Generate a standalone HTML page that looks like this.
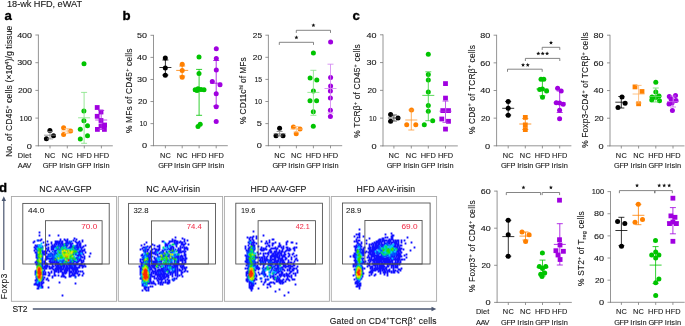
<!DOCTYPE html>
<html><head><meta charset="utf-8"><style>
html,body{margin:0;padding:0;background:#fff;overflow:hidden;}
svg{display:block;font-family:"Liberation Sans", sans-serif;will-change:transform;}
</style></head><body>
<svg width="685" height="326" viewBox="0 0 685 326">
<rect width="685" height="326" fill="#fff"/>
<text x="7.00" y="7.10" font-size="9.2" text-anchor="start" font-weight="normal" fill="#151515" stroke="#151515" stroke-width="0.1" textLength="75.00" lengthAdjust="spacing">18-wk HFD, eWAT</text>
<text x="4.4" y="19.8" font-size="13.2" font-weight="bold" fill="#000" stroke="#000" stroke-width="0.35">a</text>
<text x="122.4" y="19.6" font-size="13.2" font-weight="bold" fill="#000" stroke="#000" stroke-width="0.35">b</text>
<text x="352.6" y="19.9" font-size="13.2" font-weight="bold" fill="#000" stroke="#000" stroke-width="0.35">c</text>
<text x="-0.9" y="192.0" font-size="13.2" font-weight="bold" fill="#000" stroke="#000" stroke-width="0.35">d</text>
<line x1="38.40" y1="34.60" x2="38.40" y2="146.20" stroke="#7a7a7a" stroke-width="0.8"/>
<line x1="38.00" y1="145.80" x2="112.80" y2="145.80" stroke="#7a7a7a" stroke-width="0.8"/>
<line x1="35.40" y1="145.80" x2="38.40" y2="145.80" stroke="#7a7a7a" stroke-width="0.8"/>
<text x="32.00" y="148.55" font-size="7.6" text-anchor="end" font-weight="normal" fill="#151515" stroke="#151515" stroke-width="0.1" textLength="5.15" lengthAdjust="spacingAndGlyphs">0</text>
<line x1="35.40" y1="118.10" x2="38.40" y2="118.10" stroke="#7a7a7a" stroke-width="0.8"/>
<text x="32.00" y="120.85" font-size="7.6" text-anchor="end" font-weight="normal" fill="#151515" stroke="#151515" stroke-width="0.1" textLength="12.45" lengthAdjust="spacingAndGlyphs">100</text>
<line x1="35.40" y1="90.40" x2="38.40" y2="90.40" stroke="#7a7a7a" stroke-width="0.8"/>
<text x="32.00" y="93.15" font-size="7.6" text-anchor="end" font-weight="normal" fill="#151515" stroke="#151515" stroke-width="0.1" textLength="14.05" lengthAdjust="spacingAndGlyphs">200</text>
<line x1="35.40" y1="62.70" x2="38.40" y2="62.70" stroke="#7a7a7a" stroke-width="0.8"/>
<text x="32.00" y="65.45" font-size="7.6" text-anchor="end" font-weight="normal" fill="#151515" stroke="#151515" stroke-width="0.1" textLength="14.85" lengthAdjust="spacingAndGlyphs">300</text>
<line x1="35.40" y1="35.00" x2="38.40" y2="35.00" stroke="#7a7a7a" stroke-width="0.8"/>
<text x="32.00" y="37.75" font-size="7.6" text-anchor="end" font-weight="normal" fill="#151515" stroke="#151515" stroke-width="0.1" textLength="14.85" lengthAdjust="spacingAndGlyphs">400</text>
<line x1="50.00" y1="145.80" x2="50.00" y2="148.40" stroke="#7a7a7a" stroke-width="0.8"/>
<line x1="67.30" y1="145.80" x2="67.30" y2="148.40" stroke="#7a7a7a" stroke-width="0.8"/>
<line x1="84.30" y1="145.80" x2="84.30" y2="148.40" stroke="#7a7a7a" stroke-width="0.8"/>
<line x1="101.40" y1="145.80" x2="101.40" y2="148.40" stroke="#7a7a7a" stroke-width="0.8"/>
<text x="50.00" y="157.70" font-size="7.4" text-anchor="middle" font-weight="normal" fill="#151515" stroke="#151515" stroke-width="0.1" textLength="10.90" lengthAdjust="spacing">NC</text>
<text x="50.00" y="168.00" font-size="7.4" text-anchor="middle" font-weight="normal" fill="#151515" stroke="#151515" stroke-width="0.1" textLength="14.40" lengthAdjust="spacing">GFP</text>
<text x="67.30" y="157.70" font-size="7.4" text-anchor="middle" font-weight="normal" fill="#151515" stroke="#151515" stroke-width="0.1" textLength="10.90" lengthAdjust="spacing">NC</text>
<text x="67.30" y="168.00" font-size="7.4" text-anchor="middle" font-weight="normal" fill="#151515" stroke="#151515" stroke-width="0.1" textLength="16.30" lengthAdjust="spacing">Irisin</text>
<text x="84.30" y="157.70" font-size="7.4" text-anchor="middle" font-weight="normal" fill="#151515" stroke="#151515" stroke-width="0.1" textLength="15.20" lengthAdjust="spacing">HFD</text>
<text x="84.30" y="168.00" font-size="7.4" text-anchor="middle" font-weight="normal" fill="#151515" stroke="#151515" stroke-width="0.1" textLength="14.40" lengthAdjust="spacing">GFP</text>
<text x="101.40" y="157.70" font-size="7.4" text-anchor="middle" font-weight="normal" fill="#151515" stroke="#151515" stroke-width="0.1" textLength="15.20" lengthAdjust="spacing">HFD</text>
<text x="101.40" y="168.00" font-size="7.4" text-anchor="middle" font-weight="normal" fill="#151515" stroke="#151515" stroke-width="0.1" textLength="16.30" lengthAdjust="spacing">Irisin</text>
<text x="17.80" y="157.70" font-size="7.4" text-anchor="start" font-weight="normal" fill="#151515" stroke="#151515" stroke-width="0.1" textLength="13.40" lengthAdjust="spacing">Diet</text>
<text x="17.80" y="168.00" font-size="7.4" text-anchor="start" font-weight="normal" fill="#151515" stroke="#151515" stroke-width="0.1" textLength="13.60" lengthAdjust="spacing">AAV</text>
<text x="12.00" y="157.10" font-size="8.5" text-anchor="start" font-weight="normal" fill="#151515" stroke="#151515" stroke-width="0.1" transform="rotate(-90 12.00 157.10)" textLength="131.40" lengthAdjust="spacing"><tspan>No. of CD45</tspan><tspan dy="-3.23" font-size="5.61">+</tspan><tspan dy="3.23"> cells (×10</tspan><tspan dy="-3.23" font-size="5.61">4</tspan><tspan dy="3.23">)/g tissue</tspan></text>
<circle cx="49.90" cy="130.60" r="2.5" fill="#000000"/>
<circle cx="53.50" cy="135.80" r="2.5" fill="#000000"/>
<circle cx="46.40" cy="138.80" r="2.5" fill="#000000"/>
<line x1="50.00" y1="131.50" x2="50.00" y2="138.90" stroke="#808080" stroke-width="0.8"/>
<line x1="47.00" y1="131.50" x2="53.00" y2="131.50" stroke="#808080" stroke-width="0.8"/>
<line x1="47.00" y1="138.90" x2="53.00" y2="138.90" stroke="#808080" stroke-width="0.8"/>
<line x1="44.00" y1="135.20" x2="56.00" y2="135.20" stroke="#808080" stroke-width="0.8"/>
<circle cx="63.60" cy="127.80" r="2.5" fill="#ff8000"/>
<circle cx="70.60" cy="131.10" r="2.5" fill="#ff8000"/>
<circle cx="63.60" cy="134.50" r="2.5" fill="#ff8000"/>
<line x1="67.30" y1="128.60" x2="67.30" y2="133.40" stroke="#ffc080" stroke-width="0.8"/>
<line x1="64.30" y1="128.60" x2="70.30" y2="128.60" stroke="#ffc080" stroke-width="0.8"/>
<line x1="64.30" y1="133.40" x2="70.30" y2="133.40" stroke="#ffc080" stroke-width="0.8"/>
<line x1="61.30" y1="131.00" x2="73.30" y2="131.00" stroke="#ffc080" stroke-width="0.8"/>
<circle cx="84.00" cy="63.70" r="2.5" fill="#00c400"/>
<circle cx="83.90" cy="110.90" r="2.5" fill="#00c400"/>
<circle cx="83.90" cy="120.80" r="2.5" fill="#00c400"/>
<circle cx="87.50" cy="125.80" r="2.5" fill="#00c400"/>
<circle cx="80.30" cy="129.20" r="2.5" fill="#00c400"/>
<circle cx="87.50" cy="135.70" r="2.5" fill="#00c400"/>
<circle cx="80.30" cy="139.10" r="2.5" fill="#00c400"/>
<line x1="84.10" y1="92.40" x2="84.10" y2="143.30" stroke="#80e280" stroke-width="0.8"/>
<line x1="81.10" y1="92.40" x2="87.10" y2="92.40" stroke="#80e280" stroke-width="0.8"/>
<line x1="81.10" y1="143.30" x2="87.10" y2="143.30" stroke="#80e280" stroke-width="0.8"/>
<line x1="78.10" y1="117.80" x2="90.10" y2="117.80" stroke="#80e280" stroke-width="0.8"/>
<rect x="94.80" y="105.10" width="4.80" height="4.80" fill="#a000e0"/>
<rect x="98.60" y="109.60" width="4.80" height="4.80" fill="#a000e0"/>
<rect x="94.80" y="113.90" width="4.80" height="4.80" fill="#a000e0"/>
<rect x="98.60" y="118.10" width="4.80" height="4.80" fill="#a000e0"/>
<rect x="102.20" y="122.60" width="4.80" height="4.80" fill="#a000e0"/>
<rect x="95.00" y="127.00" width="4.80" height="4.80" fill="#a000e0"/>
<rect x="102.00" y="127.00" width="4.80" height="4.80" fill="#a000e0"/>
<rect x="98.60" y="123.60" width="4.80" height="4.80" fill="#a000e0"/>
<line x1="101.20" y1="110.50" x2="101.20" y2="129.50" stroke="#ae26e5" stroke-width="0.8"/>
<line x1="98.20" y1="110.50" x2="104.20" y2="110.50" stroke="#ae26e5" stroke-width="0.8"/>
<line x1="98.20" y1="129.50" x2="104.20" y2="129.50" stroke="#ae26e5" stroke-width="0.8"/>
<line x1="95.20" y1="120.00" x2="107.20" y2="120.00" stroke="#ae26e5" stroke-width="0.8"/>
<line x1="153.50" y1="34.90" x2="153.50" y2="146.10" stroke="#7a7a7a" stroke-width="0.8"/>
<line x1="153.10" y1="145.70" x2="227.80" y2="145.70" stroke="#7a7a7a" stroke-width="0.8"/>
<line x1="150.50" y1="145.70" x2="153.50" y2="145.70" stroke="#7a7a7a" stroke-width="0.8"/>
<text x="147.10" y="148.45" font-size="7.6" text-anchor="end" font-weight="normal" fill="#151515" stroke="#151515" stroke-width="0.1" textLength="5.15" lengthAdjust="spacingAndGlyphs">0</text>
<line x1="150.50" y1="123.62" x2="153.50" y2="123.62" stroke="#7a7a7a" stroke-width="0.8"/>
<text x="147.10" y="126.37" font-size="7.6" text-anchor="end" font-weight="normal" fill="#151515" stroke="#151515" stroke-width="0.1" textLength="7.60" lengthAdjust="spacingAndGlyphs">10</text>
<line x1="150.50" y1="101.54" x2="153.50" y2="101.54" stroke="#7a7a7a" stroke-width="0.8"/>
<text x="147.10" y="104.29" font-size="7.6" text-anchor="end" font-weight="normal" fill="#151515" stroke="#151515" stroke-width="0.1" textLength="9.20" lengthAdjust="spacingAndGlyphs">20</text>
<line x1="150.50" y1="79.46" x2="153.50" y2="79.46" stroke="#7a7a7a" stroke-width="0.8"/>
<text x="147.10" y="82.21" font-size="7.6" text-anchor="end" font-weight="normal" fill="#151515" stroke="#151515" stroke-width="0.1" textLength="10.00" lengthAdjust="spacingAndGlyphs">30</text>
<line x1="150.50" y1="57.38" x2="153.50" y2="57.38" stroke="#7a7a7a" stroke-width="0.8"/>
<text x="147.10" y="60.13" font-size="7.6" text-anchor="end" font-weight="normal" fill="#151515" stroke="#151515" stroke-width="0.1" textLength="10.00" lengthAdjust="spacingAndGlyphs">40</text>
<line x1="150.50" y1="35.30" x2="153.50" y2="35.30" stroke="#7a7a7a" stroke-width="0.8"/>
<text x="147.10" y="38.05" font-size="7.6" text-anchor="end" font-weight="normal" fill="#151515" stroke="#151515" stroke-width="0.1" textLength="10.00" lengthAdjust="spacingAndGlyphs">50</text>
<line x1="165.40" y1="145.70" x2="165.40" y2="148.30" stroke="#7a7a7a" stroke-width="0.8"/>
<line x1="182.20" y1="145.70" x2="182.20" y2="148.30" stroke="#7a7a7a" stroke-width="0.8"/>
<line x1="199.10" y1="145.70" x2="199.10" y2="148.30" stroke="#7a7a7a" stroke-width="0.8"/>
<line x1="216.20" y1="145.70" x2="216.20" y2="148.30" stroke="#7a7a7a" stroke-width="0.8"/>
<text x="165.40" y="157.60" font-size="7.4" text-anchor="middle" font-weight="normal" fill="#151515" stroke="#151515" stroke-width="0.1" textLength="10.90" lengthAdjust="spacing">NC</text>
<text x="165.40" y="167.90" font-size="7.4" text-anchor="middle" font-weight="normal" fill="#151515" stroke="#151515" stroke-width="0.1" textLength="14.40" lengthAdjust="spacing">GFP</text>
<text x="182.20" y="157.60" font-size="7.4" text-anchor="middle" font-weight="normal" fill="#151515" stroke="#151515" stroke-width="0.1" textLength="10.90" lengthAdjust="spacing">NC</text>
<text x="182.20" y="167.90" font-size="7.4" text-anchor="middle" font-weight="normal" fill="#151515" stroke="#151515" stroke-width="0.1" textLength="16.30" lengthAdjust="spacing">Irisin</text>
<text x="199.10" y="157.60" font-size="7.4" text-anchor="middle" font-weight="normal" fill="#151515" stroke="#151515" stroke-width="0.1" textLength="15.20" lengthAdjust="spacing">HFD</text>
<text x="199.10" y="167.90" font-size="7.4" text-anchor="middle" font-weight="normal" fill="#151515" stroke="#151515" stroke-width="0.1" textLength="14.40" lengthAdjust="spacing">GFP</text>
<text x="216.20" y="157.60" font-size="7.4" text-anchor="middle" font-weight="normal" fill="#151515" stroke="#151515" stroke-width="0.1" textLength="15.20" lengthAdjust="spacing">HFD</text>
<text x="216.20" y="167.90" font-size="7.4" text-anchor="middle" font-weight="normal" fill="#151515" stroke="#151515" stroke-width="0.1" textLength="16.30" lengthAdjust="spacing">Irisin</text>
<text x="132.00" y="133.10" font-size="8.4" text-anchor="start" font-weight="normal" fill="#151515" stroke="#151515" stroke-width="0.1" transform="rotate(-90 132.00 133.10)" textLength="84.60" lengthAdjust="spacing"><tspan>% MFs of CD45</tspan><tspan dy="-3.19" font-size="5.54">+</tspan><tspan dy="3.19"> cells</tspan></text>
<circle cx="165.30" cy="58.10" r="2.5" fill="#000000"/>
<circle cx="165.30" cy="67.90" r="2.5" fill="#000000"/>
<circle cx="165.30" cy="75.30" r="2.5" fill="#000000"/>
<line x1="165.40" y1="60.00" x2="165.40" y2="75.00" stroke="#000000" stroke-width="0.8"/>
<line x1="162.40" y1="60.00" x2="168.40" y2="60.00" stroke="#000000" stroke-width="0.8"/>
<line x1="162.40" y1="75.00" x2="168.40" y2="75.00" stroke="#000000" stroke-width="0.8"/>
<line x1="159.40" y1="67.50" x2="171.40" y2="67.50" stroke="#000000" stroke-width="0.8"/>
<circle cx="182.20" cy="64.30" r="2.5" fill="#ff8000"/>
<circle cx="182.20" cy="70.40" r="2.5" fill="#ff8000"/>
<circle cx="182.20" cy="77.30" r="2.5" fill="#ff8000"/>
<line x1="182.20" y1="66.00" x2="182.20" y2="76.00" stroke="#ff8000" stroke-width="0.8"/>
<line x1="179.20" y1="66.00" x2="185.20" y2="66.00" stroke="#ff8000" stroke-width="0.8"/>
<line x1="179.20" y1="76.00" x2="185.20" y2="76.00" stroke="#ff8000" stroke-width="0.8"/>
<line x1="176.20" y1="70.40" x2="188.20" y2="70.40" stroke="#ff8000" stroke-width="0.8"/>
<circle cx="199.00" cy="56.90" r="2.5" fill="#00c400"/>
<circle cx="199.00" cy="73.60" r="2.5" fill="#00c400"/>
<circle cx="195.20" cy="89.70" r="2.5" fill="#00c400"/>
<circle cx="198.00" cy="88.70" r="2.5" fill="#00c400"/>
<circle cx="201.00" cy="89.50" r="2.5" fill="#00c400"/>
<circle cx="204.00" cy="89.70" r="2.5" fill="#00c400"/>
<circle cx="197.00" cy="90.50" r="2.5" fill="#00c400"/>
<circle cx="198.00" cy="126.40" r="2.5" fill="#00c400"/>
<circle cx="200.20" cy="124.20" r="2.5" fill="#00c400"/>
<line x1="199.10" y1="69.40" x2="199.10" y2="115.30" stroke="#00c400" stroke-width="0.8"/>
<line x1="196.10" y1="69.40" x2="202.10" y2="69.40" stroke="#00c400" stroke-width="0.8"/>
<line x1="196.10" y1="115.30" x2="202.10" y2="115.30" stroke="#00c400" stroke-width="0.8"/>
<line x1="193.10" y1="91.00" x2="205.10" y2="91.00" stroke="#00c400" stroke-width="0.8"/>
<circle cx="216.30" cy="48.80" r="2.5" fill="#a000e0"/>
<circle cx="216.30" cy="58.60" r="2.5" fill="#a000e0"/>
<circle cx="216.30" cy="69.90" r="2.5" fill="#a000e0"/>
<circle cx="212.30" cy="81.40" r="2.5" fill="#a000e0"/>
<circle cx="220.00" cy="84.70" r="2.5" fill="#a000e0"/>
<circle cx="216.20" cy="93.80" r="2.5" fill="#a000e0"/>
<circle cx="216.20" cy="106.80" r="2.5" fill="#a000e0"/>
<circle cx="216.20" cy="121.40" r="2.5" fill="#a000e0"/>
<line x1="216.20" y1="60.50" x2="216.20" y2="106.00" stroke="#a000e0" stroke-width="0.8"/>
<line x1="213.20" y1="60.50" x2="219.20" y2="60.50" stroke="#a000e0" stroke-width="0.8"/>
<line x1="213.20" y1="106.00" x2="219.20" y2="106.00" stroke="#a000e0" stroke-width="0.8"/>
<line x1="210.20" y1="83.20" x2="222.20" y2="83.20" stroke="#a000e0" stroke-width="0.8"/>
<line x1="268.40" y1="34.80" x2="268.40" y2="146.10" stroke="#7a7a7a" stroke-width="0.8"/>
<line x1="268.00" y1="145.70" x2="342.20" y2="145.70" stroke="#7a7a7a" stroke-width="0.8"/>
<line x1="265.40" y1="145.70" x2="268.40" y2="145.70" stroke="#7a7a7a" stroke-width="0.8"/>
<text x="262.00" y="148.45" font-size="7.6" text-anchor="end" font-weight="normal" fill="#151515" stroke="#151515" stroke-width="0.1" textLength="5.15" lengthAdjust="spacingAndGlyphs">0</text>
<line x1="265.40" y1="123.60" x2="268.40" y2="123.60" stroke="#7a7a7a" stroke-width="0.8"/>
<text x="262.00" y="126.35" font-size="7.6" text-anchor="end" font-weight="normal" fill="#151515" stroke="#151515" stroke-width="0.1" textLength="5.15" lengthAdjust="spacingAndGlyphs">5</text>
<line x1="265.40" y1="101.50" x2="268.40" y2="101.50" stroke="#7a7a7a" stroke-width="0.8"/>
<text x="262.00" y="104.25" font-size="7.6" text-anchor="end" font-weight="normal" fill="#151515" stroke="#151515" stroke-width="0.1" textLength="7.60" lengthAdjust="spacingAndGlyphs">10</text>
<line x1="265.40" y1="79.40" x2="268.40" y2="79.40" stroke="#7a7a7a" stroke-width="0.8"/>
<text x="262.00" y="82.15" font-size="7.6" text-anchor="end" font-weight="normal" fill="#151515" stroke="#151515" stroke-width="0.1" textLength="7.60" lengthAdjust="spacingAndGlyphs">15</text>
<line x1="265.40" y1="57.30" x2="268.40" y2="57.30" stroke="#7a7a7a" stroke-width="0.8"/>
<text x="262.00" y="60.05" font-size="7.6" text-anchor="end" font-weight="normal" fill="#151515" stroke="#151515" stroke-width="0.1" textLength="9.20" lengthAdjust="spacingAndGlyphs">20</text>
<line x1="265.40" y1="35.20" x2="268.40" y2="35.20" stroke="#7a7a7a" stroke-width="0.8"/>
<text x="262.00" y="37.95" font-size="7.6" text-anchor="end" font-weight="normal" fill="#151515" stroke="#151515" stroke-width="0.1" textLength="9.20" lengthAdjust="spacingAndGlyphs">25</text>
<line x1="279.60" y1="145.70" x2="279.60" y2="148.30" stroke="#7a7a7a" stroke-width="0.8"/>
<line x1="296.40" y1="145.70" x2="296.40" y2="148.30" stroke="#7a7a7a" stroke-width="0.8"/>
<line x1="313.40" y1="145.70" x2="313.40" y2="148.30" stroke="#7a7a7a" stroke-width="0.8"/>
<line x1="330.50" y1="145.70" x2="330.50" y2="148.30" stroke="#7a7a7a" stroke-width="0.8"/>
<text x="279.60" y="157.60" font-size="7.4" text-anchor="middle" font-weight="normal" fill="#151515" stroke="#151515" stroke-width="0.1" textLength="10.90" lengthAdjust="spacing">NC</text>
<text x="279.60" y="167.90" font-size="7.4" text-anchor="middle" font-weight="normal" fill="#151515" stroke="#151515" stroke-width="0.1" textLength="14.40" lengthAdjust="spacing">GFP</text>
<text x="296.40" y="157.60" font-size="7.4" text-anchor="middle" font-weight="normal" fill="#151515" stroke="#151515" stroke-width="0.1" textLength="10.90" lengthAdjust="spacing">NC</text>
<text x="296.40" y="167.90" font-size="7.4" text-anchor="middle" font-weight="normal" fill="#151515" stroke="#151515" stroke-width="0.1" textLength="16.30" lengthAdjust="spacing">Irisin</text>
<text x="313.40" y="157.60" font-size="7.4" text-anchor="middle" font-weight="normal" fill="#151515" stroke="#151515" stroke-width="0.1" textLength="15.20" lengthAdjust="spacing">HFD</text>
<text x="313.40" y="167.90" font-size="7.4" text-anchor="middle" font-weight="normal" fill="#151515" stroke="#151515" stroke-width="0.1" textLength="14.40" lengthAdjust="spacing">GFP</text>
<text x="330.50" y="157.60" font-size="7.4" text-anchor="middle" font-weight="normal" fill="#151515" stroke="#151515" stroke-width="0.1" textLength="15.20" lengthAdjust="spacing">HFD</text>
<text x="330.50" y="167.90" font-size="7.4" text-anchor="middle" font-weight="normal" fill="#151515" stroke="#151515" stroke-width="0.1" textLength="16.30" lengthAdjust="spacing">Irisin</text>
<text x="246.50" y="124.10" font-size="8.4" text-anchor="start" font-weight="normal" fill="#151515" stroke="#151515" stroke-width="0.1" transform="rotate(-90 246.50 124.10)" textLength="66.70" lengthAdjust="spacing"><tspan>% CD11c</tspan><tspan dy="-3.19" font-size="5.54">hi</tspan><tspan dy="3.19"> of MFs</tspan></text>
<circle cx="279.60" cy="128.30" r="2.5" fill="#000000"/>
<circle cx="276.00" cy="135.70" r="2.5" fill="#000000"/>
<circle cx="283.00" cy="135.70" r="2.5" fill="#000000"/>
<line x1="279.60" y1="131.50" x2="279.60" y2="136.00" stroke="#808080" stroke-width="0.8"/>
<line x1="276.60" y1="131.50" x2="282.60" y2="131.50" stroke="#808080" stroke-width="0.8"/>
<line x1="276.60" y1="136.00" x2="282.60" y2="136.00" stroke="#808080" stroke-width="0.8"/>
<line x1="273.60" y1="133.80" x2="285.60" y2="133.80" stroke="#808080" stroke-width="0.8"/>
<circle cx="293.40" cy="126.90" r="2.5" fill="#ff8000"/>
<circle cx="300.00" cy="129.10" r="2.5" fill="#ff8000"/>
<circle cx="296.20" cy="133.80" r="2.5" fill="#ff8000"/>
<line x1="296.40" y1="126.50" x2="296.40" y2="132.00" stroke="#ffc080" stroke-width="0.8"/>
<line x1="293.40" y1="126.50" x2="299.40" y2="126.50" stroke="#ffc080" stroke-width="0.8"/>
<line x1="293.40" y1="132.00" x2="299.40" y2="132.00" stroke="#ffc080" stroke-width="0.8"/>
<line x1="290.40" y1="129.10" x2="302.40" y2="129.10" stroke="#ffc080" stroke-width="0.8"/>
<circle cx="313.40" cy="53.10" r="2.5" fill="#00c400"/>
<circle cx="310.10" cy="78.00" r="2.5" fill="#00c400"/>
<circle cx="316.80" cy="80.00" r="2.5" fill="#00c400"/>
<circle cx="313.40" cy="91.00" r="2.5" fill="#00c400"/>
<circle cx="310.00" cy="100.70" r="2.5" fill="#00c400"/>
<circle cx="316.60" cy="100.70" r="2.5" fill="#00c400"/>
<circle cx="313.30" cy="111.70" r="2.5" fill="#00c400"/>
<circle cx="313.30" cy="126.30" r="2.5" fill="#00c400"/>
<line x1="313.40" y1="70.30" x2="313.40" y2="115.30" stroke="#80e280" stroke-width="0.8"/>
<line x1="310.40" y1="70.30" x2="316.40" y2="70.30" stroke="#80e280" stroke-width="0.8"/>
<line x1="310.40" y1="115.30" x2="316.40" y2="115.30" stroke="#80e280" stroke-width="0.8"/>
<line x1="307.40" y1="92.40" x2="319.40" y2="92.40" stroke="#80e280" stroke-width="0.8"/>
<circle cx="330.60" cy="42.10" r="2.5" fill="#a000e0"/>
<circle cx="330.60" cy="77.50" r="2.5" fill="#a000e0"/>
<circle cx="330.60" cy="86.00" r="2.5" fill="#a000e0"/>
<circle cx="330.40" cy="91.00" r="2.5" fill="#a000e0"/>
<circle cx="330.40" cy="97.90" r="2.5" fill="#a000e0"/>
<circle cx="330.40" cy="110.30" r="2.5" fill="#a000e0"/>
<circle cx="330.40" cy="116.40" r="2.5" fill="#a000e0"/>
<line x1="330.50" y1="64.20" x2="330.50" y2="113.10" stroke="#d080f0" stroke-width="0.8"/>
<line x1="327.50" y1="64.20" x2="333.50" y2="64.20" stroke="#d080f0" stroke-width="0.8"/>
<line x1="327.50" y1="113.10" x2="333.50" y2="113.10" stroke="#d080f0" stroke-width="0.8"/>
<line x1="324.50" y1="88.50" x2="336.50" y2="88.50" stroke="#d080f0" stroke-width="0.8"/>
<path d="M279.30 44.90V42.30H313.50V44.90" stroke="#666" stroke-width="0.8" fill="none"/>
<polygon points="296.40,35.35 296.96,36.73 298.44,36.84 297.30,37.79 297.66,39.24 296.40,38.45 295.14,39.24 295.50,37.79 294.36,36.84 295.84,36.73" fill="#111"/>
<path d="M296.30 32.90V30.30H330.50V32.90" stroke="#666" stroke-width="0.8" fill="none"/>
<polygon points="313.40,23.15 313.96,24.53 315.44,24.64 314.30,25.59 314.66,27.04 313.40,26.25 312.14,27.04 312.50,25.59 311.36,24.64 312.84,24.53" fill="#111"/>
<line x1="383.00" y1="34.40" x2="383.00" y2="146.30" stroke="#7a7a7a" stroke-width="0.8"/>
<line x1="382.60" y1="145.90" x2="457.80" y2="145.90" stroke="#7a7a7a" stroke-width="0.8"/>
<line x1="380.00" y1="145.90" x2="383.00" y2="145.90" stroke="#7a7a7a" stroke-width="0.8"/>
<text x="376.60" y="148.65" font-size="7.6" text-anchor="end" font-weight="normal" fill="#151515" stroke="#151515" stroke-width="0.1" textLength="5.15" lengthAdjust="spacingAndGlyphs">0</text>
<line x1="380.00" y1="118.12" x2="383.00" y2="118.12" stroke="#7a7a7a" stroke-width="0.8"/>
<text x="376.60" y="120.88" font-size="7.6" text-anchor="end" font-weight="normal" fill="#151515" stroke="#151515" stroke-width="0.1" textLength="7.60" lengthAdjust="spacingAndGlyphs">10</text>
<line x1="380.00" y1="90.35" x2="383.00" y2="90.35" stroke="#7a7a7a" stroke-width="0.8"/>
<text x="376.60" y="93.10" font-size="7.6" text-anchor="end" font-weight="normal" fill="#151515" stroke="#151515" stroke-width="0.1" textLength="9.20" lengthAdjust="spacingAndGlyphs">20</text>
<line x1="380.00" y1="62.57" x2="383.00" y2="62.57" stroke="#7a7a7a" stroke-width="0.8"/>
<text x="376.60" y="65.32" font-size="7.6" text-anchor="end" font-weight="normal" fill="#151515" stroke="#151515" stroke-width="0.1" textLength="10.00" lengthAdjust="spacingAndGlyphs">30</text>
<line x1="380.00" y1="34.80" x2="383.00" y2="34.80" stroke="#7a7a7a" stroke-width="0.8"/>
<text x="376.60" y="37.55" font-size="7.6" text-anchor="end" font-weight="normal" fill="#151515" stroke="#151515" stroke-width="0.1" textLength="10.00" lengthAdjust="spacingAndGlyphs">40</text>
<line x1="393.90" y1="145.90" x2="393.90" y2="148.50" stroke="#7a7a7a" stroke-width="0.8"/>
<line x1="411.30" y1="145.90" x2="411.30" y2="148.50" stroke="#7a7a7a" stroke-width="0.8"/>
<line x1="428.30" y1="145.90" x2="428.30" y2="148.50" stroke="#7a7a7a" stroke-width="0.8"/>
<line x1="445.50" y1="145.90" x2="445.50" y2="148.50" stroke="#7a7a7a" stroke-width="0.8"/>
<text x="393.90" y="157.80" font-size="7.4" text-anchor="middle" font-weight="normal" fill="#151515" stroke="#151515" stroke-width="0.1" textLength="10.90" lengthAdjust="spacing">NC</text>
<text x="393.90" y="168.10" font-size="7.4" text-anchor="middle" font-weight="normal" fill="#151515" stroke="#151515" stroke-width="0.1" textLength="14.40" lengthAdjust="spacing">GFP</text>
<text x="411.30" y="157.80" font-size="7.4" text-anchor="middle" font-weight="normal" fill="#151515" stroke="#151515" stroke-width="0.1" textLength="10.90" lengthAdjust="spacing">NC</text>
<text x="411.30" y="168.10" font-size="7.4" text-anchor="middle" font-weight="normal" fill="#151515" stroke="#151515" stroke-width="0.1" textLength="16.30" lengthAdjust="spacing">Irisin</text>
<text x="428.30" y="157.80" font-size="7.4" text-anchor="middle" font-weight="normal" fill="#151515" stroke="#151515" stroke-width="0.1" textLength="15.20" lengthAdjust="spacing">HFD</text>
<text x="428.30" y="168.10" font-size="7.4" text-anchor="middle" font-weight="normal" fill="#151515" stroke="#151515" stroke-width="0.1" textLength="14.40" lengthAdjust="spacing">GFP</text>
<text x="445.50" y="157.80" font-size="7.4" text-anchor="middle" font-weight="normal" fill="#151515" stroke="#151515" stroke-width="0.1" textLength="15.20" lengthAdjust="spacing">HFD</text>
<text x="445.50" y="168.10" font-size="7.4" text-anchor="middle" font-weight="normal" fill="#151515" stroke="#151515" stroke-width="0.1" textLength="16.30" lengthAdjust="spacing">Irisin</text>
<text x="360.30" y="137.80" font-size="8.4" text-anchor="start" font-weight="normal" fill="#151515" stroke="#151515" stroke-width="0.1" transform="rotate(-90 360.30 137.80)" textLength="93.60" lengthAdjust="spacing"><tspan>% TCRβ</tspan><tspan dy="-3.19" font-size="5.54">+</tspan><tspan dy="3.19"> of CD45</tspan><tspan dy="-3.19" font-size="5.54">+</tspan><tspan dy="3.19"> cells</tspan></text>
<circle cx="390.60" cy="114.60" r="2.5" fill="#000000"/>
<circle cx="390.60" cy="121.30" r="2.5" fill="#000000"/>
<circle cx="398.00" cy="118.00" r="2.5" fill="#000000"/>
<line x1="393.90" y1="115.00" x2="393.90" y2="121.00" stroke="#333333" stroke-width="0.8"/>
<line x1="390.90" y1="115.00" x2="396.90" y2="115.00" stroke="#333333" stroke-width="0.8"/>
<line x1="390.90" y1="121.00" x2="396.90" y2="121.00" stroke="#333333" stroke-width="0.8"/>
<line x1="387.90" y1="118.00" x2="399.90" y2="118.00" stroke="#333333" stroke-width="0.8"/>
<circle cx="411.50" cy="109.90" r="2.5" fill="#ff8000"/>
<circle cx="406.70" cy="124.70" r="2.5" fill="#ff8000"/>
<circle cx="415.80" cy="124.70" r="2.5" fill="#ff8000"/>
<line x1="411.30" y1="110.00" x2="411.30" y2="130.00" stroke="#ff9933" stroke-width="0.8"/>
<line x1="408.30" y1="110.00" x2="414.30" y2="110.00" stroke="#ff9933" stroke-width="0.8"/>
<line x1="408.30" y1="130.00" x2="414.30" y2="130.00" stroke="#ff9933" stroke-width="0.8"/>
<line x1="405.30" y1="120.00" x2="417.30" y2="120.00" stroke="#ff9933" stroke-width="0.8"/>
<circle cx="428.30" cy="54.30" r="2.5" fill="#00c400"/>
<circle cx="428.30" cy="74.50" r="2.5" fill="#00c400"/>
<circle cx="428.30" cy="80.00" r="2.5" fill="#00c400"/>
<circle cx="428.30" cy="92.00" r="2.5" fill="#00c400"/>
<circle cx="428.30" cy="105.50" r="2.5" fill="#00c400"/>
<circle cx="428.30" cy="111.20" r="2.5" fill="#00c400"/>
<circle cx="424.30" cy="124.70" r="2.5" fill="#00c400"/>
<circle cx="432.70" cy="120.70" r="2.5" fill="#00c400"/>
<line x1="428.30" y1="71.80" x2="428.30" y2="120.70" stroke="#33d033" stroke-width="0.8"/>
<line x1="425.30" y1="71.80" x2="431.30" y2="71.80" stroke="#33d033" stroke-width="0.8"/>
<line x1="425.30" y1="120.70" x2="431.30" y2="120.70" stroke="#33d033" stroke-width="0.8"/>
<line x1="422.30" y1="95.40" x2="434.30" y2="95.40" stroke="#33d033" stroke-width="0.8"/>
<rect x="443.10" y="81.20" width="4.80" height="4.80" fill="#a000e0"/>
<rect x="443.10" y="95.70" width="4.80" height="4.80" fill="#a000e0"/>
<rect x="440.40" y="108.20" width="4.80" height="4.80" fill="#a000e0"/>
<rect x="446.10" y="108.20" width="4.80" height="4.80" fill="#a000e0"/>
<rect x="439.40" y="116.60" width="4.80" height="4.80" fill="#a000e0"/>
<rect x="446.10" y="118.90" width="4.80" height="4.80" fill="#a000e0"/>
<rect x="443.10" y="126.70" width="4.80" height="4.80" fill="#a000e0"/>
<line x1="445.50" y1="101.10" x2="445.50" y2="122.40" stroke="#b333e6" stroke-width="0.8"/>
<line x1="442.50" y1="101.10" x2="448.50" y2="101.10" stroke="#b333e6" stroke-width="0.8"/>
<line x1="442.50" y1="122.40" x2="448.50" y2="122.40" stroke="#b333e6" stroke-width="0.8"/>
<line x1="439.50" y1="111.20" x2="451.50" y2="111.20" stroke="#b333e6" stroke-width="0.8"/>
<line x1="496.60" y1="34.80" x2="496.60" y2="146.20" stroke="#7a7a7a" stroke-width="0.8"/>
<line x1="496.20" y1="145.80" x2="571.40" y2="145.80" stroke="#7a7a7a" stroke-width="0.8"/>
<line x1="493.60" y1="145.80" x2="496.60" y2="145.80" stroke="#7a7a7a" stroke-width="0.8"/>
<text x="490.20" y="148.55" font-size="7.6" text-anchor="end" font-weight="normal" fill="#151515" stroke="#151515" stroke-width="0.1" textLength="5.15" lengthAdjust="spacingAndGlyphs">0</text>
<line x1="493.60" y1="118.15" x2="496.60" y2="118.15" stroke="#7a7a7a" stroke-width="0.8"/>
<text x="490.20" y="120.90" font-size="7.6" text-anchor="end" font-weight="normal" fill="#151515" stroke="#151515" stroke-width="0.1" textLength="9.20" lengthAdjust="spacingAndGlyphs">20</text>
<line x1="493.60" y1="90.50" x2="496.60" y2="90.50" stroke="#7a7a7a" stroke-width="0.8"/>
<text x="490.20" y="93.25" font-size="7.6" text-anchor="end" font-weight="normal" fill="#151515" stroke="#151515" stroke-width="0.1" textLength="10.00" lengthAdjust="spacingAndGlyphs">40</text>
<line x1="493.60" y1="62.85" x2="496.60" y2="62.85" stroke="#7a7a7a" stroke-width="0.8"/>
<text x="490.20" y="65.60" font-size="7.6" text-anchor="end" font-weight="normal" fill="#151515" stroke="#151515" stroke-width="0.1" textLength="10.00" lengthAdjust="spacingAndGlyphs">60</text>
<line x1="493.60" y1="35.20" x2="496.60" y2="35.20" stroke="#7a7a7a" stroke-width="0.8"/>
<text x="490.20" y="37.95" font-size="7.6" text-anchor="end" font-weight="normal" fill="#151515" stroke="#151515" stroke-width="0.1" textLength="10.00" lengthAdjust="spacingAndGlyphs">80</text>
<line x1="508.20" y1="145.80" x2="508.20" y2="148.40" stroke="#7a7a7a" stroke-width="0.8"/>
<line x1="525.30" y1="145.80" x2="525.30" y2="148.40" stroke="#7a7a7a" stroke-width="0.8"/>
<line x1="542.40" y1="145.80" x2="542.40" y2="148.40" stroke="#7a7a7a" stroke-width="0.8"/>
<line x1="559.70" y1="145.80" x2="559.70" y2="148.40" stroke="#7a7a7a" stroke-width="0.8"/>
<text x="508.20" y="157.70" font-size="7.4" text-anchor="middle" font-weight="normal" fill="#151515" stroke="#151515" stroke-width="0.1" textLength="10.90" lengthAdjust="spacing">NC</text>
<text x="508.20" y="168.00" font-size="7.4" text-anchor="middle" font-weight="normal" fill="#151515" stroke="#151515" stroke-width="0.1" textLength="14.40" lengthAdjust="spacing">GFP</text>
<text x="525.30" y="157.70" font-size="7.4" text-anchor="middle" font-weight="normal" fill="#151515" stroke="#151515" stroke-width="0.1" textLength="10.90" lengthAdjust="spacing">NC</text>
<text x="525.30" y="168.00" font-size="7.4" text-anchor="middle" font-weight="normal" fill="#151515" stroke="#151515" stroke-width="0.1" textLength="16.30" lengthAdjust="spacing">Irisin</text>
<text x="542.40" y="157.70" font-size="7.4" text-anchor="middle" font-weight="normal" fill="#151515" stroke="#151515" stroke-width="0.1" textLength="15.20" lengthAdjust="spacing">HFD</text>
<text x="542.40" y="168.00" font-size="7.4" text-anchor="middle" font-weight="normal" fill="#151515" stroke="#151515" stroke-width="0.1" textLength="14.40" lengthAdjust="spacing">GFP</text>
<text x="559.70" y="157.70" font-size="7.4" text-anchor="middle" font-weight="normal" fill="#151515" stroke="#151515" stroke-width="0.1" textLength="15.20" lengthAdjust="spacing">HFD</text>
<text x="559.70" y="168.00" font-size="7.4" text-anchor="middle" font-weight="normal" fill="#151515" stroke="#151515" stroke-width="0.1" textLength="16.30" lengthAdjust="spacing">Irisin</text>
<text x="474.60" y="134.00" font-size="8.4" text-anchor="start" font-weight="normal" fill="#151515" stroke="#151515" stroke-width="0.1" transform="rotate(-90 474.60 134.00)" textLength="89.00" lengthAdjust="spacing"><tspan>% CD8</tspan><tspan dy="-3.19" font-size="5.54">+</tspan><tspan dy="3.19"> of TCRβ</tspan><tspan dy="-3.19" font-size="5.54">+</tspan><tspan dy="3.19"> cells</tspan></text>
<circle cx="508.20" cy="101.40" r="2.5" fill="#000000"/>
<circle cx="508.20" cy="108.30" r="2.5" fill="#000000"/>
<circle cx="508.20" cy="115.20" r="2.5" fill="#000000"/>
<line x1="508.20" y1="101.50" x2="508.20" y2="115.00" stroke="#000000" stroke-width="0.8"/>
<line x1="505.20" y1="101.50" x2="511.20" y2="101.50" stroke="#000000" stroke-width="0.8"/>
<line x1="505.20" y1="115.00" x2="511.20" y2="115.00" stroke="#000000" stroke-width="0.8"/>
<line x1="502.20" y1="108.30" x2="514.20" y2="108.30" stroke="#000000" stroke-width="0.8"/>
<rect x="522.90" y="115.00" width="4.80" height="4.80" fill="#ff8000"/>
<rect x="522.90" y="122.50" width="4.80" height="4.80" fill="#ff8000"/>
<rect x="522.90" y="127.20" width="4.80" height="4.80" fill="#ff8000"/>
<line x1="525.30" y1="118.50" x2="525.30" y2="129.50" stroke="#ff8000" stroke-width="0.8"/>
<line x1="522.30" y1="118.50" x2="528.30" y2="118.50" stroke="#ff8000" stroke-width="0.8"/>
<line x1="522.30" y1="129.50" x2="528.30" y2="129.50" stroke="#ff8000" stroke-width="0.8"/>
<line x1="519.30" y1="124.00" x2="531.30" y2="124.00" stroke="#ff8000" stroke-width="0.8"/>
<circle cx="541.00" cy="79.30" r="2.5" fill="#00c400"/>
<circle cx="543.80" cy="79.30" r="2.5" fill="#00c400"/>
<circle cx="539.70" cy="89.50" r="2.5" fill="#00c400"/>
<circle cx="546.60" cy="90.90" r="2.5" fill="#00c400"/>
<circle cx="542.50" cy="97.30" r="2.5" fill="#00c400"/>
<circle cx="542.40" cy="88.90" r="2.5" fill="#00c400"/>
<line x1="542.40" y1="78.80" x2="542.40" y2="95.90" stroke="#00c400" stroke-width="0.8"/>
<line x1="539.40" y1="78.80" x2="545.40" y2="78.80" stroke="#00c400" stroke-width="0.8"/>
<line x1="539.40" y1="95.90" x2="545.40" y2="95.90" stroke="#00c400" stroke-width="0.8"/>
<line x1="536.40" y1="89.00" x2="548.40" y2="89.00" stroke="#00c400" stroke-width="0.8"/>
<circle cx="557.60" cy="88.20" r="2.5" fill="#a000e0"/>
<circle cx="561.20" cy="90.90" r="2.5" fill="#a000e0"/>
<circle cx="556.30" cy="102.80" r="2.5" fill="#a000e0"/>
<circle cx="563.20" cy="104.20" r="2.5" fill="#a000e0"/>
<circle cx="559.60" cy="110.20" r="2.5" fill="#a000e0"/>
<circle cx="559.60" cy="118.80" r="2.5" fill="#a000e0"/>
<circle cx="559.60" cy="103.00" r="2.5" fill="#a000e0"/>
<line x1="559.70" y1="91.00" x2="559.70" y2="112.50" stroke="#a000e0" stroke-width="0.8"/>
<line x1="556.70" y1="91.00" x2="562.70" y2="91.00" stroke="#a000e0" stroke-width="0.8"/>
<line x1="556.70" y1="112.50" x2="562.70" y2="112.50" stroke="#a000e0" stroke-width="0.8"/>
<line x1="553.70" y1="102.80" x2="565.70" y2="102.80" stroke="#a000e0" stroke-width="0.8"/>
<path d="M542.20 49.90V47.30H559.80V49.90" stroke="#666" stroke-width="0.8" fill="none"/>
<polygon points="551.00,40.55 551.56,41.93 553.04,42.04 551.90,42.99 552.26,44.44 551.00,43.65 549.74,44.44 550.10,42.99 548.96,42.04 550.44,41.93" fill="#111"/>
<path d="M525.40 61.00V58.40H559.80V61.00" stroke="#666" stroke-width="0.8" fill="none"/>
<polygon points="538.30,51.45 538.86,52.83 540.34,52.94 539.20,53.89 539.56,55.34 538.30,54.55 537.04,55.34 537.40,53.89 536.26,52.94 537.74,52.83" fill="#111"/>
<polygon points="542.70,51.45 543.26,52.83 544.74,52.94 543.60,53.89 543.96,55.34 542.70,54.55 541.44,55.34 541.80,53.89 540.66,52.94 542.14,52.83" fill="#111"/>
<polygon points="547.10,51.45 547.66,52.83 549.14,52.94 548.00,53.89 548.36,55.34 547.10,54.55 545.84,55.34 546.20,53.89 545.06,52.94 546.54,52.83" fill="#111"/>
<path d="M507.50 71.80V69.20H542.20V71.80" stroke="#666" stroke-width="0.8" fill="none"/>
<polygon points="523.05,62.85 523.61,64.23 525.09,64.34 523.95,65.29 524.31,66.74 523.05,65.95 521.79,66.74 522.15,65.29 521.01,64.34 522.49,64.23" fill="#111"/>
<polygon points="527.75,62.85 528.31,64.23 529.79,64.34 528.65,65.29 529.01,66.74 527.75,65.95 526.49,66.74 526.85,65.29 525.71,64.34 527.19,64.23" fill="#111"/>
<line x1="610.00" y1="34.80" x2="610.00" y2="146.30" stroke="#7a7a7a" stroke-width="0.8"/>
<line x1="609.60" y1="145.90" x2="684.50" y2="145.90" stroke="#7a7a7a" stroke-width="0.8"/>
<line x1="607.00" y1="145.90" x2="610.00" y2="145.90" stroke="#7a7a7a" stroke-width="0.8"/>
<text x="603.60" y="148.65" font-size="7.6" text-anchor="end" font-weight="normal" fill="#151515" stroke="#151515" stroke-width="0.1" textLength="5.15" lengthAdjust="spacingAndGlyphs">0</text>
<line x1="607.00" y1="118.23" x2="610.00" y2="118.23" stroke="#7a7a7a" stroke-width="0.8"/>
<text x="603.60" y="120.98" font-size="7.6" text-anchor="end" font-weight="normal" fill="#151515" stroke="#151515" stroke-width="0.1" textLength="9.20" lengthAdjust="spacingAndGlyphs">20</text>
<line x1="607.00" y1="90.55" x2="610.00" y2="90.55" stroke="#7a7a7a" stroke-width="0.8"/>
<text x="603.60" y="93.30" font-size="7.6" text-anchor="end" font-weight="normal" fill="#151515" stroke="#151515" stroke-width="0.1" textLength="10.00" lengthAdjust="spacingAndGlyphs">40</text>
<line x1="607.00" y1="62.88" x2="610.00" y2="62.88" stroke="#7a7a7a" stroke-width="0.8"/>
<text x="603.60" y="65.62" font-size="7.6" text-anchor="end" font-weight="normal" fill="#151515" stroke="#151515" stroke-width="0.1" textLength="10.00" lengthAdjust="spacingAndGlyphs">60</text>
<line x1="607.00" y1="35.20" x2="610.00" y2="35.20" stroke="#7a7a7a" stroke-width="0.8"/>
<text x="603.60" y="37.95" font-size="7.6" text-anchor="end" font-weight="normal" fill="#151515" stroke="#151515" stroke-width="0.1" textLength="10.00" lengthAdjust="spacingAndGlyphs">80</text>
<line x1="621.30" y1="145.90" x2="621.30" y2="148.50" stroke="#7a7a7a" stroke-width="0.8"/>
<line x1="638.60" y1="145.90" x2="638.60" y2="148.50" stroke="#7a7a7a" stroke-width="0.8"/>
<line x1="655.80" y1="145.90" x2="655.80" y2="148.50" stroke="#7a7a7a" stroke-width="0.8"/>
<line x1="673.00" y1="145.90" x2="673.00" y2="148.50" stroke="#7a7a7a" stroke-width="0.8"/>
<text x="621.30" y="157.80" font-size="7.4" text-anchor="middle" font-weight="normal" fill="#151515" stroke="#151515" stroke-width="0.1" textLength="10.90" lengthAdjust="spacing">NC</text>
<text x="621.30" y="168.10" font-size="7.4" text-anchor="middle" font-weight="normal" fill="#151515" stroke="#151515" stroke-width="0.1" textLength="14.40" lengthAdjust="spacing">GFP</text>
<text x="638.60" y="157.80" font-size="7.4" text-anchor="middle" font-weight="normal" fill="#151515" stroke="#151515" stroke-width="0.1" textLength="10.90" lengthAdjust="spacing">NC</text>
<text x="638.60" y="168.10" font-size="7.4" text-anchor="middle" font-weight="normal" fill="#151515" stroke="#151515" stroke-width="0.1" textLength="16.30" lengthAdjust="spacing">Irisin</text>
<text x="655.80" y="157.80" font-size="7.4" text-anchor="middle" font-weight="normal" fill="#151515" stroke="#151515" stroke-width="0.1" textLength="15.20" lengthAdjust="spacing">HFD</text>
<text x="655.80" y="168.10" font-size="7.4" text-anchor="middle" font-weight="normal" fill="#151515" stroke="#151515" stroke-width="0.1" textLength="14.40" lengthAdjust="spacing">GFP</text>
<text x="673.00" y="157.80" font-size="7.4" text-anchor="middle" font-weight="normal" fill="#151515" stroke="#151515" stroke-width="0.1" textLength="15.20" lengthAdjust="spacing">HFD</text>
<text x="673.00" y="168.10" font-size="7.4" text-anchor="middle" font-weight="normal" fill="#151515" stroke="#151515" stroke-width="0.1" textLength="16.30" lengthAdjust="spacing">Irisin</text>
<text x="588.50" y="147.80" font-size="8.4" text-anchor="start" font-weight="normal" fill="#151515" stroke="#151515" stroke-width="0.1" transform="rotate(-90 588.50 147.80)" textLength="115.40" lengthAdjust="spacing"><tspan>% Foxp3-CD4</tspan><tspan dy="-3.19" font-size="5.54">+</tspan><tspan dy="3.19"> of TCRβ</tspan><tspan dy="-3.19" font-size="5.54">+</tspan><tspan dy="3.19"> cells</tspan></text>
<circle cx="622.00" cy="97.00" r="2.5" fill="#000000"/>
<circle cx="625.10" cy="103.20" r="2.5" fill="#000000"/>
<circle cx="618.00" cy="107.50" r="2.5" fill="#000000"/>
<line x1="621.30" y1="96.50" x2="621.30" y2="108.00" stroke="#000000" stroke-width="0.8"/>
<line x1="618.30" y1="96.50" x2="624.30" y2="96.50" stroke="#000000" stroke-width="0.8"/>
<line x1="618.30" y1="108.00" x2="624.30" y2="108.00" stroke="#000000" stroke-width="0.8"/>
<line x1="615.30" y1="102.20" x2="627.30" y2="102.20" stroke="#000000" stroke-width="0.8"/>
<rect x="632.60" y="84.50" width="4.80" height="4.80" fill="#ff8000"/>
<rect x="639.60" y="89.10" width="4.80" height="4.80" fill="#ff8000"/>
<rect x="636.20" y="101.40" width="4.80" height="4.80" fill="#ff8000"/>
<line x1="638.60" y1="85.40" x2="638.60" y2="103.00" stroke="#ffb366" stroke-width="0.8"/>
<line x1="635.60" y1="85.40" x2="641.60" y2="85.40" stroke="#ffb366" stroke-width="0.8"/>
<line x1="635.60" y1="103.00" x2="641.60" y2="103.00" stroke="#ffb366" stroke-width="0.8"/>
<line x1="632.60" y1="94.00" x2="644.60" y2="94.00" stroke="#ffb366" stroke-width="0.8"/>
<circle cx="655.80" cy="82.30" r="2.5" fill="#00c400"/>
<circle cx="655.80" cy="92.10" r="2.5" fill="#00c400"/>
<circle cx="651.80" cy="100.10" r="2.5" fill="#00c400"/>
<circle cx="659.50" cy="100.70" r="2.5" fill="#00c400"/>
<circle cx="655.80" cy="97.50" r="2.5" fill="#00c400"/>
<circle cx="652.00" cy="97.00" r="2.5" fill="#00c400"/>
<circle cx="659.00" cy="96.00" r="2.5" fill="#00c400"/>
<line x1="655.80" y1="88.00" x2="655.80" y2="102.00" stroke="#66dc66" stroke-width="0.8"/>
<line x1="652.80" y1="88.00" x2="658.80" y2="88.00" stroke="#66dc66" stroke-width="0.8"/>
<line x1="652.80" y1="102.00" x2="658.80" y2="102.00" stroke="#66dc66" stroke-width="0.8"/>
<line x1="649.80" y1="96.50" x2="661.80" y2="96.50" stroke="#66dc66" stroke-width="0.8"/>
<circle cx="669.30" cy="96.40" r="2.5" fill="#a000e0"/>
<circle cx="675.50" cy="95.50" r="2.5" fill="#a000e0"/>
<circle cx="671.00" cy="99.00" r="2.5" fill="#a000e0"/>
<circle cx="676.00" cy="100.50" r="2.5" fill="#a000e0"/>
<circle cx="672.00" cy="103.00" r="2.5" fill="#a000e0"/>
<circle cx="669.00" cy="104.00" r="2.5" fill="#a000e0"/>
<circle cx="672.40" cy="110.50" r="2.5" fill="#a000e0"/>
<line x1="673.00" y1="96.00" x2="673.00" y2="107.00" stroke="#c666ec" stroke-width="0.8"/>
<line x1="670.00" y1="96.00" x2="676.00" y2="96.00" stroke="#c666ec" stroke-width="0.8"/>
<line x1="670.00" y1="107.00" x2="676.00" y2="107.00" stroke="#c666ec" stroke-width="0.8"/>
<line x1="667.00" y1="101.60" x2="679.00" y2="101.60" stroke="#c666ec" stroke-width="0.8"/>
<line x1="497.10" y1="190.70" x2="497.10" y2="302.80" stroke="#7a7a7a" stroke-width="0.8"/>
<line x1="496.70" y1="302.40" x2="571.80" y2="302.40" stroke="#7a7a7a" stroke-width="0.8"/>
<line x1="494.10" y1="302.40" x2="497.10" y2="302.40" stroke="#7a7a7a" stroke-width="0.8"/>
<text x="490.70" y="305.15" font-size="7.6" text-anchor="end" font-weight="normal" fill="#151515" stroke="#151515" stroke-width="0.1" textLength="5.15" lengthAdjust="spacingAndGlyphs">0</text>
<line x1="494.10" y1="265.30" x2="497.10" y2="265.30" stroke="#7a7a7a" stroke-width="0.8"/>
<text x="490.70" y="268.05" font-size="7.6" text-anchor="end" font-weight="normal" fill="#151515" stroke="#151515" stroke-width="0.1" textLength="9.20" lengthAdjust="spacingAndGlyphs">20</text>
<line x1="494.10" y1="228.20" x2="497.10" y2="228.20" stroke="#7a7a7a" stroke-width="0.8"/>
<text x="490.70" y="230.95" font-size="7.6" text-anchor="end" font-weight="normal" fill="#151515" stroke="#151515" stroke-width="0.1" textLength="10.00" lengthAdjust="spacingAndGlyphs">40</text>
<line x1="494.10" y1="191.10" x2="497.10" y2="191.10" stroke="#7a7a7a" stroke-width="0.8"/>
<text x="490.70" y="193.85" font-size="7.6" text-anchor="end" font-weight="normal" fill="#151515" stroke="#151515" stroke-width="0.1" textLength="10.00" lengthAdjust="spacingAndGlyphs">60</text>
<line x1="508.30" y1="302.40" x2="508.30" y2="305.00" stroke="#7a7a7a" stroke-width="0.8"/>
<line x1="525.50" y1="302.40" x2="525.50" y2="305.00" stroke="#7a7a7a" stroke-width="0.8"/>
<line x1="542.50" y1="302.40" x2="542.50" y2="305.00" stroke="#7a7a7a" stroke-width="0.8"/>
<line x1="559.70" y1="302.40" x2="559.70" y2="305.00" stroke="#7a7a7a" stroke-width="0.8"/>
<text x="508.30" y="314.30" font-size="7.4" text-anchor="middle" font-weight="normal" fill="#151515" stroke="#151515" stroke-width="0.1" textLength="10.90" lengthAdjust="spacing">NC</text>
<text x="508.30" y="324.60" font-size="7.4" text-anchor="middle" font-weight="normal" fill="#151515" stroke="#151515" stroke-width="0.1" textLength="14.40" lengthAdjust="spacing">GFP</text>
<text x="525.50" y="314.30" font-size="7.4" text-anchor="middle" font-weight="normal" fill="#151515" stroke="#151515" stroke-width="0.1" textLength="10.90" lengthAdjust="spacing">NC</text>
<text x="525.50" y="324.60" font-size="7.4" text-anchor="middle" font-weight="normal" fill="#151515" stroke="#151515" stroke-width="0.1" textLength="16.30" lengthAdjust="spacing">Irisin</text>
<text x="542.50" y="314.30" font-size="7.4" text-anchor="middle" font-weight="normal" fill="#151515" stroke="#151515" stroke-width="0.1" textLength="15.20" lengthAdjust="spacing">HFD</text>
<text x="542.50" y="324.60" font-size="7.4" text-anchor="middle" font-weight="normal" fill="#151515" stroke="#151515" stroke-width="0.1" textLength="14.40" lengthAdjust="spacing">GFP</text>
<text x="559.70" y="314.30" font-size="7.4" text-anchor="middle" font-weight="normal" fill="#151515" stroke="#151515" stroke-width="0.1" textLength="15.20" lengthAdjust="spacing">HFD</text>
<text x="559.70" y="324.60" font-size="7.4" text-anchor="middle" font-weight="normal" fill="#151515" stroke="#151515" stroke-width="0.1" textLength="16.30" lengthAdjust="spacing">Irisin</text>
<text x="475.90" y="314.30" font-size="7.4" text-anchor="start" font-weight="normal" fill="#151515" stroke="#151515" stroke-width="0.1" textLength="13.40" lengthAdjust="spacing">Diet</text>
<text x="475.90" y="324.60" font-size="7.4" text-anchor="start" font-weight="normal" fill="#151515" stroke="#151515" stroke-width="0.1" textLength="13.60" lengthAdjust="spacing">AAV</text>
<text x="475.20" y="292.10" font-size="8.4" text-anchor="start" font-weight="normal" fill="#151515" stroke="#151515" stroke-width="0.1" transform="rotate(-90 475.20 292.10)" textLength="91.70" lengthAdjust="spacing"><tspan>% Foxp3</tspan><tspan dy="-3.19" font-size="5.54">+</tspan><tspan dy="3.19"> of CD4</tspan><tspan dy="-3.19" font-size="5.54">+</tspan><tspan dy="3.19"> cells</tspan></text>
<circle cx="508.20" cy="220.30" r="2.5" fill="#000000"/>
<circle cx="508.20" cy="234.70" r="2.5" fill="#000000"/>
<circle cx="508.20" cy="256.20" r="2.5" fill="#000000"/>
<line x1="508.30" y1="220.30" x2="508.30" y2="256.20" stroke="#000000" stroke-width="0.8"/>
<line x1="505.30" y1="220.30" x2="511.30" y2="220.30" stroke="#000000" stroke-width="0.8"/>
<line x1="505.30" y1="256.20" x2="511.30" y2="256.20" stroke="#000000" stroke-width="0.8"/>
<line x1="502.30" y1="236.60" x2="514.30" y2="236.60" stroke="#000000" stroke-width="0.8"/>
<circle cx="522.00" cy="232.00" r="2.5" fill="#ff8000"/>
<circle cx="529.10" cy="234.70" r="2.5" fill="#ff8000"/>
<circle cx="525.60" cy="241.60" r="2.5" fill="#ff8000"/>
<line x1="525.50" y1="232.00" x2="525.50" y2="240.00" stroke="#ff8000" stroke-width="0.8"/>
<line x1="522.50" y1="232.00" x2="528.50" y2="232.00" stroke="#ff8000" stroke-width="0.8"/>
<line x1="522.50" y1="240.00" x2="528.50" y2="240.00" stroke="#ff8000" stroke-width="0.8"/>
<line x1="519.50" y1="236.10" x2="531.50" y2="236.10" stroke="#ff8000" stroke-width="0.8"/>
<circle cx="542.40" cy="252.90" r="2.5" fill="#00c400"/>
<circle cx="539.40" cy="266.40" r="2.5" fill="#00c400"/>
<circle cx="545.70" cy="266.40" r="2.5" fill="#00c400"/>
<circle cx="542.50" cy="268.50" r="2.5" fill="#00c400"/>
<circle cx="540.70" cy="274.30" r="2.5" fill="#00c400"/>
<circle cx="544.70" cy="273.00" r="2.5" fill="#00c400"/>
<circle cx="542.00" cy="276.50" r="2.5" fill="#00c400"/>
<line x1="542.50" y1="260.10" x2="542.50" y2="276.00" stroke="#00c400" stroke-width="0.8"/>
<line x1="539.50" y1="260.10" x2="545.50" y2="260.10" stroke="#00c400" stroke-width="0.8"/>
<line x1="539.50" y1="276.00" x2="545.50" y2="276.00" stroke="#00c400" stroke-width="0.8"/>
<line x1="536.50" y1="267.20" x2="548.50" y2="267.20" stroke="#00c400" stroke-width="0.8"/>
<rect x="557.10" y="197.80" width="4.80" height="4.80" fill="#a000e0"/>
<rect x="557.10" y="237.30" width="4.80" height="4.80" fill="#a000e0"/>
<rect x="553.50" y="248.30" width="4.80" height="4.80" fill="#a000e0"/>
<rect x="561.00" y="248.90" width="4.80" height="4.80" fill="#a000e0"/>
<rect x="557.70" y="257.10" width="4.80" height="4.80" fill="#a000e0"/>
<rect x="557.60" y="242.60" width="4.80" height="4.80" fill="#a000e0"/>
<rect x="555.60" y="252.60" width="4.80" height="4.80" fill="#a000e0"/>
<line x1="559.80" y1="223.70" x2="559.80" y2="265.00" stroke="#a000e0" stroke-width="0.8"/>
<line x1="556.80" y1="223.70" x2="562.80" y2="223.70" stroke="#a000e0" stroke-width="0.8"/>
<line x1="556.80" y1="265.00" x2="562.80" y2="265.00" stroke="#a000e0" stroke-width="0.8"/>
<line x1="553.80" y1="244.40" x2="565.80" y2="244.40" stroke="#a000e0" stroke-width="0.8"/>
<path d="M506.30 195.10V192.50H540.60V195.10" stroke="#666" stroke-width="0.8" fill="none"/>
<polygon points="523.45,185.45 523.98,186.77 525.40,186.87 524.31,187.78 524.65,189.16 523.45,188.40 522.25,189.16 522.59,187.78 521.50,186.87 522.92,186.77" fill="#111"/>
<path d="M542.20 195.10V192.50H559.60V195.10" stroke="#666" stroke-width="0.8" fill="none"/>
<polygon points="550.90,185.45 551.43,186.77 552.85,186.87 551.76,187.78 552.10,189.16 550.90,188.40 549.70,189.16 550.04,187.78 548.95,186.87 550.37,186.77" fill="#111"/>
<line x1="610.50" y1="191.20" x2="610.50" y2="302.70" stroke="#7a7a7a" stroke-width="0.8"/>
<line x1="610.10" y1="302.30" x2="684.70" y2="302.30" stroke="#7a7a7a" stroke-width="0.8"/>
<line x1="607.50" y1="302.30" x2="610.50" y2="302.30" stroke="#7a7a7a" stroke-width="0.8"/>
<text x="604.10" y="305.05" font-size="7.6" text-anchor="end" font-weight="normal" fill="#151515" stroke="#151515" stroke-width="0.1" textLength="5.15" lengthAdjust="spacingAndGlyphs">0</text>
<line x1="607.50" y1="280.16" x2="610.50" y2="280.16" stroke="#7a7a7a" stroke-width="0.8"/>
<text x="604.10" y="282.91" font-size="7.6" text-anchor="end" font-weight="normal" fill="#151515" stroke="#151515" stroke-width="0.1" textLength="9.20" lengthAdjust="spacingAndGlyphs">20</text>
<line x1="607.50" y1="258.02" x2="610.50" y2="258.02" stroke="#7a7a7a" stroke-width="0.8"/>
<text x="604.10" y="260.77" font-size="7.6" text-anchor="end" font-weight="normal" fill="#151515" stroke="#151515" stroke-width="0.1" textLength="10.00" lengthAdjust="spacingAndGlyphs">40</text>
<line x1="607.50" y1="235.88" x2="610.50" y2="235.88" stroke="#7a7a7a" stroke-width="0.8"/>
<text x="604.10" y="238.63" font-size="7.6" text-anchor="end" font-weight="normal" fill="#151515" stroke="#151515" stroke-width="0.1" textLength="10.00" lengthAdjust="spacingAndGlyphs">60</text>
<line x1="607.50" y1="213.74" x2="610.50" y2="213.74" stroke="#7a7a7a" stroke-width="0.8"/>
<text x="604.10" y="216.49" font-size="7.6" text-anchor="end" font-weight="normal" fill="#151515" stroke="#151515" stroke-width="0.1" textLength="10.00" lengthAdjust="spacingAndGlyphs">80</text>
<line x1="607.50" y1="191.60" x2="610.50" y2="191.60" stroke="#7a7a7a" stroke-width="0.8"/>
<text x="604.10" y="194.35" font-size="7.6" text-anchor="end" font-weight="normal" fill="#151515" stroke="#151515" stroke-width="0.1" textLength="12.45" lengthAdjust="spacingAndGlyphs">100</text>
<line x1="621.40" y1="302.30" x2="621.40" y2="304.90" stroke="#7a7a7a" stroke-width="0.8"/>
<line x1="638.50" y1="302.30" x2="638.50" y2="304.90" stroke="#7a7a7a" stroke-width="0.8"/>
<line x1="655.70" y1="302.30" x2="655.70" y2="304.90" stroke="#7a7a7a" stroke-width="0.8"/>
<line x1="672.90" y1="302.30" x2="672.90" y2="304.90" stroke="#7a7a7a" stroke-width="0.8"/>
<text x="621.40" y="314.20" font-size="7.4" text-anchor="middle" font-weight="normal" fill="#151515" stroke="#151515" stroke-width="0.1" textLength="10.90" lengthAdjust="spacing">NC</text>
<text x="621.40" y="324.50" font-size="7.4" text-anchor="middle" font-weight="normal" fill="#151515" stroke="#151515" stroke-width="0.1" textLength="14.40" lengthAdjust="spacing">GFP</text>
<text x="638.50" y="314.20" font-size="7.4" text-anchor="middle" font-weight="normal" fill="#151515" stroke="#151515" stroke-width="0.1" textLength="10.90" lengthAdjust="spacing">NC</text>
<text x="638.50" y="324.50" font-size="7.4" text-anchor="middle" font-weight="normal" fill="#151515" stroke="#151515" stroke-width="0.1" textLength="16.30" lengthAdjust="spacing">Irisin</text>
<text x="655.70" y="314.20" font-size="7.4" text-anchor="middle" font-weight="normal" fill="#151515" stroke="#151515" stroke-width="0.1" textLength="15.20" lengthAdjust="spacing">HFD</text>
<text x="655.70" y="324.50" font-size="7.4" text-anchor="middle" font-weight="normal" fill="#151515" stroke="#151515" stroke-width="0.1" textLength="14.40" lengthAdjust="spacing">GFP</text>
<text x="672.90" y="314.20" font-size="7.4" text-anchor="middle" font-weight="normal" fill="#151515" stroke="#151515" stroke-width="0.1" textLength="15.20" lengthAdjust="spacing">HFD</text>
<text x="672.90" y="324.50" font-size="7.4" text-anchor="middle" font-weight="normal" fill="#151515" stroke="#151515" stroke-width="0.1" textLength="16.30" lengthAdjust="spacing">Irisin</text>
<text x="584.50" y="285.90" font-size="8.4" text-anchor="start" font-weight="normal" fill="#151515" stroke="#151515" stroke-width="0.1" transform="rotate(-90 584.50 285.90)" textLength="74.70" lengthAdjust="spacing"><tspan>% ST2</tspan><tspan dy="-3.19" font-size="5.54">+</tspan><tspan dy="3.19"> of T</tspan><tspan dy="1.68" font-size="5.54">reg</tspan><tspan dy="-1.68"> cells</tspan></text>
<circle cx="617.60" cy="221.40" r="2.5" fill="#000000"/>
<circle cx="624.80" cy="223.60" r="2.5" fill="#000000"/>
<circle cx="621.50" cy="246.30" r="2.5" fill="#000000"/>
<line x1="621.40" y1="217.30" x2="621.40" y2="245.70" stroke="#000000" stroke-width="0.8"/>
<line x1="618.40" y1="217.30" x2="624.40" y2="217.30" stroke="#000000" stroke-width="0.8"/>
<line x1="618.40" y1="245.70" x2="624.40" y2="245.70" stroke="#000000" stroke-width="0.8"/>
<line x1="615.40" y1="230.50" x2="627.40" y2="230.50" stroke="#000000" stroke-width="0.8"/>
<circle cx="638.30" cy="204.30" r="2.5" fill="#ff8000"/>
<circle cx="635.00" cy="222.20" r="2.5" fill="#ff8000"/>
<circle cx="642.50" cy="219.50" r="2.5" fill="#ff8000"/>
<line x1="638.40" y1="204.30" x2="638.40" y2="224.70" stroke="#ff8000" stroke-width="0.8"/>
<line x1="635.40" y1="204.30" x2="641.40" y2="204.30" stroke="#ff8000" stroke-width="0.8"/>
<line x1="635.40" y1="224.70" x2="641.40" y2="224.70" stroke="#ff8000" stroke-width="0.8"/>
<line x1="632.40" y1="215.30" x2="644.40" y2="215.30" stroke="#ff8000" stroke-width="0.8"/>
<circle cx="655.50" cy="240.50" r="2.5" fill="#00c400"/>
<circle cx="651.70" cy="255.00" r="2.5" fill="#00c400"/>
<circle cx="658.90" cy="255.00" r="2.5" fill="#00c400"/>
<circle cx="655.70" cy="258.00" r="2.5" fill="#00c400"/>
<circle cx="655.70" cy="252.00" r="2.5" fill="#00c400"/>
<circle cx="658.90" cy="279.00" r="2.5" fill="#00c400"/>
<circle cx="655.70" cy="282.80" r="2.5" fill="#00c400"/>
<circle cx="655.70" cy="295.40" r="2.5" fill="#00c400"/>
<line x1="655.60" y1="246.60" x2="655.60" y2="283.50" stroke="#00c400" stroke-width="0.8"/>
<line x1="652.60" y1="246.60" x2="658.60" y2="246.60" stroke="#00c400" stroke-width="0.8"/>
<line x1="652.60" y1="283.50" x2="658.60" y2="283.50" stroke="#00c400" stroke-width="0.8"/>
<line x1="649.60" y1="265.10" x2="661.60" y2="265.10" stroke="#00c400" stroke-width="0.8"/>
<rect x="670.50" y="195.80" width="4.80" height="4.80" fill="#a000e0"/>
<rect x="668.50" y="213.50" width="4.80" height="4.80" fill="#a000e0"/>
<rect x="672.60" y="214.90" width="4.80" height="4.80" fill="#a000e0"/>
<rect x="667.10" y="221.20" width="4.80" height="4.80" fill="#a000e0"/>
<rect x="674.00" y="221.20" width="4.80" height="4.80" fill="#a000e0"/>
<rect x="670.50" y="219.60" width="4.80" height="4.80" fill="#a000e0"/>
<rect x="670.50" y="238.90" width="4.80" height="4.80" fill="#a000e0"/>
<line x1="672.90" y1="207.60" x2="672.90" y2="233.80" stroke="#a000e0" stroke-width="0.8"/>
<line x1="669.90" y1="207.60" x2="675.90" y2="207.60" stroke="#a000e0" stroke-width="0.8"/>
<line x1="669.90" y1="233.80" x2="675.90" y2="233.80" stroke="#a000e0" stroke-width="0.8"/>
<line x1="666.90" y1="222.00" x2="678.90" y2="222.00" stroke="#a000e0" stroke-width="0.8"/>
<path d="M619.40 193.20V190.60H654.70V193.20" stroke="#666" stroke-width="0.8" fill="none"/>
<polygon points="637.05,183.45 637.58,184.77 639.00,184.87 637.91,185.78 638.25,187.16 637.05,186.40 635.85,187.16 636.19,185.78 635.10,184.87 636.52,184.77" fill="#111"/>
<path d="M654.90 193.20V190.60H672.30V193.20" stroke="#666" stroke-width="0.8" fill="none"/>
<polygon points="659.20,183.45 659.73,184.77 661.15,184.87 660.06,185.78 660.40,187.16 659.20,186.40 658.00,187.16 658.34,185.78 657.25,184.87 658.67,184.77" fill="#111"/>
<polygon points="664.20,183.45 664.73,184.77 666.15,184.87 665.06,185.78 665.40,187.16 664.20,186.40 663.00,187.16 663.34,185.78 662.25,184.87 663.67,184.77" fill="#111"/>
<polygon points="669.20,183.45 669.73,184.77 671.15,184.87 670.06,185.78 670.40,187.16 669.20,186.40 668.00,187.16 668.34,185.78 667.25,184.87 668.67,184.77" fill="#111"/>
<rect x="11.40" y="196.5" width="105.20" height="104.80" fill="none" stroke="#a8a8a8" stroke-width="0.9"/>
<text x="39.30" y="191.90" font-size="8.7" text-anchor="start" font-weight="normal" fill="#151515" stroke="#151515" stroke-width="0.1" textLength="52.30" lengthAdjust="spacing">NC AAV-GFP</text>
<rect x="118.30" y="196.5" width="104.30" height="104.80" fill="none" stroke="#a8a8a8" stroke-width="0.9"/>
<text x="146.30" y="191.90" font-size="8.7" text-anchor="start" font-weight="normal" fill="#151515" stroke="#151515" stroke-width="0.1" textLength="53.80" lengthAdjust="spacing">NC AAV-irisin</text>
<rect x="224.40" y="196.5" width="105.00" height="104.80" fill="none" stroke="#a8a8a8" stroke-width="0.9"/>
<text x="250.50" y="191.90" font-size="8.7" text-anchor="start" font-weight="normal" fill="#151515" stroke="#151515" stroke-width="0.1" textLength="55.80" lengthAdjust="spacing">HFD AAV-GFP</text>
<rect x="331.30" y="196.5" width="105.30" height="104.80" fill="none" stroke="#a8a8a8" stroke-width="0.9"/>
<text x="356.60" y="191.90" font-size="8.7" text-anchor="start" font-weight="normal" fill="#151515" stroke="#151515" stroke-width="0.1" textLength="58.60" lengthAdjust="spacing">HFD AAV-irisin</text>
<g><path fill="#1010ff" d="M32.6 241.6h1.8v1.8h-1.8zM33.6 240.6h1.8v1.8h-1.8zM33.6 246.6h1.8v1.8h-1.8zM33.6 249.6h1.8v1.8h-1.8zM33.6 283.6h1.8v1.8h-1.8zM34.6 244.6h1.8v1.8h-1.8zM34.6 247.6h1.8v1.8h-1.8zM34.6 251.6h1.8v1.8h-1.8zM34.6 261.6h1.8v1.8h-1.8zM34.6 270.6h1.8v1.8h-1.8zM34.6 271.6h1.8v1.8h-1.8zM34.6 273.6h1.8v1.8h-1.8zM34.6 279.6h1.8v1.8h-1.8zM34.6 282.6h1.8v1.8h-1.8zM34.6 283.6h1.8v1.8h-1.8zM35.6 245.6h1.8v1.8h-1.8zM35.6 248.6h1.8v1.8h-1.8zM35.6 251.6h1.8v1.8h-1.8zM35.6 252.6h1.8v1.8h-1.8zM35.6 253.6h1.8v1.8h-1.8zM35.6 254.6h1.8v1.8h-1.8zM35.6 255.6h1.8v1.8h-1.8zM35.6 256.6h1.8v1.8h-1.8zM35.6 260.6h1.8v1.8h-1.8zM35.6 263.6h1.8v1.8h-1.8zM35.6 269.6h1.8v1.8h-1.8zM35.6 271.6h1.8v1.8h-1.8zM35.6 276.6h1.8v1.8h-1.8zM35.6 278.6h1.8v1.8h-1.8zM35.6 281.6h1.8v1.8h-1.8zM35.6 283.6h1.8v1.8h-1.8zM36.6 244.6h1.8v1.8h-1.8zM36.6 246.6h1.8v1.8h-1.8zM36.6 249.6h1.8v1.8h-1.8zM36.6 253.6h1.8v1.8h-1.8zM36.6 254.6h1.8v1.8h-1.8zM36.6 256.6h1.8v1.8h-1.8zM36.6 257.6h1.8v1.8h-1.8zM36.6 258.6h1.8v1.8h-1.8zM36.6 260.6h1.8v1.8h-1.8zM36.6 261.6h1.8v1.8h-1.8zM36.6 262.6h1.8v1.8h-1.8zM36.6 263.6h1.8v1.8h-1.8zM36.6 278.6h1.8v1.8h-1.8zM36.6 279.6h1.8v1.8h-1.8zM36.6 283.6h1.8v1.8h-1.8zM36.6 284.6h1.8v1.8h-1.8zM36.6 287.6h1.8v1.8h-1.8zM37.6 239.6h1.8v1.8h-1.8zM37.6 245.6h1.8v1.8h-1.8zM37.6 259.6h1.8v1.8h-1.8zM37.6 261.6h1.8v1.8h-1.8zM37.6 281.6h1.8v1.8h-1.8zM37.6 282.6h1.8v1.8h-1.8zM37.6 283.6h1.8v1.8h-1.8zM37.6 284.6h1.8v1.8h-1.8zM37.6 285.6h1.8v1.8h-1.8zM37.6 286.6h1.8v1.8h-1.8zM37.6 287.6h1.8v1.8h-1.8zM38.6 231.6h1.8v1.8h-1.8zM38.6 234.6h1.8v1.8h-1.8zM38.6 244.6h1.8v1.8h-1.8zM38.6 245.6h1.8v1.8h-1.8zM38.6 247.6h1.8v1.8h-1.8zM38.6 281.6h1.8v1.8h-1.8zM38.6 282.6h1.8v1.8h-1.8zM38.6 283.6h1.8v1.8h-1.8zM38.6 284.6h1.8v1.8h-1.8zM38.6 285.6h1.8v1.8h-1.8zM39.6 239.6h1.8v1.8h-1.8zM39.6 245.6h1.8v1.8h-1.8zM39.6 246.6h1.8v1.8h-1.8zM40.6 238.6h1.8v1.8h-1.8zM40.6 246.6h1.8v1.8h-1.8zM40.6 247.6h1.8v1.8h-1.8zM40.6 258.6h1.8v1.8h-1.8zM40.6 259.6h1.8v1.8h-1.8zM40.6 261.6h1.8v1.8h-1.8zM40.6 262.6h1.8v1.8h-1.8zM40.6 263.6h1.8v1.8h-1.8zM40.6 264.6h1.8v1.8h-1.8zM40.6 279.6h1.8v1.8h-1.8zM40.6 280.6h1.8v1.8h-1.8zM40.6 282.6h1.8v1.8h-1.8zM40.6 283.6h1.8v1.8h-1.8zM40.6 284.6h1.8v1.8h-1.8zM40.6 285.6h1.8v1.8h-1.8zM40.6 286.6h1.8v1.8h-1.8zM41.6 245.6h1.8v1.8h-1.8zM41.6 246.6h1.8v1.8h-1.8zM41.6 249.6h1.8v1.8h-1.8zM41.6 250.6h1.8v1.8h-1.8zM41.6 251.6h1.8v1.8h-1.8zM41.6 253.6h1.8v1.8h-1.8zM41.6 254.6h1.8v1.8h-1.8zM41.6 256.6h1.8v1.8h-1.8zM41.6 257.6h1.8v1.8h-1.8zM41.6 258.6h1.8v1.8h-1.8zM41.6 259.6h1.8v1.8h-1.8zM41.6 261.6h1.8v1.8h-1.8zM41.6 262.6h1.8v1.8h-1.8zM41.6 263.6h1.8v1.8h-1.8zM41.6 264.6h1.8v1.8h-1.8zM41.6 266.6h1.8v1.8h-1.8zM41.6 267.6h1.8v1.8h-1.8zM41.6 270.6h1.8v1.8h-1.8zM41.6 273.6h1.8v1.8h-1.8zM41.6 275.6h1.8v1.8h-1.8zM41.6 277.6h1.8v1.8h-1.8zM41.6 279.6h1.8v1.8h-1.8zM41.6 282.6h1.8v1.8h-1.8zM41.6 285.6h1.8v1.8h-1.8zM41.6 286.6h1.8v1.8h-1.8zM42.6 241.6h1.8v1.8h-1.8zM42.6 251.6h1.8v1.8h-1.8zM42.6 252.6h1.8v1.8h-1.8zM42.6 267.6h1.8v1.8h-1.8zM42.6 270.6h1.8v1.8h-1.8zM42.6 272.6h1.8v1.8h-1.8zM42.6 273.6h1.8v1.8h-1.8zM42.6 278.6h1.8v1.8h-1.8zM42.6 281.6h1.8v1.8h-1.8zM43.6 250.6h1.8v1.8h-1.8zM43.6 253.6h1.8v1.8h-1.8zM43.6 260.6h1.8v1.8h-1.8zM43.6 262.6h1.8v1.8h-1.8zM43.6 265.6h1.8v1.8h-1.8zM43.6 266.6h1.8v1.8h-1.8zM43.6 269.6h1.8v1.8h-1.8zM43.6 273.6h1.8v1.8h-1.8zM43.6 276.6h1.8v1.8h-1.8zM44.6 244.6h1.8v1.8h-1.8zM44.6 250.6h1.8v1.8h-1.8zM44.6 252.6h1.8v1.8h-1.8zM44.6 258.6h1.8v1.8h-1.8zM44.6 263.6h1.8v1.8h-1.8zM44.6 265.6h1.8v1.8h-1.8zM44.6 267.6h1.8v1.8h-1.8zM44.6 271.6h1.8v1.8h-1.8zM44.6 273.6h1.8v1.8h-1.8zM45.6 243.6h1.8v1.8h-1.8zM45.6 244.6h1.8v1.8h-1.8zM45.6 247.6h1.8v1.8h-1.8zM45.6 251.6h1.8v1.8h-1.8zM45.6 252.6h1.8v1.8h-1.8zM45.6 255.6h1.8v1.8h-1.8zM45.6 256.6h1.8v1.8h-1.8zM45.6 258.6h1.8v1.8h-1.8zM45.6 262.6h1.8v1.8h-1.8zM45.6 263.6h1.8v1.8h-1.8zM45.6 264.6h1.8v1.8h-1.8zM45.6 265.6h1.8v1.8h-1.8zM45.6 267.6h1.8v1.8h-1.8zM45.6 278.6h1.8v1.8h-1.8zM46.6 240.6h1.8v1.8h-1.8zM46.6 249.6h1.8v1.8h-1.8zM46.6 255.6h1.8v1.8h-1.8zM46.6 257.6h1.8v1.8h-1.8zM46.6 263.6h1.8v1.8h-1.8zM46.6 264.6h1.8v1.8h-1.8zM46.6 265.6h1.8v1.8h-1.8zM46.6 277.6h1.8v1.8h-1.8zM47.6 243.6h1.8v1.8h-1.8zM47.6 246.6h1.8v1.8h-1.8zM47.6 247.6h1.8v1.8h-1.8zM47.6 248.6h1.8v1.8h-1.8zM47.6 253.6h1.8v1.8h-1.8zM47.6 257.6h1.8v1.8h-1.8zM47.6 271.6h1.8v1.8h-1.8zM47.6 274.6h1.8v1.8h-1.8zM47.6 279.6h1.8v1.8h-1.8zM47.6 286.6h1.8v1.8h-1.8zM48.6 234.6h1.8v1.8h-1.8zM48.6 250.6h1.8v1.8h-1.8zM48.6 254.6h1.8v1.8h-1.8zM48.6 257.6h1.8v1.8h-1.8zM48.6 260.6h1.8v1.8h-1.8zM48.6 265.6h1.8v1.8h-1.8zM48.6 266.6h1.8v1.8h-1.8zM48.6 267.6h1.8v1.8h-1.8zM48.6 272.6h1.8v1.8h-1.8zM48.6 274.6h1.8v1.8h-1.8zM49.6 258.6h1.8v1.8h-1.8zM49.6 260.6h1.8v1.8h-1.8zM49.6 262.6h1.8v1.8h-1.8zM49.6 267.6h1.8v1.8h-1.8zM50.6 241.6h1.8v1.8h-1.8zM50.6 242.6h1.8v1.8h-1.8zM50.6 245.6h1.8v1.8h-1.8zM50.6 246.6h1.8v1.8h-1.8zM50.6 248.6h1.8v1.8h-1.8zM50.6 252.6h1.8v1.8h-1.8zM50.6 257.6h1.8v1.8h-1.8zM50.6 261.6h1.8v1.8h-1.8zM50.6 266.6h1.8v1.8h-1.8zM50.6 270.6h1.8v1.8h-1.8zM50.6 271.6h1.8v1.8h-1.8zM51.6 244.6h1.8v1.8h-1.8zM51.6 245.6h1.8v1.8h-1.8zM51.6 246.6h1.8v1.8h-1.8zM51.6 248.6h1.8v1.8h-1.8zM51.6 253.6h1.8v1.8h-1.8zM51.6 254.6h1.8v1.8h-1.8zM51.6 256.6h1.8v1.8h-1.8zM51.6 257.6h1.8v1.8h-1.8zM51.6 258.6h1.8v1.8h-1.8zM51.6 260.6h1.8v1.8h-1.8zM51.6 262.6h1.8v1.8h-1.8zM51.6 264.6h1.8v1.8h-1.8zM51.6 265.6h1.8v1.8h-1.8zM51.6 266.6h1.8v1.8h-1.8zM51.6 267.6h1.8v1.8h-1.8zM51.6 275.6h1.8v1.8h-1.8zM51.6 276.6h1.8v1.8h-1.8zM52.6 245.6h1.8v1.8h-1.8zM52.6 246.6h1.8v1.8h-1.8zM52.6 247.6h1.8v1.8h-1.8zM52.6 248.6h1.8v1.8h-1.8zM52.6 261.6h1.8v1.8h-1.8zM52.6 265.6h1.8v1.8h-1.8zM52.6 268.6h1.8v1.8h-1.8zM53.6 243.6h1.8v1.8h-1.8zM53.6 245.6h1.8v1.8h-1.8zM53.6 246.6h1.8v1.8h-1.8zM53.6 250.6h1.8v1.8h-1.8zM53.6 252.6h1.8v1.8h-1.8zM53.6 253.6h1.8v1.8h-1.8zM53.6 255.6h1.8v1.8h-1.8zM53.6 258.6h1.8v1.8h-1.8zM53.6 259.6h1.8v1.8h-1.8zM53.6 261.6h1.8v1.8h-1.8zM53.6 269.6h1.8v1.8h-1.8zM53.6 271.6h1.8v1.8h-1.8zM53.6 273.6h1.8v1.8h-1.8zM53.6 274.6h1.8v1.8h-1.8zM54.6 240.6h1.8v1.8h-1.8zM54.6 241.6h1.8v1.8h-1.8zM54.6 242.6h1.8v1.8h-1.8zM54.6 245.6h1.8v1.8h-1.8zM54.6 246.6h1.8v1.8h-1.8zM54.6 249.6h1.8v1.8h-1.8zM54.6 250.6h1.8v1.8h-1.8zM54.6 251.6h1.8v1.8h-1.8zM54.6 252.6h1.8v1.8h-1.8zM54.6 254.6h1.8v1.8h-1.8zM54.6 257.6h1.8v1.8h-1.8zM54.6 259.6h1.8v1.8h-1.8zM54.6 262.6h1.8v1.8h-1.8zM54.6 263.6h1.8v1.8h-1.8zM54.6 264.6h1.8v1.8h-1.8zM54.6 267.6h1.8v1.8h-1.8zM54.6 268.6h1.8v1.8h-1.8zM54.6 270.6h1.8v1.8h-1.8zM54.6 274.6h1.8v1.8h-1.8zM55.6 240.6h1.8v1.8h-1.8zM55.6 241.6h1.8v1.8h-1.8zM55.6 243.6h1.8v1.8h-1.8zM55.6 249.6h1.8v1.8h-1.8zM55.6 252.6h1.8v1.8h-1.8zM55.6 258.6h1.8v1.8h-1.8zM55.6 260.6h1.8v1.8h-1.8zM55.6 262.6h1.8v1.8h-1.8zM55.6 265.6h1.8v1.8h-1.8zM55.6 266.6h1.8v1.8h-1.8zM55.6 268.6h1.8v1.8h-1.8zM55.6 269.6h1.8v1.8h-1.8zM55.6 270.6h1.8v1.8h-1.8zM56.6 240.6h1.8v1.8h-1.8zM56.6 241.6h1.8v1.8h-1.8zM56.6 247.6h1.8v1.8h-1.8zM56.6 258.6h1.8v1.8h-1.8zM56.6 260.6h1.8v1.8h-1.8zM56.6 262.6h1.8v1.8h-1.8zM56.6 263.6h1.8v1.8h-1.8zM56.6 265.6h1.8v1.8h-1.8zM56.6 267.6h1.8v1.8h-1.8zM56.6 268.6h1.8v1.8h-1.8zM57.6 234.6h1.8v1.8h-1.8zM57.6 241.6h1.8v1.8h-1.8zM57.6 243.6h1.8v1.8h-1.8zM57.6 244.6h1.8v1.8h-1.8zM57.6 245.6h1.8v1.8h-1.8zM57.6 248.6h1.8v1.8h-1.8zM57.6 251.6h1.8v1.8h-1.8zM57.6 261.6h1.8v1.8h-1.8zM57.6 262.6h1.8v1.8h-1.8zM57.6 264.6h1.8v1.8h-1.8zM57.6 266.6h1.8v1.8h-1.8zM57.6 268.6h1.8v1.8h-1.8zM57.6 269.6h1.8v1.8h-1.8zM57.6 270.6h1.8v1.8h-1.8zM57.6 271.6h1.8v1.8h-1.8zM57.6 274.6h1.8v1.8h-1.8zM58.6 240.6h1.8v1.8h-1.8zM58.6 241.6h1.8v1.8h-1.8zM58.6 242.6h1.8v1.8h-1.8zM58.6 256.6h1.8v1.8h-1.8zM58.6 257.6h1.8v1.8h-1.8zM58.6 259.6h1.8v1.8h-1.8zM58.6 263.6h1.8v1.8h-1.8zM58.6 266.6h1.8v1.8h-1.8zM58.6 267.6h1.8v1.8h-1.8zM58.6 281.6h1.8v1.8h-1.8zM59.6 238.6h1.8v1.8h-1.8zM59.6 239.6h1.8v1.8h-1.8zM59.6 243.6h1.8v1.8h-1.8zM59.6 244.6h1.8v1.8h-1.8zM59.6 246.6h1.8v1.8h-1.8zM59.6 247.6h1.8v1.8h-1.8zM59.6 250.6h1.8v1.8h-1.8zM59.6 259.6h1.8v1.8h-1.8zM59.6 260.6h1.8v1.8h-1.8zM59.6 262.6h1.8v1.8h-1.8zM59.6 264.6h1.8v1.8h-1.8zM59.6 266.6h1.8v1.8h-1.8zM59.6 267.6h1.8v1.8h-1.8zM59.6 269.6h1.8v1.8h-1.8zM59.6 270.6h1.8v1.8h-1.8zM60.6 241.6h1.8v1.8h-1.8zM60.6 242.6h1.8v1.8h-1.8zM60.6 245.6h1.8v1.8h-1.8zM60.6 264.6h1.8v1.8h-1.8zM60.6 265.6h1.8v1.8h-1.8zM60.6 266.6h1.8v1.8h-1.8zM60.6 268.6h1.8v1.8h-1.8zM60.6 269.6h1.8v1.8h-1.8zM60.6 270.6h1.8v1.8h-1.8zM60.6 275.6h1.8v1.8h-1.8zM61.6 240.6h1.8v1.8h-1.8zM61.6 242.6h1.8v1.8h-1.8zM61.6 243.6h1.8v1.8h-1.8zM61.6 259.6h1.8v1.8h-1.8zM61.6 260.6h1.8v1.8h-1.8zM61.6 262.6h1.8v1.8h-1.8zM61.6 263.6h1.8v1.8h-1.8zM61.6 264.6h1.8v1.8h-1.8zM61.6 268.6h1.8v1.8h-1.8zM61.6 271.6h1.8v1.8h-1.8zM61.6 272.6h1.8v1.8h-1.8zM61.6 274.6h1.8v1.8h-1.8zM61.6 294.6h1.8v1.8h-1.8zM62.6 243.6h1.8v1.8h-1.8zM62.6 244.6h1.8v1.8h-1.8zM62.6 258.6h1.8v1.8h-1.8zM62.6 259.6h1.8v1.8h-1.8zM62.6 263.6h1.8v1.8h-1.8zM62.6 265.6h1.8v1.8h-1.8zM62.6 267.6h1.8v1.8h-1.8zM62.6 272.6h1.8v1.8h-1.8zM62.6 274.6h1.8v1.8h-1.8zM62.6 275.6h1.8v1.8h-1.8zM63.6 238.6h1.8v1.8h-1.8zM63.6 263.6h1.8v1.8h-1.8zM63.6 264.6h1.8v1.8h-1.8zM63.6 265.6h1.8v1.8h-1.8zM63.6 269.6h1.8v1.8h-1.8zM63.6 270.6h1.8v1.8h-1.8zM63.6 271.6h1.8v1.8h-1.8zM63.6 275.6h1.8v1.8h-1.8zM64.6 239.6h1.8v1.8h-1.8zM64.6 242.6h1.8v1.8h-1.8zM64.6 244.6h1.8v1.8h-1.8zM64.6 262.6h1.8v1.8h-1.8zM64.6 267.6h1.8v1.8h-1.8zM64.6 269.6h1.8v1.8h-1.8zM64.6 270.6h1.8v1.8h-1.8zM64.6 272.6h1.8v1.8h-1.8zM64.6 276.6h1.8v1.8h-1.8zM65.6 240.6h1.8v1.8h-1.8zM65.6 242.6h1.8v1.8h-1.8zM65.6 243.6h1.8v1.8h-1.8zM65.6 244.6h1.8v1.8h-1.8zM65.6 245.6h1.8v1.8h-1.8zM65.6 246.6h1.8v1.8h-1.8zM65.6 247.6h1.8v1.8h-1.8zM65.6 261.6h1.8v1.8h-1.8zM65.6 263.6h1.8v1.8h-1.8zM65.6 265.6h1.8v1.8h-1.8zM65.6 266.6h1.8v1.8h-1.8zM65.6 268.6h1.8v1.8h-1.8zM65.6 269.6h1.8v1.8h-1.8zM65.6 271.6h1.8v1.8h-1.8zM66.6 238.6h1.8v1.8h-1.8zM66.6 240.6h1.8v1.8h-1.8zM66.6 241.6h1.8v1.8h-1.8zM66.6 242.6h1.8v1.8h-1.8zM66.6 244.6h1.8v1.8h-1.8zM66.6 249.6h1.8v1.8h-1.8zM66.6 250.6h1.8v1.8h-1.8zM66.6 261.6h1.8v1.8h-1.8zM66.6 265.6h1.8v1.8h-1.8zM66.6 266.6h1.8v1.8h-1.8zM66.6 267.6h1.8v1.8h-1.8zM66.6 269.6h1.8v1.8h-1.8zM67.6 242.6h1.8v1.8h-1.8zM67.6 247.6h1.8v1.8h-1.8zM67.6 261.6h1.8v1.8h-1.8zM67.6 263.6h1.8v1.8h-1.8zM67.6 267.6h1.8v1.8h-1.8zM68.6 241.6h1.8v1.8h-1.8zM68.6 246.6h1.8v1.8h-1.8zM68.6 247.6h1.8v1.8h-1.8zM68.6 252.6h1.8v1.8h-1.8zM68.6 258.6h1.8v1.8h-1.8zM68.6 261.6h1.8v1.8h-1.8zM68.6 263.6h1.8v1.8h-1.8zM68.6 264.6h1.8v1.8h-1.8zM68.6 265.6h1.8v1.8h-1.8zM68.6 267.6h1.8v1.8h-1.8zM68.6 268.6h1.8v1.8h-1.8zM68.6 269.6h1.8v1.8h-1.8zM68.6 270.6h1.8v1.8h-1.8zM68.6 271.6h1.8v1.8h-1.8zM68.6 272.6h1.8v1.8h-1.8zM68.6 273.6h1.8v1.8h-1.8zM68.6 275.6h1.8v1.8h-1.8zM69.6 241.6h1.8v1.8h-1.8zM69.6 242.6h1.8v1.8h-1.8zM69.6 243.6h1.8v1.8h-1.8zM69.6 244.6h1.8v1.8h-1.8zM69.6 245.6h1.8v1.8h-1.8zM69.6 246.6h1.8v1.8h-1.8zM69.6 248.6h1.8v1.8h-1.8zM69.6 257.6h1.8v1.8h-1.8zM69.6 261.6h1.8v1.8h-1.8zM69.6 262.6h1.8v1.8h-1.8zM69.6 263.6h1.8v1.8h-1.8zM69.6 264.6h1.8v1.8h-1.8zM69.6 265.6h1.8v1.8h-1.8zM69.6 266.6h1.8v1.8h-1.8zM69.6 270.6h1.8v1.8h-1.8zM69.6 271.6h1.8v1.8h-1.8zM69.6 275.6h1.8v1.8h-1.8zM70.6 243.6h1.8v1.8h-1.8zM70.6 245.6h1.8v1.8h-1.8zM70.6 246.6h1.8v1.8h-1.8zM70.6 259.6h1.8v1.8h-1.8zM70.6 260.6h1.8v1.8h-1.8zM70.6 263.6h1.8v1.8h-1.8zM70.6 265.6h1.8v1.8h-1.8zM70.6 266.6h1.8v1.8h-1.8zM70.6 267.6h1.8v1.8h-1.8zM70.6 270.6h1.8v1.8h-1.8zM70.6 271.6h1.8v1.8h-1.8zM70.6 274.6h1.8v1.8h-1.8zM71.6 242.6h1.8v1.8h-1.8zM71.6 245.6h1.8v1.8h-1.8zM71.6 246.6h1.8v1.8h-1.8zM71.6 253.6h1.8v1.8h-1.8zM71.6 256.6h1.8v1.8h-1.8zM71.6 257.6h1.8v1.8h-1.8zM71.6 259.6h1.8v1.8h-1.8zM71.6 262.6h1.8v1.8h-1.8zM71.6 265.6h1.8v1.8h-1.8zM71.6 267.6h1.8v1.8h-1.8zM71.6 268.6h1.8v1.8h-1.8zM71.6 272.6h1.8v1.8h-1.8zM71.6 273.6h1.8v1.8h-1.8zM72.6 239.6h1.8v1.8h-1.8zM72.6 246.6h1.8v1.8h-1.8zM72.6 251.6h1.8v1.8h-1.8zM72.6 259.6h1.8v1.8h-1.8zM72.6 260.6h1.8v1.8h-1.8zM72.6 262.6h1.8v1.8h-1.8zM72.6 263.6h1.8v1.8h-1.8zM72.6 267.6h1.8v1.8h-1.8zM72.6 269.6h1.8v1.8h-1.8zM72.6 270.6h1.8v1.8h-1.8zM72.6 273.6h1.8v1.8h-1.8zM72.6 274.6h1.8v1.8h-1.8zM73.6 237.6h1.8v1.8h-1.8zM73.6 245.6h1.8v1.8h-1.8zM73.6 246.6h1.8v1.8h-1.8zM73.6 247.6h1.8v1.8h-1.8zM73.6 248.6h1.8v1.8h-1.8zM73.6 250.6h1.8v1.8h-1.8zM73.6 260.6h1.8v1.8h-1.8zM73.6 263.6h1.8v1.8h-1.8zM73.6 264.6h1.8v1.8h-1.8zM73.6 265.6h1.8v1.8h-1.8zM73.6 266.6h1.8v1.8h-1.8zM73.6 267.6h1.8v1.8h-1.8zM73.6 268.6h1.8v1.8h-1.8zM73.6 272.6h1.8v1.8h-1.8zM73.6 274.6h1.8v1.8h-1.8zM74.6 240.6h1.8v1.8h-1.8zM74.6 252.6h1.8v1.8h-1.8zM74.6 253.6h1.8v1.8h-1.8zM74.6 257.6h1.8v1.8h-1.8zM74.6 260.6h1.8v1.8h-1.8zM74.6 263.6h1.8v1.8h-1.8zM74.6 264.6h1.8v1.8h-1.8zM74.6 265.6h1.8v1.8h-1.8zM74.6 267.6h1.8v1.8h-1.8zM74.6 268.6h1.8v1.8h-1.8zM74.6 269.6h1.8v1.8h-1.8zM74.6 271.6h1.8v1.8h-1.8zM74.6 272.6h1.8v1.8h-1.8zM74.6 275.6h1.8v1.8h-1.8zM74.6 282.6h1.8v1.8h-1.8zM75.6 238.6h1.8v1.8h-1.8zM75.6 241.6h1.8v1.8h-1.8zM75.6 244.6h1.8v1.8h-1.8zM75.6 245.6h1.8v1.8h-1.8zM75.6 246.6h1.8v1.8h-1.8zM75.6 249.6h1.8v1.8h-1.8zM75.6 257.6h1.8v1.8h-1.8zM75.6 260.6h1.8v1.8h-1.8zM75.6 262.6h1.8v1.8h-1.8zM75.6 263.6h1.8v1.8h-1.8zM75.6 266.6h1.8v1.8h-1.8zM75.6 268.6h1.8v1.8h-1.8zM75.6 269.6h1.8v1.8h-1.8zM75.6 270.6h1.8v1.8h-1.8zM75.6 271.6h1.8v1.8h-1.8zM76.6 242.6h1.8v1.8h-1.8zM76.6 244.6h1.8v1.8h-1.8zM76.6 245.6h1.8v1.8h-1.8zM76.6 246.6h1.8v1.8h-1.8zM76.6 248.6h1.8v1.8h-1.8zM76.6 251.6h1.8v1.8h-1.8zM76.6 254.6h1.8v1.8h-1.8zM76.6 258.6h1.8v1.8h-1.8zM76.6 260.6h1.8v1.8h-1.8zM76.6 262.6h1.8v1.8h-1.8zM76.6 263.6h1.8v1.8h-1.8zM76.6 267.6h1.8v1.8h-1.8zM76.6 268.6h1.8v1.8h-1.8zM76.6 272.6h1.8v1.8h-1.8zM77.6 241.6h1.8v1.8h-1.8zM77.6 246.6h1.8v1.8h-1.8zM77.6 247.6h1.8v1.8h-1.8zM77.6 248.6h1.8v1.8h-1.8zM77.6 251.6h1.8v1.8h-1.8zM77.6 252.6h1.8v1.8h-1.8zM77.6 254.6h1.8v1.8h-1.8zM77.6 256.6h1.8v1.8h-1.8zM77.6 260.6h1.8v1.8h-1.8zM77.6 266.6h1.8v1.8h-1.8zM77.6 270.6h1.8v1.8h-1.8zM77.6 274.6h1.8v1.8h-1.8zM78.6 240.6h1.8v1.8h-1.8zM78.6 243.6h1.8v1.8h-1.8zM78.6 244.6h1.8v1.8h-1.8zM78.6 249.6h1.8v1.8h-1.8zM78.6 251.6h1.8v1.8h-1.8zM78.6 253.6h1.8v1.8h-1.8zM78.6 257.6h1.8v1.8h-1.8zM78.6 258.6h1.8v1.8h-1.8zM78.6 259.6h1.8v1.8h-1.8zM78.6 263.6h1.8v1.8h-1.8zM78.6 264.6h1.8v1.8h-1.8zM78.6 265.6h1.8v1.8h-1.8zM78.6 266.6h1.8v1.8h-1.8zM78.6 273.6h1.8v1.8h-1.8zM79.6 242.6h1.8v1.8h-1.8zM79.6 243.6h1.8v1.8h-1.8zM79.6 245.6h1.8v1.8h-1.8zM79.6 246.6h1.8v1.8h-1.8zM79.6 249.6h1.8v1.8h-1.8zM79.6 250.6h1.8v1.8h-1.8zM79.6 253.6h1.8v1.8h-1.8zM79.6 254.6h1.8v1.8h-1.8zM79.6 256.6h1.8v1.8h-1.8zM79.6 257.6h1.8v1.8h-1.8zM79.6 258.6h1.8v1.8h-1.8zM79.6 263.6h1.8v1.8h-1.8zM79.6 264.6h1.8v1.8h-1.8zM79.6 270.6h1.8v1.8h-1.8zM80.6 247.6h1.8v1.8h-1.8zM80.6 248.6h1.8v1.8h-1.8zM80.6 251.6h1.8v1.8h-1.8zM80.6 255.6h1.8v1.8h-1.8zM80.6 259.6h1.8v1.8h-1.8zM80.6 261.6h1.8v1.8h-1.8zM80.6 262.6h1.8v1.8h-1.8zM80.6 264.6h1.8v1.8h-1.8zM81.6 239.6h1.8v1.8h-1.8zM81.6 240.6h1.8v1.8h-1.8zM81.6 246.6h1.8v1.8h-1.8zM81.6 249.6h1.8v1.8h-1.8zM81.6 250.6h1.8v1.8h-1.8zM81.6 251.6h1.8v1.8h-1.8zM81.6 252.6h1.8v1.8h-1.8zM81.6 256.6h1.8v1.8h-1.8zM81.6 261.6h1.8v1.8h-1.8zM81.6 264.6h1.8v1.8h-1.8zM81.6 265.6h1.8v1.8h-1.8zM81.6 266.6h1.8v1.8h-1.8zM81.6 270.6h1.8v1.8h-1.8zM81.6 274.6h1.8v1.8h-1.8zM82.6 245.6h1.8v1.8h-1.8zM82.6 249.6h1.8v1.8h-1.8zM82.6 253.6h1.8v1.8h-1.8zM82.6 259.6h1.8v1.8h-1.8zM82.6 260.6h1.8v1.8h-1.8zM82.6 265.6h1.8v1.8h-1.8zM82.6 272.6h1.8v1.8h-1.8zM83.6 248.6h1.8v1.8h-1.8zM83.6 249.6h1.8v1.8h-1.8zM83.6 255.6h1.8v1.8h-1.8zM83.6 257.6h1.8v1.8h-1.8zM83.6 263.6h1.8v1.8h-1.8zM84.6 244.6h1.8v1.8h-1.8zM84.6 251.6h1.8v1.8h-1.8zM84.6 265.6h1.8v1.8h-1.8zM88.6 255.6h1.8v1.8h-1.8zM89.6 252.6h1.8v1.8h-1.8z"/>
<path fill="#0050ff" d="M35.6 270.6h1.8v1.8h-1.8zM35.6 272.6h1.8v1.8h-1.8zM35.6 275.6h1.8v1.8h-1.8zM36.6 239.6h1.8v1.8h-1.8zM36.6 248.6h1.8v1.8h-1.8zM36.6 251.6h1.8v1.8h-1.8zM36.6 252.6h1.8v1.8h-1.8zM36.6 255.6h1.8v1.8h-1.8zM36.6 264.6h1.8v1.8h-1.8zM36.6 277.6h1.8v1.8h-1.8zM37.6 250.6h1.8v1.8h-1.8zM37.6 256.6h1.8v1.8h-1.8zM37.6 257.6h1.8v1.8h-1.8zM37.6 263.6h1.8v1.8h-1.8zM37.6 280.6h1.8v1.8h-1.8zM38.6 263.6h1.8v1.8h-1.8zM38.6 280.6h1.8v1.8h-1.8zM39.6 253.6h1.8v1.8h-1.8zM40.6 249.6h1.8v1.8h-1.8zM40.6 257.6h1.8v1.8h-1.8zM40.6 260.6h1.8v1.8h-1.8zM40.6 265.6h1.8v1.8h-1.8zM40.6 266.6h1.8v1.8h-1.8zM40.6 270.6h1.8v1.8h-1.8zM40.6 273.6h1.8v1.8h-1.8zM40.6 275.6h1.8v1.8h-1.8zM41.6 276.6h1.8v1.8h-1.8zM47.6 255.6h1.8v1.8h-1.8zM48.6 253.6h1.8v1.8h-1.8zM48.6 255.6h1.8v1.8h-1.8zM48.6 258.6h1.8v1.8h-1.8zM49.6 252.6h1.8v1.8h-1.8zM49.6 254.6h1.8v1.8h-1.8zM49.6 255.6h1.8v1.8h-1.8zM50.6 253.6h1.8v1.8h-1.8zM51.6 250.6h1.8v1.8h-1.8zM51.6 255.6h1.8v1.8h-1.8zM51.6 259.6h1.8v1.8h-1.8zM52.6 256.6h1.8v1.8h-1.8zM52.6 258.6h1.8v1.8h-1.8zM53.6 251.6h1.8v1.8h-1.8zM53.6 254.6h1.8v1.8h-1.8zM53.6 256.6h1.8v1.8h-1.8zM53.6 257.6h1.8v1.8h-1.8zM54.6 253.6h1.8v1.8h-1.8zM55.6 246.6h1.8v1.8h-1.8zM55.6 247.6h1.8v1.8h-1.8zM55.6 255.6h1.8v1.8h-1.8zM56.6 245.6h1.8v1.8h-1.8zM56.6 251.6h1.8v1.8h-1.8zM56.6 255.6h1.8v1.8h-1.8zM56.6 259.6h1.8v1.8h-1.8zM57.6 246.6h1.8v1.8h-1.8zM57.6 247.6h1.8v1.8h-1.8zM57.6 250.6h1.8v1.8h-1.8zM57.6 254.6h1.8v1.8h-1.8zM58.6 244.6h1.8v1.8h-1.8zM58.6 249.6h1.8v1.8h-1.8zM58.6 252.6h1.8v1.8h-1.8zM58.6 255.6h1.8v1.8h-1.8zM59.6 248.6h1.8v1.8h-1.8zM59.6 252.6h1.8v1.8h-1.8zM60.6 246.6h1.8v1.8h-1.8zM60.6 249.6h1.8v1.8h-1.8zM60.6 251.6h1.8v1.8h-1.8zM60.6 252.6h1.8v1.8h-1.8zM60.6 259.6h1.8v1.8h-1.8zM60.6 261.6h1.8v1.8h-1.8zM61.6 248.6h1.8v1.8h-1.8zM61.6 254.6h1.8v1.8h-1.8zM61.6 258.6h1.8v1.8h-1.8zM62.6 245.6h1.8v1.8h-1.8zM62.6 247.6h1.8v1.8h-1.8zM62.6 251.6h1.8v1.8h-1.8zM62.6 256.6h1.8v1.8h-1.8zM62.6 260.6h1.8v1.8h-1.8zM62.6 261.6h1.8v1.8h-1.8zM62.6 262.6h1.8v1.8h-1.8zM63.6 244.6h1.8v1.8h-1.8zM63.6 245.6h1.8v1.8h-1.8zM63.6 247.6h1.8v1.8h-1.8zM63.6 248.6h1.8v1.8h-1.8zM63.6 257.6h1.8v1.8h-1.8zM63.6 258.6h1.8v1.8h-1.8zM63.6 262.6h1.8v1.8h-1.8zM64.6 248.6h1.8v1.8h-1.8zM64.6 260.6h1.8v1.8h-1.8zM66.6 243.6h1.8v1.8h-1.8zM66.6 255.6h1.8v1.8h-1.8zM67.6 258.6h1.8v1.8h-1.8zM67.6 262.6h1.8v1.8h-1.8zM68.6 240.6h1.8v1.8h-1.8zM68.6 249.6h1.8v1.8h-1.8zM68.6 256.6h1.8v1.8h-1.8zM68.6 259.6h1.8v1.8h-1.8zM69.6 259.6h1.8v1.8h-1.8zM69.6 260.6h1.8v1.8h-1.8zM70.6 240.6h1.8v1.8h-1.8zM70.6 247.6h1.8v1.8h-1.8zM70.6 256.6h1.8v1.8h-1.8zM71.6 248.6h1.8v1.8h-1.8zM71.6 258.6h1.8v1.8h-1.8zM71.6 264.6h1.8v1.8h-1.8zM72.6 249.6h1.8v1.8h-1.8zM72.6 253.6h1.8v1.8h-1.8zM72.6 256.6h1.8v1.8h-1.8zM73.6 251.6h1.8v1.8h-1.8zM73.6 258.6h1.8v1.8h-1.8zM74.6 245.6h1.8v1.8h-1.8zM74.6 247.6h1.8v1.8h-1.8zM74.6 248.6h1.8v1.8h-1.8zM74.6 276.6h1.8v1.8h-1.8zM75.6 248.6h1.8v1.8h-1.8zM75.6 251.6h1.8v1.8h-1.8zM75.6 252.6h1.8v1.8h-1.8zM75.6 253.6h1.8v1.8h-1.8zM75.6 256.6h1.8v1.8h-1.8zM76.6 256.6h1.8v1.8h-1.8zM77.6 257.6h1.8v1.8h-1.8zM79.6 252.6h1.8v1.8h-1.8z"/>
<path fill="#00c8ff" d="M35.6 273.6h1.8v1.8h-1.8zM36.6 247.6h1.8v1.8h-1.8zM36.6 276.6h1.8v1.8h-1.8zM36.6 281.6h1.8v1.8h-1.8zM37.6 244.6h1.8v1.8h-1.8zM37.6 248.6h1.8v1.8h-1.8zM37.6 279.6h1.8v1.8h-1.8zM38.6 246.6h1.8v1.8h-1.8zM38.6 257.6h1.8v1.8h-1.8zM38.6 261.6h1.8v1.8h-1.8zM39.6 244.6h1.8v1.8h-1.8zM39.6 252.6h1.8v1.8h-1.8zM39.6 257.6h1.8v1.8h-1.8zM39.6 262.6h1.8v1.8h-1.8zM39.6 263.6h1.8v1.8h-1.8zM39.6 264.6h1.8v1.8h-1.8zM39.6 278.6h1.8v1.8h-1.8zM39.6 286.6h1.8v1.8h-1.8zM40.6 242.6h1.8v1.8h-1.8zM40.6 245.6h1.8v1.8h-1.8zM40.6 248.6h1.8v1.8h-1.8zM40.6 254.6h1.8v1.8h-1.8zM41.6 269.6h1.8v1.8h-1.8zM54.6 247.6h1.8v1.8h-1.8zM54.6 255.6h1.8v1.8h-1.8zM55.6 254.6h1.8v1.8h-1.8zM56.6 250.6h1.8v1.8h-1.8zM56.6 254.6h1.8v1.8h-1.8zM56.6 257.6h1.8v1.8h-1.8zM57.6 252.6h1.8v1.8h-1.8zM57.6 255.6h1.8v1.8h-1.8zM57.6 256.6h1.8v1.8h-1.8zM57.6 259.6h1.8v1.8h-1.8zM58.6 250.6h1.8v1.8h-1.8zM58.6 258.6h1.8v1.8h-1.8zM59.6 253.6h1.8v1.8h-1.8zM59.6 255.6h1.8v1.8h-1.8zM59.6 257.6h1.8v1.8h-1.8zM59.6 258.6h1.8v1.8h-1.8zM59.6 261.6h1.8v1.8h-1.8zM60.6 248.6h1.8v1.8h-1.8zM60.6 250.6h1.8v1.8h-1.8zM60.6 257.6h1.8v1.8h-1.8zM60.6 258.6h1.8v1.8h-1.8zM61.6 247.6h1.8v1.8h-1.8zM61.6 251.6h1.8v1.8h-1.8zM61.6 253.6h1.8v1.8h-1.8zM61.6 255.6h1.8v1.8h-1.8zM61.6 257.6h1.8v1.8h-1.8zM62.6 255.6h1.8v1.8h-1.8zM62.6 257.6h1.8v1.8h-1.8zM63.6 246.6h1.8v1.8h-1.8zM63.6 252.6h1.8v1.8h-1.8zM63.6 256.6h1.8v1.8h-1.8zM64.6 247.6h1.8v1.8h-1.8zM65.6 248.6h1.8v1.8h-1.8zM65.6 257.6h1.8v1.8h-1.8zM65.6 258.6h1.8v1.8h-1.8zM65.6 262.6h1.8v1.8h-1.8zM66.6 248.6h1.8v1.8h-1.8zM67.6 248.6h1.8v1.8h-1.8zM67.6 260.6h1.8v1.8h-1.8zM68.6 248.6h1.8v1.8h-1.8zM68.6 254.6h1.8v1.8h-1.8zM69.6 251.6h1.8v1.8h-1.8zM69.6 252.6h1.8v1.8h-1.8zM69.6 254.6h1.8v1.8h-1.8zM70.6 248.6h1.8v1.8h-1.8zM70.6 253.6h1.8v1.8h-1.8zM70.6 258.6h1.8v1.8h-1.8zM72.6 244.6h1.8v1.8h-1.8zM72.6 255.6h1.8v1.8h-1.8zM73.6 255.6h1.8v1.8h-1.8zM75.6 259.6h1.8v1.8h-1.8zM76.6 252.6h1.8v1.8h-1.8zM78.6 248.6h1.8v1.8h-1.8zM78.6 256.6h1.8v1.8h-1.8zM80.6 252.6h1.8v1.8h-1.8z"/>
<path fill="#00e070" d="M36.6 266.6h1.8v1.8h-1.8zM36.6 271.6h1.8v1.8h-1.8zM36.6 275.6h1.8v1.8h-1.8zM37.6 247.6h1.8v1.8h-1.8zM37.6 249.6h1.8v1.8h-1.8zM37.6 253.6h1.8v1.8h-1.8zM37.6 258.6h1.8v1.8h-1.8zM37.6 262.6h1.8v1.8h-1.8zM37.6 277.6h1.8v1.8h-1.8zM38.6 249.6h1.8v1.8h-1.8zM38.6 250.6h1.8v1.8h-1.8zM38.6 262.6h1.8v1.8h-1.8zM38.6 264.6h1.8v1.8h-1.8zM38.6 279.6h1.8v1.8h-1.8zM39.6 258.6h1.8v1.8h-1.8zM40.6 253.6h1.8v1.8h-1.8zM40.6 272.6h1.8v1.8h-1.8zM40.6 277.6h1.8v1.8h-1.8zM40.6 278.6h1.8v1.8h-1.8zM41.6 247.6h1.8v1.8h-1.8zM56.6 246.6h1.8v1.8h-1.8zM56.6 253.6h1.8v1.8h-1.8zM56.6 256.6h1.8v1.8h-1.8zM57.6 249.6h1.8v1.8h-1.8zM59.6 254.6h1.8v1.8h-1.8zM60.6 247.6h1.8v1.8h-1.8zM60.6 254.6h1.8v1.8h-1.8zM60.6 255.6h1.8v1.8h-1.8zM60.6 263.6h1.8v1.8h-1.8zM61.6 246.6h1.8v1.8h-1.8zM61.6 249.6h1.8v1.8h-1.8zM61.6 256.6h1.8v1.8h-1.8zM62.6 248.6h1.8v1.8h-1.8zM62.6 250.6h1.8v1.8h-1.8zM63.6 243.6h1.8v1.8h-1.8zM63.6 251.6h1.8v1.8h-1.8zM63.6 261.6h1.8v1.8h-1.8zM64.6 246.6h1.8v1.8h-1.8zM64.6 251.6h1.8v1.8h-1.8zM64.6 254.6h1.8v1.8h-1.8zM64.6 256.6h1.8v1.8h-1.8zM64.6 257.6h1.8v1.8h-1.8zM65.6 253.6h1.8v1.8h-1.8zM67.6 255.6h1.8v1.8h-1.8zM67.6 257.6h1.8v1.8h-1.8zM68.6 257.6h1.8v1.8h-1.8zM69.6 249.6h1.8v1.8h-1.8zM69.6 256.6h1.8v1.8h-1.8zM70.6 254.6h1.8v1.8h-1.8zM70.6 255.6h1.8v1.8h-1.8zM70.6 257.6h1.8v1.8h-1.8zM71.6 247.6h1.8v1.8h-1.8zM71.6 260.6h1.8v1.8h-1.8zM72.6 245.6h1.8v1.8h-1.8zM72.6 248.6h1.8v1.8h-1.8zM73.6 249.6h1.8v1.8h-1.8zM73.6 252.6h1.8v1.8h-1.8zM73.6 257.6h1.8v1.8h-1.8zM74.6 258.6h1.8v1.8h-1.8zM75.6 250.6h1.8v1.8h-1.8z"/>
<path fill="#30e000" d="M36.6 259.6h1.8v1.8h-1.8zM36.6 265.6h1.8v1.8h-1.8zM36.6 267.6h1.8v1.8h-1.8zM36.6 270.6h1.8v1.8h-1.8zM36.6 272.6h1.8v1.8h-1.8zM36.6 274.6h1.8v1.8h-1.8zM37.6 255.6h1.8v1.8h-1.8zM37.6 260.6h1.8v1.8h-1.8zM37.6 264.6h1.8v1.8h-1.8zM37.6 265.6h1.8v1.8h-1.8zM38.6 248.6h1.8v1.8h-1.8zM38.6 251.6h1.8v1.8h-1.8zM38.6 252.6h1.8v1.8h-1.8zM38.6 253.6h1.8v1.8h-1.8zM38.6 255.6h1.8v1.8h-1.8zM38.6 256.6h1.8v1.8h-1.8zM38.6 260.6h1.8v1.8h-1.8zM38.6 265.6h1.8v1.8h-1.8zM39.6 248.6h1.8v1.8h-1.8zM39.6 250.6h1.8v1.8h-1.8zM39.6 251.6h1.8v1.8h-1.8zM39.6 259.6h1.8v1.8h-1.8zM39.6 261.6h1.8v1.8h-1.8zM39.6 265.6h1.8v1.8h-1.8zM39.6 266.6h1.8v1.8h-1.8zM40.6 255.6h1.8v1.8h-1.8zM40.6 267.6h1.8v1.8h-1.8zM40.6 268.6h1.8v1.8h-1.8zM40.6 271.6h1.8v1.8h-1.8zM40.6 276.6h1.8v1.8h-1.8zM54.6 258.6h1.8v1.8h-1.8zM58.6 251.6h1.8v1.8h-1.8zM59.6 256.6h1.8v1.8h-1.8zM60.6 256.6h1.8v1.8h-1.8zM62.6 249.6h1.8v1.8h-1.8zM62.6 252.6h1.8v1.8h-1.8zM63.6 253.6h1.8v1.8h-1.8zM63.6 254.6h1.8v1.8h-1.8zM64.6 249.6h1.8v1.8h-1.8zM64.6 252.6h1.8v1.8h-1.8zM64.6 255.6h1.8v1.8h-1.8zM65.6 249.6h1.8v1.8h-1.8zM65.6 251.6h1.8v1.8h-1.8zM65.6 256.6h1.8v1.8h-1.8zM65.6 260.6h1.8v1.8h-1.8zM66.6 256.6h1.8v1.8h-1.8zM66.6 257.6h1.8v1.8h-1.8zM67.6 252.6h1.8v1.8h-1.8zM69.6 250.6h1.8v1.8h-1.8zM69.6 255.6h1.8v1.8h-1.8zM71.6 251.6h1.8v1.8h-1.8zM71.6 254.6h1.8v1.8h-1.8zM72.6 250.6h1.8v1.8h-1.8zM72.6 257.6h1.8v1.8h-1.8zM74.6 250.6h1.8v1.8h-1.8z"/>
<path fill="#b0f000" d="M36.6 269.6h1.8v1.8h-1.8zM36.6 273.6h1.8v1.8h-1.8zM37.6 251.6h1.8v1.8h-1.8zM37.6 267.6h1.8v1.8h-1.8zM38.6 258.6h1.8v1.8h-1.8zM38.6 259.6h1.8v1.8h-1.8zM38.6 266.6h1.8v1.8h-1.8zM38.6 278.6h1.8v1.8h-1.8zM39.6 254.6h1.8v1.8h-1.8zM39.6 255.6h1.8v1.8h-1.8zM39.6 274.6h1.8v1.8h-1.8zM39.6 276.6h1.8v1.8h-1.8zM39.6 279.6h1.8v1.8h-1.8zM40.6 269.6h1.8v1.8h-1.8zM57.6 257.6h1.8v1.8h-1.8zM61.6 252.6h1.8v1.8h-1.8zM62.6 253.6h1.8v1.8h-1.8zM62.6 254.6h1.8v1.8h-1.8zM63.6 255.6h1.8v1.8h-1.8zM64.6 253.6h1.8v1.8h-1.8zM64.6 258.6h1.8v1.8h-1.8zM65.6 252.6h1.8v1.8h-1.8zM66.6 253.6h1.8v1.8h-1.8zM67.6 249.6h1.8v1.8h-1.8zM67.6 250.6h1.8v1.8h-1.8zM67.6 253.6h1.8v1.8h-1.8zM67.6 254.6h1.8v1.8h-1.8zM67.6 256.6h1.8v1.8h-1.8zM68.6 251.6h1.8v1.8h-1.8zM68.6 253.6h1.8v1.8h-1.8zM70.6 252.6h1.8v1.8h-1.8zM71.6 250.6h1.8v1.8h-1.8zM71.6 255.6h1.8v1.8h-1.8z"/>
<path fill="#ffe000" d="M36.6 268.6h1.8v1.8h-1.8zM37.6 273.6h1.8v1.8h-1.8zM37.6 274.6h1.8v1.8h-1.8zM38.6 272.6h1.8v1.8h-1.8zM38.6 277.6h1.8v1.8h-1.8zM39.6 260.6h1.8v1.8h-1.8zM39.6 270.6h1.8v1.8h-1.8zM40.6 274.6h1.8v1.8h-1.8zM61.6 250.6h1.8v1.8h-1.8zM63.6 249.6h1.8v1.8h-1.8zM65.6 250.6h1.8v1.8h-1.8zM65.6 254.6h1.8v1.8h-1.8zM70.6 251.6h1.8v1.8h-1.8z"/>
<path fill="#ff9000" d="M37.6 266.6h1.8v1.8h-1.8zM37.6 271.6h1.8v1.8h-1.8zM38.6 268.6h1.8v1.8h-1.8zM38.6 270.6h1.8v1.8h-1.8zM39.6 267.6h1.8v1.8h-1.8zM39.6 268.6h1.8v1.8h-1.8zM39.6 269.6h1.8v1.8h-1.8zM39.6 272.6h1.8v1.8h-1.8zM39.6 275.6h1.8v1.8h-1.8zM39.6 277.6h1.8v1.8h-1.8zM65.6 255.6h1.8v1.8h-1.8z"/>
<path fill="#ff2a00" d="M37.6 268.6h1.8v1.8h-1.8zM37.6 269.6h1.8v1.8h-1.8zM37.6 270.6h1.8v1.8h-1.8zM37.6 272.6h1.8v1.8h-1.8zM37.6 275.6h1.8v1.8h-1.8zM37.6 276.6h1.8v1.8h-1.8zM38.6 267.6h1.8v1.8h-1.8zM38.6 269.6h1.8v1.8h-1.8zM38.6 271.6h1.8v1.8h-1.8zM38.6 273.6h1.8v1.8h-1.8zM38.6 274.6h1.8v1.8h-1.8zM38.6 275.6h1.8v1.8h-1.8zM38.6 276.6h1.8v1.8h-1.8zM39.6 271.6h1.8v1.8h-1.8zM39.6 273.6h1.8v1.8h-1.8zM67.6 259.6h1.8v1.8h-1.8z"/>
<path fill="#1010ff" d="M138.6 265.6h1.8v1.8h-1.8zM139.6 248.6h1.8v1.8h-1.8zM139.6 258.6h1.8v1.8h-1.8zM139.6 260.6h1.8v1.8h-1.8zM139.6 267.6h1.8v1.8h-1.8zM139.6 269.6h1.8v1.8h-1.8zM139.6 271.6h1.8v1.8h-1.8zM139.6 273.6h1.8v1.8h-1.8zM139.6 277.6h1.8v1.8h-1.8zM140.6 244.6h1.8v1.8h-1.8zM140.6 254.6h1.8v1.8h-1.8zM140.6 261.6h1.8v1.8h-1.8zM140.6 263.6h1.8v1.8h-1.8zM140.6 264.6h1.8v1.8h-1.8zM140.6 265.6h1.8v1.8h-1.8zM140.6 266.6h1.8v1.8h-1.8zM140.6 267.6h1.8v1.8h-1.8zM140.6 270.6h1.8v1.8h-1.8zM140.6 271.6h1.8v1.8h-1.8zM140.6 275.6h1.8v1.8h-1.8zM141.6 247.6h1.8v1.8h-1.8zM141.6 253.6h1.8v1.8h-1.8zM141.6 254.6h1.8v1.8h-1.8zM141.6 258.6h1.8v1.8h-1.8zM141.6 262.6h1.8v1.8h-1.8zM141.6 263.6h1.8v1.8h-1.8zM141.6 264.6h1.8v1.8h-1.8zM141.6 265.6h1.8v1.8h-1.8zM141.6 268.6h1.8v1.8h-1.8zM141.6 277.6h1.8v1.8h-1.8zM141.6 278.6h1.8v1.8h-1.8zM141.6 279.6h1.8v1.8h-1.8zM141.6 280.6h1.8v1.8h-1.8zM141.6 282.6h1.8v1.8h-1.8zM141.6 283.6h1.8v1.8h-1.8zM141.6 284.6h1.8v1.8h-1.8zM141.6 289.6h1.8v1.8h-1.8zM142.6 246.6h1.8v1.8h-1.8zM142.6 249.6h1.8v1.8h-1.8zM142.6 255.6h1.8v1.8h-1.8zM142.6 256.6h1.8v1.8h-1.8zM142.6 258.6h1.8v1.8h-1.8zM142.6 259.6h1.8v1.8h-1.8zM142.6 260.6h1.8v1.8h-1.8zM142.6 261.6h1.8v1.8h-1.8zM142.6 281.6h1.8v1.8h-1.8zM142.6 282.6h1.8v1.8h-1.8zM142.6 284.6h1.8v1.8h-1.8zM143.6 243.6h1.8v1.8h-1.8zM143.6 246.6h1.8v1.8h-1.8zM143.6 251.6h1.8v1.8h-1.8zM143.6 255.6h1.8v1.8h-1.8zM143.6 282.6h1.8v1.8h-1.8zM143.6 286.6h1.8v1.8h-1.8zM143.6 287.6h1.8v1.8h-1.8zM144.6 246.6h1.8v1.8h-1.8zM144.6 248.6h1.8v1.8h-1.8zM144.6 250.6h1.8v1.8h-1.8zM144.6 252.6h1.8v1.8h-1.8zM144.6 254.6h1.8v1.8h-1.8zM144.6 262.6h1.8v1.8h-1.8zM144.6 263.6h1.8v1.8h-1.8zM144.6 281.6h1.8v1.8h-1.8zM144.6 282.6h1.8v1.8h-1.8zM144.6 284.6h1.8v1.8h-1.8zM144.6 286.6h1.8v1.8h-1.8zM144.6 288.6h1.8v1.8h-1.8zM145.6 241.6h1.8v1.8h-1.8zM145.6 255.6h1.8v1.8h-1.8zM145.6 262.6h1.8v1.8h-1.8zM145.6 283.6h1.8v1.8h-1.8zM145.6 285.6h1.8v1.8h-1.8zM145.6 286.6h1.8v1.8h-1.8zM145.6 289.6h1.8v1.8h-1.8zM146.6 245.6h1.8v1.8h-1.8zM146.6 248.6h1.8v1.8h-1.8zM146.6 250.6h1.8v1.8h-1.8zM146.6 254.6h1.8v1.8h-1.8zM146.6 263.6h1.8v1.8h-1.8zM146.6 281.6h1.8v1.8h-1.8zM146.6 282.6h1.8v1.8h-1.8zM147.6 248.6h1.8v1.8h-1.8zM147.6 252.6h1.8v1.8h-1.8zM147.6 254.6h1.8v1.8h-1.8zM147.6 255.6h1.8v1.8h-1.8zM147.6 257.6h1.8v1.8h-1.8zM147.6 259.6h1.8v1.8h-1.8zM147.6 260.6h1.8v1.8h-1.8zM147.6 262.6h1.8v1.8h-1.8zM147.6 263.6h1.8v1.8h-1.8zM147.6 264.6h1.8v1.8h-1.8zM147.6 266.6h1.8v1.8h-1.8zM147.6 279.6h1.8v1.8h-1.8zM147.6 282.6h1.8v1.8h-1.8zM147.6 286.6h1.8v1.8h-1.8zM147.6 287.6h1.8v1.8h-1.8zM147.6 288.6h1.8v1.8h-1.8zM147.6 289.6h1.8v1.8h-1.8zM148.6 246.6h1.8v1.8h-1.8zM148.6 252.6h1.8v1.8h-1.8zM148.6 253.6h1.8v1.8h-1.8zM148.6 256.6h1.8v1.8h-1.8zM148.6 258.6h1.8v1.8h-1.8zM148.6 259.6h1.8v1.8h-1.8zM148.6 260.6h1.8v1.8h-1.8zM148.6 261.6h1.8v1.8h-1.8zM148.6 262.6h1.8v1.8h-1.8zM148.6 264.6h1.8v1.8h-1.8zM148.6 265.6h1.8v1.8h-1.8zM148.6 268.6h1.8v1.8h-1.8zM148.6 269.6h1.8v1.8h-1.8zM148.6 273.6h1.8v1.8h-1.8zM148.6 276.6h1.8v1.8h-1.8zM148.6 277.6h1.8v1.8h-1.8zM148.6 280.6h1.8v1.8h-1.8zM148.6 282.6h1.8v1.8h-1.8zM149.6 245.6h1.8v1.8h-1.8zM149.6 250.6h1.8v1.8h-1.8zM149.6 252.6h1.8v1.8h-1.8zM149.6 254.6h1.8v1.8h-1.8zM149.6 255.6h1.8v1.8h-1.8zM149.6 256.6h1.8v1.8h-1.8zM149.6 260.6h1.8v1.8h-1.8zM149.6 266.6h1.8v1.8h-1.8zM149.6 267.6h1.8v1.8h-1.8zM149.6 268.6h1.8v1.8h-1.8zM149.6 273.6h1.8v1.8h-1.8zM149.6 275.6h1.8v1.8h-1.8zM149.6 276.6h1.8v1.8h-1.8zM149.6 278.6h1.8v1.8h-1.8zM149.6 280.6h1.8v1.8h-1.8zM149.6 285.6h1.8v1.8h-1.8zM150.6 249.6h1.8v1.8h-1.8zM150.6 252.6h1.8v1.8h-1.8zM150.6 258.6h1.8v1.8h-1.8zM150.6 259.6h1.8v1.8h-1.8zM150.6 264.6h1.8v1.8h-1.8zM150.6 267.6h1.8v1.8h-1.8zM150.6 268.6h1.8v1.8h-1.8zM150.6 271.6h1.8v1.8h-1.8zM150.6 272.6h1.8v1.8h-1.8zM150.6 273.6h1.8v1.8h-1.8zM150.6 274.6h1.8v1.8h-1.8zM150.6 281.6h1.8v1.8h-1.8zM150.6 282.6h1.8v1.8h-1.8zM151.6 243.6h1.8v1.8h-1.8zM151.6 248.6h1.8v1.8h-1.8zM151.6 251.6h1.8v1.8h-1.8zM151.6 260.6h1.8v1.8h-1.8zM151.6 262.6h1.8v1.8h-1.8zM151.6 263.6h1.8v1.8h-1.8zM151.6 264.6h1.8v1.8h-1.8zM151.6 265.6h1.8v1.8h-1.8zM151.6 269.6h1.8v1.8h-1.8zM151.6 270.6h1.8v1.8h-1.8zM151.6 275.6h1.8v1.8h-1.8zM151.6 282.6h1.8v1.8h-1.8zM151.6 285.6h1.8v1.8h-1.8zM152.6 252.6h1.8v1.8h-1.8zM152.6 260.6h1.8v1.8h-1.8zM152.6 262.6h1.8v1.8h-1.8zM152.6 264.6h1.8v1.8h-1.8zM152.6 266.6h1.8v1.8h-1.8zM152.6 270.6h1.8v1.8h-1.8zM152.6 272.6h1.8v1.8h-1.8zM152.6 275.6h1.8v1.8h-1.8zM152.6 280.6h1.8v1.8h-1.8zM152.6 281.6h1.8v1.8h-1.8zM152.6 282.6h1.8v1.8h-1.8zM153.6 244.6h1.8v1.8h-1.8zM153.6 247.6h1.8v1.8h-1.8zM153.6 251.6h1.8v1.8h-1.8zM153.6 252.6h1.8v1.8h-1.8zM153.6 256.6h1.8v1.8h-1.8zM153.6 257.6h1.8v1.8h-1.8zM153.6 260.6h1.8v1.8h-1.8zM153.6 262.6h1.8v1.8h-1.8zM153.6 264.6h1.8v1.8h-1.8zM153.6 265.6h1.8v1.8h-1.8zM153.6 267.6h1.8v1.8h-1.8zM153.6 270.6h1.8v1.8h-1.8zM153.6 275.6h1.8v1.8h-1.8zM153.6 276.6h1.8v1.8h-1.8zM153.6 277.6h1.8v1.8h-1.8zM153.6 282.6h1.8v1.8h-1.8zM154.6 248.6h1.8v1.8h-1.8zM154.6 250.6h1.8v1.8h-1.8zM154.6 253.6h1.8v1.8h-1.8zM154.6 258.6h1.8v1.8h-1.8zM154.6 259.6h1.8v1.8h-1.8zM154.6 260.6h1.8v1.8h-1.8zM154.6 262.6h1.8v1.8h-1.8zM154.6 264.6h1.8v1.8h-1.8zM154.6 267.6h1.8v1.8h-1.8zM154.6 268.6h1.8v1.8h-1.8zM154.6 269.6h1.8v1.8h-1.8zM154.6 270.6h1.8v1.8h-1.8zM154.6 271.6h1.8v1.8h-1.8zM154.6 272.6h1.8v1.8h-1.8zM154.6 273.6h1.8v1.8h-1.8zM154.6 283.6h1.8v1.8h-1.8zM155.6 248.6h1.8v1.8h-1.8zM155.6 251.6h1.8v1.8h-1.8zM155.6 257.6h1.8v1.8h-1.8zM155.6 259.6h1.8v1.8h-1.8zM155.6 261.6h1.8v1.8h-1.8zM155.6 262.6h1.8v1.8h-1.8zM155.6 271.6h1.8v1.8h-1.8zM155.6 273.6h1.8v1.8h-1.8zM155.6 277.6h1.8v1.8h-1.8zM156.6 245.6h1.8v1.8h-1.8zM156.6 250.6h1.8v1.8h-1.8zM156.6 253.6h1.8v1.8h-1.8zM156.6 254.6h1.8v1.8h-1.8zM156.6 259.6h1.8v1.8h-1.8zM156.6 261.6h1.8v1.8h-1.8zM156.6 269.6h1.8v1.8h-1.8zM156.6 270.6h1.8v1.8h-1.8zM156.6 273.6h1.8v1.8h-1.8zM156.6 275.6h1.8v1.8h-1.8zM156.6 279.6h1.8v1.8h-1.8zM157.6 245.6h1.8v1.8h-1.8zM157.6 248.6h1.8v1.8h-1.8zM157.6 249.6h1.8v1.8h-1.8zM157.6 256.6h1.8v1.8h-1.8zM157.6 257.6h1.8v1.8h-1.8zM157.6 260.6h1.8v1.8h-1.8zM157.6 263.6h1.8v1.8h-1.8zM157.6 264.6h1.8v1.8h-1.8zM157.6 268.6h1.8v1.8h-1.8zM157.6 270.6h1.8v1.8h-1.8zM157.6 271.6h1.8v1.8h-1.8zM157.6 273.6h1.8v1.8h-1.8zM157.6 274.6h1.8v1.8h-1.8zM157.6 277.6h1.8v1.8h-1.8zM157.6 280.6h1.8v1.8h-1.8zM157.6 282.6h1.8v1.8h-1.8zM158.6 244.6h1.8v1.8h-1.8zM158.6 246.6h1.8v1.8h-1.8zM158.6 248.6h1.8v1.8h-1.8zM158.6 252.6h1.8v1.8h-1.8zM158.6 260.6h1.8v1.8h-1.8zM158.6 261.6h1.8v1.8h-1.8zM158.6 263.6h1.8v1.8h-1.8zM158.6 268.6h1.8v1.8h-1.8zM158.6 269.6h1.8v1.8h-1.8zM158.6 270.6h1.8v1.8h-1.8zM158.6 273.6h1.8v1.8h-1.8zM158.6 274.6h1.8v1.8h-1.8zM158.6 275.6h1.8v1.8h-1.8zM158.6 278.6h1.8v1.8h-1.8zM159.6 255.6h1.8v1.8h-1.8zM159.6 260.6h1.8v1.8h-1.8zM159.6 262.6h1.8v1.8h-1.8zM159.6 265.6h1.8v1.8h-1.8zM159.6 269.6h1.8v1.8h-1.8zM159.6 270.6h1.8v1.8h-1.8zM159.6 272.6h1.8v1.8h-1.8zM159.6 273.6h1.8v1.8h-1.8zM159.6 274.6h1.8v1.8h-1.8zM159.6 275.6h1.8v1.8h-1.8zM159.6 276.6h1.8v1.8h-1.8zM159.6 278.6h1.8v1.8h-1.8zM159.6 281.6h1.8v1.8h-1.8zM159.6 282.6h1.8v1.8h-1.8zM159.6 283.6h1.8v1.8h-1.8zM160.6 251.6h1.8v1.8h-1.8zM160.6 252.6h1.8v1.8h-1.8zM160.6 259.6h1.8v1.8h-1.8zM160.6 260.6h1.8v1.8h-1.8zM160.6 267.6h1.8v1.8h-1.8zM160.6 269.6h1.8v1.8h-1.8zM160.6 272.6h1.8v1.8h-1.8zM160.6 273.6h1.8v1.8h-1.8zM160.6 276.6h1.8v1.8h-1.8zM160.6 277.6h1.8v1.8h-1.8zM160.6 278.6h1.8v1.8h-1.8zM160.6 279.6h1.8v1.8h-1.8zM160.6 280.6h1.8v1.8h-1.8zM160.6 281.6h1.8v1.8h-1.8zM161.6 240.6h1.8v1.8h-1.8zM161.6 249.6h1.8v1.8h-1.8zM161.6 250.6h1.8v1.8h-1.8zM161.6 253.6h1.8v1.8h-1.8zM161.6 254.6h1.8v1.8h-1.8zM161.6 255.6h1.8v1.8h-1.8zM161.6 264.6h1.8v1.8h-1.8zM161.6 267.6h1.8v1.8h-1.8zM161.6 268.6h1.8v1.8h-1.8zM161.6 270.6h1.8v1.8h-1.8zM161.6 273.6h1.8v1.8h-1.8zM161.6 274.6h1.8v1.8h-1.8zM161.6 275.6h1.8v1.8h-1.8zM161.6 278.6h1.8v1.8h-1.8zM161.6 283.6h1.8v1.8h-1.8zM162.6 240.6h1.8v1.8h-1.8zM162.6 250.6h1.8v1.8h-1.8zM162.6 251.6h1.8v1.8h-1.8zM162.6 254.6h1.8v1.8h-1.8zM162.6 266.6h1.8v1.8h-1.8zM162.6 267.6h1.8v1.8h-1.8zM162.6 268.6h1.8v1.8h-1.8zM162.6 270.6h1.8v1.8h-1.8zM162.6 272.6h1.8v1.8h-1.8zM162.6 273.6h1.8v1.8h-1.8zM162.6 274.6h1.8v1.8h-1.8zM162.6 275.6h1.8v1.8h-1.8zM162.6 277.6h1.8v1.8h-1.8zM162.6 281.6h1.8v1.8h-1.8zM163.6 248.6h1.8v1.8h-1.8zM163.6 255.6h1.8v1.8h-1.8zM163.6 259.6h1.8v1.8h-1.8zM163.6 269.6h1.8v1.8h-1.8zM163.6 270.6h1.8v1.8h-1.8zM163.6 271.6h1.8v1.8h-1.8zM163.6 273.6h1.8v1.8h-1.8zM163.6 275.6h1.8v1.8h-1.8zM163.6 277.6h1.8v1.8h-1.8zM164.6 242.6h1.8v1.8h-1.8zM164.6 244.6h1.8v1.8h-1.8zM164.6 245.6h1.8v1.8h-1.8zM164.6 253.6h1.8v1.8h-1.8zM164.6 254.6h1.8v1.8h-1.8zM164.6 258.6h1.8v1.8h-1.8zM164.6 261.6h1.8v1.8h-1.8zM164.6 263.6h1.8v1.8h-1.8zM164.6 264.6h1.8v1.8h-1.8zM164.6 265.6h1.8v1.8h-1.8zM164.6 266.6h1.8v1.8h-1.8zM164.6 268.6h1.8v1.8h-1.8zM164.6 272.6h1.8v1.8h-1.8zM164.6 276.6h1.8v1.8h-1.8zM164.6 279.6h1.8v1.8h-1.8zM164.6 281.6h1.8v1.8h-1.8zM165.6 243.6h1.8v1.8h-1.8zM165.6 244.6h1.8v1.8h-1.8zM165.6 250.6h1.8v1.8h-1.8zM165.6 263.6h1.8v1.8h-1.8zM165.6 269.6h1.8v1.8h-1.8zM165.6 273.6h1.8v1.8h-1.8zM165.6 274.6h1.8v1.8h-1.8zM165.6 275.6h1.8v1.8h-1.8zM166.6 244.6h1.8v1.8h-1.8zM166.6 245.6h1.8v1.8h-1.8zM166.6 246.6h1.8v1.8h-1.8zM166.6 252.6h1.8v1.8h-1.8zM166.6 255.6h1.8v1.8h-1.8zM166.6 258.6h1.8v1.8h-1.8zM166.6 260.6h1.8v1.8h-1.8zM166.6 264.6h1.8v1.8h-1.8zM166.6 266.6h1.8v1.8h-1.8zM166.6 268.6h1.8v1.8h-1.8zM166.6 269.6h1.8v1.8h-1.8zM166.6 273.6h1.8v1.8h-1.8zM166.6 274.6h1.8v1.8h-1.8zM166.6 275.6h1.8v1.8h-1.8zM166.6 278.6h1.8v1.8h-1.8zM166.6 281.6h1.8v1.8h-1.8zM166.6 282.6h1.8v1.8h-1.8zM167.6 242.6h1.8v1.8h-1.8zM167.6 254.6h1.8v1.8h-1.8zM167.6 261.6h1.8v1.8h-1.8zM167.6 269.6h1.8v1.8h-1.8zM167.6 270.6h1.8v1.8h-1.8zM167.6 271.6h1.8v1.8h-1.8zM167.6 274.6h1.8v1.8h-1.8zM167.6 276.6h1.8v1.8h-1.8zM167.6 279.6h1.8v1.8h-1.8zM167.6 280.6h1.8v1.8h-1.8zM167.6 281.6h1.8v1.8h-1.8zM167.6 282.6h1.8v1.8h-1.8zM168.6 240.6h1.8v1.8h-1.8zM168.6 241.6h1.8v1.8h-1.8zM168.6 248.6h1.8v1.8h-1.8zM168.6 253.6h1.8v1.8h-1.8zM168.6 254.6h1.8v1.8h-1.8zM168.6 255.6h1.8v1.8h-1.8zM168.6 256.6h1.8v1.8h-1.8zM168.6 265.6h1.8v1.8h-1.8zM168.6 267.6h1.8v1.8h-1.8zM168.6 269.6h1.8v1.8h-1.8zM168.6 271.6h1.8v1.8h-1.8zM168.6 279.6h1.8v1.8h-1.8zM168.6 280.6h1.8v1.8h-1.8zM168.6 281.6h1.8v1.8h-1.8zM169.6 240.6h1.8v1.8h-1.8zM169.6 245.6h1.8v1.8h-1.8zM169.6 246.6h1.8v1.8h-1.8zM169.6 248.6h1.8v1.8h-1.8zM169.6 249.6h1.8v1.8h-1.8zM169.6 257.6h1.8v1.8h-1.8zM169.6 261.6h1.8v1.8h-1.8zM169.6 262.6h1.8v1.8h-1.8zM169.6 263.6h1.8v1.8h-1.8zM169.6 264.6h1.8v1.8h-1.8zM169.6 267.6h1.8v1.8h-1.8zM169.6 271.6h1.8v1.8h-1.8zM169.6 273.6h1.8v1.8h-1.8zM170.6 240.6h1.8v1.8h-1.8zM170.6 246.6h1.8v1.8h-1.8zM170.6 248.6h1.8v1.8h-1.8zM170.6 255.6h1.8v1.8h-1.8zM170.6 260.6h1.8v1.8h-1.8zM170.6 262.6h1.8v1.8h-1.8zM170.6 271.6h1.8v1.8h-1.8zM171.6 238.6h1.8v1.8h-1.8zM171.6 240.6h1.8v1.8h-1.8zM171.6 245.6h1.8v1.8h-1.8zM171.6 250.6h1.8v1.8h-1.8zM171.6 252.6h1.8v1.8h-1.8zM171.6 255.6h1.8v1.8h-1.8zM171.6 257.6h1.8v1.8h-1.8zM171.6 265.6h1.8v1.8h-1.8zM171.6 267.6h1.8v1.8h-1.8zM171.6 268.6h1.8v1.8h-1.8zM171.6 269.6h1.8v1.8h-1.8zM171.6 271.6h1.8v1.8h-1.8zM171.6 272.6h1.8v1.8h-1.8zM171.6 274.6h1.8v1.8h-1.8zM171.6 275.6h1.8v1.8h-1.8zM171.6 278.6h1.8v1.8h-1.8zM172.6 246.6h1.8v1.8h-1.8zM172.6 247.6h1.8v1.8h-1.8zM172.6 249.6h1.8v1.8h-1.8zM172.6 250.6h1.8v1.8h-1.8zM172.6 251.6h1.8v1.8h-1.8zM172.6 253.6h1.8v1.8h-1.8zM172.6 263.6h1.8v1.8h-1.8zM172.6 266.6h1.8v1.8h-1.8zM172.6 267.6h1.8v1.8h-1.8zM172.6 269.6h1.8v1.8h-1.8zM172.6 270.6h1.8v1.8h-1.8zM172.6 271.6h1.8v1.8h-1.8zM172.6 279.6h1.8v1.8h-1.8zM173.6 239.6h1.8v1.8h-1.8zM173.6 241.6h1.8v1.8h-1.8zM173.6 242.6h1.8v1.8h-1.8zM173.6 255.6h1.8v1.8h-1.8zM173.6 256.6h1.8v1.8h-1.8zM173.6 257.6h1.8v1.8h-1.8zM173.6 258.6h1.8v1.8h-1.8zM173.6 260.6h1.8v1.8h-1.8zM173.6 261.6h1.8v1.8h-1.8zM173.6 263.6h1.8v1.8h-1.8zM173.6 265.6h1.8v1.8h-1.8zM173.6 266.6h1.8v1.8h-1.8zM173.6 268.6h1.8v1.8h-1.8zM173.6 269.6h1.8v1.8h-1.8zM173.6 270.6h1.8v1.8h-1.8zM173.6 277.6h1.8v1.8h-1.8zM173.6 278.6h1.8v1.8h-1.8zM174.6 236.6h1.8v1.8h-1.8zM174.6 239.6h1.8v1.8h-1.8zM174.6 242.6h1.8v1.8h-1.8zM174.6 253.6h1.8v1.8h-1.8zM174.6 257.6h1.8v1.8h-1.8zM174.6 259.6h1.8v1.8h-1.8zM174.6 262.6h1.8v1.8h-1.8zM174.6 263.6h1.8v1.8h-1.8zM174.6 264.6h1.8v1.8h-1.8zM174.6 265.6h1.8v1.8h-1.8zM174.6 266.6h1.8v1.8h-1.8zM174.6 267.6h1.8v1.8h-1.8zM174.6 268.6h1.8v1.8h-1.8zM174.6 269.6h1.8v1.8h-1.8zM174.6 271.6h1.8v1.8h-1.8zM174.6 272.6h1.8v1.8h-1.8zM174.6 274.6h1.8v1.8h-1.8zM175.6 240.6h1.8v1.8h-1.8zM175.6 242.6h1.8v1.8h-1.8zM175.6 243.6h1.8v1.8h-1.8zM175.6 245.6h1.8v1.8h-1.8zM175.6 255.6h1.8v1.8h-1.8zM175.6 261.6h1.8v1.8h-1.8zM175.6 262.6h1.8v1.8h-1.8zM175.6 264.6h1.8v1.8h-1.8zM175.6 265.6h1.8v1.8h-1.8zM175.6 277.6h1.8v1.8h-1.8zM176.6 240.6h1.8v1.8h-1.8zM176.6 242.6h1.8v1.8h-1.8zM176.6 249.6h1.8v1.8h-1.8zM176.6 253.6h1.8v1.8h-1.8zM176.6 254.6h1.8v1.8h-1.8zM176.6 255.6h1.8v1.8h-1.8zM176.6 257.6h1.8v1.8h-1.8zM176.6 259.6h1.8v1.8h-1.8zM176.6 261.6h1.8v1.8h-1.8zM176.6 263.6h1.8v1.8h-1.8zM176.6 265.6h1.8v1.8h-1.8zM176.6 267.6h1.8v1.8h-1.8zM176.6 269.6h1.8v1.8h-1.8zM176.6 270.6h1.8v1.8h-1.8zM176.6 271.6h1.8v1.8h-1.8zM176.6 272.6h1.8v1.8h-1.8zM176.6 273.6h1.8v1.8h-1.8zM176.6 275.6h1.8v1.8h-1.8zM177.6 247.6h1.8v1.8h-1.8zM177.6 248.6h1.8v1.8h-1.8zM177.6 250.6h1.8v1.8h-1.8zM177.6 252.6h1.8v1.8h-1.8zM177.6 254.6h1.8v1.8h-1.8zM177.6 255.6h1.8v1.8h-1.8zM177.6 256.6h1.8v1.8h-1.8zM177.6 257.6h1.8v1.8h-1.8zM177.6 259.6h1.8v1.8h-1.8zM177.6 261.6h1.8v1.8h-1.8zM177.6 262.6h1.8v1.8h-1.8zM177.6 263.6h1.8v1.8h-1.8zM178.6 241.6h1.8v1.8h-1.8zM178.6 249.6h1.8v1.8h-1.8zM178.6 251.6h1.8v1.8h-1.8zM178.6 263.6h1.8v1.8h-1.8zM178.6 268.6h1.8v1.8h-1.8zM178.6 269.6h1.8v1.8h-1.8zM178.6 274.6h1.8v1.8h-1.8zM179.6 240.6h1.8v1.8h-1.8zM179.6 245.6h1.8v1.8h-1.8zM179.6 247.6h1.8v1.8h-1.8zM179.6 249.6h1.8v1.8h-1.8zM179.6 250.6h1.8v1.8h-1.8zM179.6 251.6h1.8v1.8h-1.8zM179.6 255.6h1.8v1.8h-1.8zM179.6 256.6h1.8v1.8h-1.8zM179.6 258.6h1.8v1.8h-1.8zM179.6 259.6h1.8v1.8h-1.8zM179.6 265.6h1.8v1.8h-1.8zM179.6 269.6h1.8v1.8h-1.8zM180.6 241.6h1.8v1.8h-1.8zM180.6 243.6h1.8v1.8h-1.8zM180.6 251.6h1.8v1.8h-1.8zM180.6 254.6h1.8v1.8h-1.8zM180.6 255.6h1.8v1.8h-1.8zM180.6 258.6h1.8v1.8h-1.8zM180.6 259.6h1.8v1.8h-1.8zM180.6 263.6h1.8v1.8h-1.8zM180.6 266.6h1.8v1.8h-1.8zM180.6 270.6h1.8v1.8h-1.8zM180.6 271.6h1.8v1.8h-1.8zM180.6 273.6h1.8v1.8h-1.8zM181.6 237.6h1.8v1.8h-1.8zM181.6 241.6h1.8v1.8h-1.8zM181.6 243.6h1.8v1.8h-1.8zM181.6 246.6h1.8v1.8h-1.8zM181.6 250.6h1.8v1.8h-1.8zM181.6 255.6h1.8v1.8h-1.8zM181.6 257.6h1.8v1.8h-1.8zM181.6 259.6h1.8v1.8h-1.8zM181.6 260.6h1.8v1.8h-1.8zM181.6 262.6h1.8v1.8h-1.8zM181.6 265.6h1.8v1.8h-1.8zM181.6 266.6h1.8v1.8h-1.8zM181.6 268.6h1.8v1.8h-1.8zM181.6 271.6h1.8v1.8h-1.8zM181.6 275.6h1.8v1.8h-1.8zM182.6 243.6h1.8v1.8h-1.8zM182.6 244.6h1.8v1.8h-1.8zM182.6 250.6h1.8v1.8h-1.8zM182.6 257.6h1.8v1.8h-1.8zM182.6 263.6h1.8v1.8h-1.8zM182.6 265.6h1.8v1.8h-1.8zM183.6 238.6h1.8v1.8h-1.8zM183.6 240.6h1.8v1.8h-1.8zM183.6 243.6h1.8v1.8h-1.8zM183.6 246.6h1.8v1.8h-1.8zM183.6 248.6h1.8v1.8h-1.8zM183.6 251.6h1.8v1.8h-1.8zM183.6 252.6h1.8v1.8h-1.8zM183.6 254.6h1.8v1.8h-1.8zM183.6 259.6h1.8v1.8h-1.8zM183.6 262.6h1.8v1.8h-1.8zM183.6 266.6h1.8v1.8h-1.8zM183.6 267.6h1.8v1.8h-1.8zM183.6 270.6h1.8v1.8h-1.8zM184.6 242.6h1.8v1.8h-1.8zM184.6 247.6h1.8v1.8h-1.8zM184.6 250.6h1.8v1.8h-1.8zM184.6 253.6h1.8v1.8h-1.8zM184.6 255.6h1.8v1.8h-1.8zM184.6 256.6h1.8v1.8h-1.8zM184.6 258.6h1.8v1.8h-1.8zM184.6 260.6h1.8v1.8h-1.8zM184.6 261.6h1.8v1.8h-1.8zM184.6 267.6h1.8v1.8h-1.8zM184.6 269.6h1.8v1.8h-1.8zM185.6 246.6h1.8v1.8h-1.8zM185.6 247.6h1.8v1.8h-1.8zM185.6 257.6h1.8v1.8h-1.8zM185.6 266.6h1.8v1.8h-1.8zM186.6 239.6h1.8v1.8h-1.8zM186.6 247.6h1.8v1.8h-1.8zM186.6 248.6h1.8v1.8h-1.8zM186.6 270.6h1.8v1.8h-1.8zM187.6 243.6h1.8v1.8h-1.8z"/>
<path fill="#0050ff" d="M140.6 269.6h1.8v1.8h-1.8zM140.6 273.6h1.8v1.8h-1.8zM140.6 276.6h1.8v1.8h-1.8zM140.6 277.6h1.8v1.8h-1.8zM141.6 256.6h1.8v1.8h-1.8zM141.6 269.6h1.8v1.8h-1.8zM141.6 272.6h1.8v1.8h-1.8zM142.6 264.6h1.8v1.8h-1.8zM142.6 266.6h1.8v1.8h-1.8zM143.6 249.6h1.8v1.8h-1.8zM143.6 254.6h1.8v1.8h-1.8zM143.6 256.6h1.8v1.8h-1.8zM143.6 258.6h1.8v1.8h-1.8zM143.6 261.6h1.8v1.8h-1.8zM143.6 284.6h1.8v1.8h-1.8zM144.6 247.6h1.8v1.8h-1.8zM144.6 253.6h1.8v1.8h-1.8zM144.6 259.6h1.8v1.8h-1.8zM144.6 260.6h1.8v1.8h-1.8zM144.6 261.6h1.8v1.8h-1.8zM144.6 266.6h1.8v1.8h-1.8zM145.6 246.6h1.8v1.8h-1.8zM145.6 253.6h1.8v1.8h-1.8zM145.6 254.6h1.8v1.8h-1.8zM145.6 259.6h1.8v1.8h-1.8zM145.6 281.6h1.8v1.8h-1.8zM146.6 253.6h1.8v1.8h-1.8zM146.6 255.6h1.8v1.8h-1.8zM146.6 260.6h1.8v1.8h-1.8zM146.6 261.6h1.8v1.8h-1.8zM146.6 264.6h1.8v1.8h-1.8zM146.6 269.6h1.8v1.8h-1.8zM146.6 280.6h1.8v1.8h-1.8zM147.6 261.6h1.8v1.8h-1.8zM147.6 277.6h1.8v1.8h-1.8zM148.6 267.6h1.8v1.8h-1.8zM148.6 270.6h1.8v1.8h-1.8zM148.6 271.6h1.8v1.8h-1.8zM148.6 274.6h1.8v1.8h-1.8zM148.6 275.6h1.8v1.8h-1.8zM151.6 255.6h1.8v1.8h-1.8zM156.6 258.6h1.8v1.8h-1.8zM156.6 262.6h1.8v1.8h-1.8zM156.6 266.6h1.8v1.8h-1.8zM157.6 255.6h1.8v1.8h-1.8zM157.6 266.6h1.8v1.8h-1.8zM158.6 256.6h1.8v1.8h-1.8zM158.6 258.6h1.8v1.8h-1.8zM158.6 271.6h1.8v1.8h-1.8zM159.6 251.6h1.8v1.8h-1.8zM159.6 261.6h1.8v1.8h-1.8zM160.6 262.6h1.8v1.8h-1.8zM161.6 251.6h1.8v1.8h-1.8zM161.6 256.6h1.8v1.8h-1.8zM162.6 255.6h1.8v1.8h-1.8zM162.6 258.6h1.8v1.8h-1.8zM162.6 264.6h1.8v1.8h-1.8zM163.6 254.6h1.8v1.8h-1.8zM163.6 263.6h1.8v1.8h-1.8zM163.6 267.6h1.8v1.8h-1.8zM163.6 268.6h1.8v1.8h-1.8zM164.6 248.6h1.8v1.8h-1.8zM164.6 267.6h1.8v1.8h-1.8zM164.6 270.6h1.8v1.8h-1.8zM165.6 251.6h1.8v1.8h-1.8zM165.6 259.6h1.8v1.8h-1.8zM165.6 261.6h1.8v1.8h-1.8zM166.6 248.6h1.8v1.8h-1.8zM166.6 251.6h1.8v1.8h-1.8zM166.6 254.6h1.8v1.8h-1.8zM167.6 247.6h1.8v1.8h-1.8zM167.6 259.6h1.8v1.8h-1.8zM167.6 263.6h1.8v1.8h-1.8zM167.6 264.6h1.8v1.8h-1.8zM167.6 272.6h1.8v1.8h-1.8zM168.6 244.6h1.8v1.8h-1.8zM168.6 260.6h1.8v1.8h-1.8zM168.6 264.6h1.8v1.8h-1.8zM168.6 266.6h1.8v1.8h-1.8zM168.6 268.6h1.8v1.8h-1.8zM169.6 244.6h1.8v1.8h-1.8zM169.6 251.6h1.8v1.8h-1.8zM169.6 258.6h1.8v1.8h-1.8zM169.6 265.6h1.8v1.8h-1.8zM170.6 251.6h1.8v1.8h-1.8zM170.6 258.6h1.8v1.8h-1.8zM170.6 259.6h1.8v1.8h-1.8zM170.6 261.6h1.8v1.8h-1.8zM170.6 265.6h1.8v1.8h-1.8zM170.6 267.6h1.8v1.8h-1.8zM171.6 251.6h1.8v1.8h-1.8zM171.6 262.6h1.8v1.8h-1.8zM171.6 270.6h1.8v1.8h-1.8zM172.6 256.6h1.8v1.8h-1.8zM172.6 278.6h1.8v1.8h-1.8zM173.6 250.6h1.8v1.8h-1.8zM173.6 254.6h1.8v1.8h-1.8zM173.6 267.6h1.8v1.8h-1.8zM174.6 243.6h1.8v1.8h-1.8zM174.6 248.6h1.8v1.8h-1.8zM175.6 254.6h1.8v1.8h-1.8zM175.6 260.6h1.8v1.8h-1.8zM178.6 257.6h1.8v1.8h-1.8z"/>
<path fill="#00c8ff" d="M140.6 274.6h1.8v1.8h-1.8zM141.6 270.6h1.8v1.8h-1.8zM141.6 273.6h1.8v1.8h-1.8zM141.6 275.6h1.8v1.8h-1.8zM141.6 281.6h1.8v1.8h-1.8zM142.6 263.6h1.8v1.8h-1.8zM142.6 279.6h1.8v1.8h-1.8zM142.6 280.6h1.8v1.8h-1.8zM143.6 252.6h1.8v1.8h-1.8zM143.6 262.6h1.8v1.8h-1.8zM143.6 263.6h1.8v1.8h-1.8zM143.6 265.6h1.8v1.8h-1.8zM143.6 283.6h1.8v1.8h-1.8zM144.6 255.6h1.8v1.8h-1.8zM144.6 256.6h1.8v1.8h-1.8zM144.6 279.6h1.8v1.8h-1.8zM144.6 280.6h1.8v1.8h-1.8zM145.6 257.6h1.8v1.8h-1.8zM145.6 280.6h1.8v1.8h-1.8zM145.6 284.6h1.8v1.8h-1.8zM146.6 279.6h1.8v1.8h-1.8zM147.6 269.6h1.8v1.8h-1.8zM147.6 270.6h1.8v1.8h-1.8zM147.6 271.6h1.8v1.8h-1.8zM147.6 275.6h1.8v1.8h-1.8zM150.6 261.6h1.8v1.8h-1.8zM156.6 251.6h1.8v1.8h-1.8zM156.6 257.6h1.8v1.8h-1.8zM157.6 259.6h1.8v1.8h-1.8zM157.6 262.6h1.8v1.8h-1.8zM158.6 257.6h1.8v1.8h-1.8zM158.6 262.6h1.8v1.8h-1.8zM160.6 253.6h1.8v1.8h-1.8zM161.6 265.6h1.8v1.8h-1.8zM162.6 247.6h1.8v1.8h-1.8zM162.6 263.6h1.8v1.8h-1.8zM163.6 241.6h1.8v1.8h-1.8zM163.6 258.6h1.8v1.8h-1.8zM163.6 261.6h1.8v1.8h-1.8zM164.6 257.6h1.8v1.8h-1.8zM165.6 246.6h1.8v1.8h-1.8zM165.6 253.6h1.8v1.8h-1.8zM165.6 254.6h1.8v1.8h-1.8zM166.6 262.6h1.8v1.8h-1.8zM167.6 250.6h1.8v1.8h-1.8zM167.6 266.6h1.8v1.8h-1.8zM168.6 245.6h1.8v1.8h-1.8zM168.6 261.6h1.8v1.8h-1.8zM169.6 255.6h1.8v1.8h-1.8zM169.6 268.6h1.8v1.8h-1.8zM170.6 253.6h1.8v1.8h-1.8zM171.6 254.6h1.8v1.8h-1.8zM171.6 259.6h1.8v1.8h-1.8zM172.6 252.6h1.8v1.8h-1.8zM172.6 255.6h1.8v1.8h-1.8zM172.6 268.6h1.8v1.8h-1.8zM173.6 251.6h1.8v1.8h-1.8zM175.6 253.6h1.8v1.8h-1.8zM175.6 258.6h1.8v1.8h-1.8z"/>
<path fill="#00e070" d="M141.6 266.6h1.8v1.8h-1.8zM141.6 276.6h1.8v1.8h-1.8zM142.6 276.6h1.8v1.8h-1.8zM143.6 264.6h1.8v1.8h-1.8zM143.6 280.6h1.8v1.8h-1.8zM145.6 261.6h1.8v1.8h-1.8zM145.6 282.6h1.8v1.8h-1.8zM146.6 267.6h1.8v1.8h-1.8zM146.6 270.6h1.8v1.8h-1.8zM146.6 275.6h1.8v1.8h-1.8zM147.6 272.6h1.8v1.8h-1.8zM147.6 280.6h1.8v1.8h-1.8zM156.6 264.6h1.8v1.8h-1.8zM160.6 265.6h1.8v1.8h-1.8zM161.6 258.6h1.8v1.8h-1.8zM162.6 246.6h1.8v1.8h-1.8zM162.6 261.6h1.8v1.8h-1.8zM163.6 257.6h1.8v1.8h-1.8zM164.6 260.6h1.8v1.8h-1.8zM165.6 260.6h1.8v1.8h-1.8zM166.6 253.6h1.8v1.8h-1.8zM166.6 257.6h1.8v1.8h-1.8zM166.6 270.6h1.8v1.8h-1.8zM167.6 262.6h1.8v1.8h-1.8zM168.6 259.6h1.8v1.8h-1.8zM169.6 266.6h1.8v1.8h-1.8zM171.6 243.6h1.8v1.8h-1.8zM172.6 243.6h1.8v1.8h-1.8zM174.6 261.6h1.8v1.8h-1.8zM175.6 250.6h1.8v1.8h-1.8zM177.6 253.6h1.8v1.8h-1.8z"/>
<path fill="#30e000" d="M142.6 271.6h1.8v1.8h-1.8zM142.6 275.6h1.8v1.8h-1.8zM142.6 278.6h1.8v1.8h-1.8zM143.6 259.6h1.8v1.8h-1.8zM143.6 279.6h1.8v1.8h-1.8zM144.6 264.6h1.8v1.8h-1.8zM144.6 278.6h1.8v1.8h-1.8zM145.6 265.6h1.8v1.8h-1.8zM145.6 266.6h1.8v1.8h-1.8zM145.6 274.6h1.8v1.8h-1.8zM146.6 252.6h1.8v1.8h-1.8zM146.6 257.6h1.8v1.8h-1.8zM146.6 258.6h1.8v1.8h-1.8zM146.6 266.6h1.8v1.8h-1.8zM146.6 273.6h1.8v1.8h-1.8zM147.6 274.6h1.8v1.8h-1.8zM147.6 276.6h1.8v1.8h-1.8zM155.6 265.6h1.8v1.8h-1.8zM160.6 255.6h1.8v1.8h-1.8zM160.6 258.6h1.8v1.8h-1.8zM161.6 257.6h1.8v1.8h-1.8zM163.6 252.6h1.8v1.8h-1.8zM164.6 255.6h1.8v1.8h-1.8zM164.6 262.6h1.8v1.8h-1.8zM165.6 256.6h1.8v1.8h-1.8zM165.6 258.6h1.8v1.8h-1.8zM168.6 250.6h1.8v1.8h-1.8zM171.6 249.6h1.8v1.8h-1.8zM172.6 257.6h1.8v1.8h-1.8zM174.6 258.6h1.8v1.8h-1.8z"/>
<path fill="#b0f000" d="M141.6 271.6h1.8v1.8h-1.8zM142.6 267.6h1.8v1.8h-1.8zM142.6 268.6h1.8v1.8h-1.8zM142.6 269.6h1.8v1.8h-1.8zM143.6 266.6h1.8v1.8h-1.8zM143.6 268.6h1.8v1.8h-1.8zM143.6 278.6h1.8v1.8h-1.8zM144.6 258.6h1.8v1.8h-1.8zM144.6 265.6h1.8v1.8h-1.8zM145.6 267.6h1.8v1.8h-1.8zM145.6 268.6h1.8v1.8h-1.8zM145.6 277.6h1.8v1.8h-1.8zM145.6 279.6h1.8v1.8h-1.8zM146.6 271.6h1.8v1.8h-1.8zM146.6 277.6h1.8v1.8h-1.8zM146.6 278.6h1.8v1.8h-1.8zM160.6 254.6h1.8v1.8h-1.8zM169.6 253.6h1.8v1.8h-1.8zM169.6 256.6h1.8v1.8h-1.8z"/>
<path fill="#ffe000" d="M142.6 270.6h1.8v1.8h-1.8zM142.6 274.6h1.8v1.8h-1.8zM144.6 267.6h1.8v1.8h-1.8zM144.6 273.6h1.8v1.8h-1.8zM145.6 271.6h1.8v1.8h-1.8zM146.6 272.6h1.8v1.8h-1.8zM171.6 253.6h1.8v1.8h-1.8z"/>
<path fill="#ff9000" d="M142.6 272.6h1.8v1.8h-1.8zM142.6 277.6h1.8v1.8h-1.8zM143.6 277.6h1.8v1.8h-1.8zM144.6 276.6h1.8v1.8h-1.8zM145.6 276.6h1.8v1.8h-1.8zM145.6 278.6h1.8v1.8h-1.8zM146.6 274.6h1.8v1.8h-1.8z"/>
<path fill="#ff2a00" d="M142.6 273.6h1.8v1.8h-1.8zM143.6 269.6h1.8v1.8h-1.8zM143.6 270.6h1.8v1.8h-1.8zM143.6 271.6h1.8v1.8h-1.8zM143.6 272.6h1.8v1.8h-1.8zM143.6 273.6h1.8v1.8h-1.8zM143.6 274.6h1.8v1.8h-1.8zM143.6 275.6h1.8v1.8h-1.8zM143.6 276.6h1.8v1.8h-1.8zM144.6 268.6h1.8v1.8h-1.8zM144.6 269.6h1.8v1.8h-1.8zM144.6 270.6h1.8v1.8h-1.8zM144.6 271.6h1.8v1.8h-1.8zM144.6 272.6h1.8v1.8h-1.8zM144.6 274.6h1.8v1.8h-1.8zM144.6 275.6h1.8v1.8h-1.8zM144.6 277.6h1.8v1.8h-1.8zM145.6 269.6h1.8v1.8h-1.8zM145.6 270.6h1.8v1.8h-1.8zM145.6 272.6h1.8v1.8h-1.8zM145.6 273.6h1.8v1.8h-1.8zM145.6 275.6h1.8v1.8h-1.8zM146.6 276.6h1.8v1.8h-1.8z"/>
<path fill="#1010ff" d="M244.6 245.6h1.8v1.8h-1.8zM244.6 247.6h1.8v1.8h-1.8zM244.6 254.6h1.8v1.8h-1.8zM244.6 260.6h1.8v1.8h-1.8zM244.6 267.6h1.8v1.8h-1.8zM245.6 249.6h1.8v1.8h-1.8zM245.6 255.6h1.8v1.8h-1.8zM245.6 256.6h1.8v1.8h-1.8zM245.6 257.6h1.8v1.8h-1.8zM245.6 259.6h1.8v1.8h-1.8zM245.6 260.6h1.8v1.8h-1.8zM245.6 261.6h1.8v1.8h-1.8zM245.6 264.6h1.8v1.8h-1.8zM245.6 271.6h1.8v1.8h-1.8zM245.6 273.6h1.8v1.8h-1.8zM245.6 274.6h1.8v1.8h-1.8zM245.6 278.6h1.8v1.8h-1.8zM245.6 279.6h1.8v1.8h-1.8zM246.6 236.6h1.8v1.8h-1.8zM246.6 250.6h1.8v1.8h-1.8zM246.6 252.6h1.8v1.8h-1.8zM246.6 254.6h1.8v1.8h-1.8zM246.6 255.6h1.8v1.8h-1.8zM246.6 258.6h1.8v1.8h-1.8zM246.6 259.6h1.8v1.8h-1.8zM246.6 261.6h1.8v1.8h-1.8zM246.6 262.6h1.8v1.8h-1.8zM246.6 267.6h1.8v1.8h-1.8zM246.6 270.6h1.8v1.8h-1.8zM246.6 272.6h1.8v1.8h-1.8zM246.6 276.6h1.8v1.8h-1.8zM246.6 277.6h1.8v1.8h-1.8zM246.6 279.6h1.8v1.8h-1.8zM246.6 280.6h1.8v1.8h-1.8zM247.6 241.6h1.8v1.8h-1.8zM247.6 244.6h1.8v1.8h-1.8zM247.6 247.6h1.8v1.8h-1.8zM247.6 248.6h1.8v1.8h-1.8zM247.6 250.6h1.8v1.8h-1.8zM247.6 251.6h1.8v1.8h-1.8zM247.6 254.6h1.8v1.8h-1.8zM247.6 255.6h1.8v1.8h-1.8zM247.6 257.6h1.8v1.8h-1.8zM247.6 258.6h1.8v1.8h-1.8zM247.6 259.6h1.8v1.8h-1.8zM247.6 261.6h1.8v1.8h-1.8zM247.6 262.6h1.8v1.8h-1.8zM247.6 263.6h1.8v1.8h-1.8zM247.6 265.6h1.8v1.8h-1.8zM247.6 267.6h1.8v1.8h-1.8zM247.6 269.6h1.8v1.8h-1.8zM247.6 271.6h1.8v1.8h-1.8zM247.6 272.6h1.8v1.8h-1.8zM247.6 275.6h1.8v1.8h-1.8zM247.6 278.6h1.8v1.8h-1.8zM248.6 237.6h1.8v1.8h-1.8zM248.6 238.6h1.8v1.8h-1.8zM248.6 241.6h1.8v1.8h-1.8zM248.6 242.6h1.8v1.8h-1.8zM248.6 246.6h1.8v1.8h-1.8zM248.6 248.6h1.8v1.8h-1.8zM248.6 251.6h1.8v1.8h-1.8zM248.6 255.6h1.8v1.8h-1.8zM248.6 256.6h1.8v1.8h-1.8zM248.6 259.6h1.8v1.8h-1.8zM248.6 261.6h1.8v1.8h-1.8zM248.6 263.6h1.8v1.8h-1.8zM248.6 280.6h1.8v1.8h-1.8zM248.6 281.6h1.8v1.8h-1.8zM248.6 282.6h1.8v1.8h-1.8zM248.6 283.6h1.8v1.8h-1.8zM248.6 284.6h1.8v1.8h-1.8zM248.6 286.6h1.8v1.8h-1.8zM249.6 236.6h1.8v1.8h-1.8zM249.6 239.6h1.8v1.8h-1.8zM249.6 240.6h1.8v1.8h-1.8zM249.6 246.6h1.8v1.8h-1.8zM249.6 250.6h1.8v1.8h-1.8zM249.6 256.6h1.8v1.8h-1.8zM249.6 257.6h1.8v1.8h-1.8zM249.6 262.6h1.8v1.8h-1.8zM249.6 278.6h1.8v1.8h-1.8zM249.6 280.6h1.8v1.8h-1.8zM249.6 281.6h1.8v1.8h-1.8zM249.6 285.6h1.8v1.8h-1.8zM249.6 286.6h1.8v1.8h-1.8zM249.6 287.6h1.8v1.8h-1.8zM250.6 241.6h1.8v1.8h-1.8zM250.6 242.6h1.8v1.8h-1.8zM250.6 244.6h1.8v1.8h-1.8zM250.6 250.6h1.8v1.8h-1.8zM250.6 251.6h1.8v1.8h-1.8zM250.6 260.6h1.8v1.8h-1.8zM250.6 281.6h1.8v1.8h-1.8zM250.6 282.6h1.8v1.8h-1.8zM250.6 283.6h1.8v1.8h-1.8zM250.6 285.6h1.8v1.8h-1.8zM250.6 287.6h1.8v1.8h-1.8zM250.6 288.6h1.8v1.8h-1.8zM250.6 289.6h1.8v1.8h-1.8zM251.6 236.6h1.8v1.8h-1.8zM251.6 238.6h1.8v1.8h-1.8zM251.6 241.6h1.8v1.8h-1.8zM251.6 244.6h1.8v1.8h-1.8zM251.6 245.6h1.8v1.8h-1.8zM251.6 248.6h1.8v1.8h-1.8zM251.6 259.6h1.8v1.8h-1.8zM251.6 279.6h1.8v1.8h-1.8zM251.6 281.6h1.8v1.8h-1.8zM251.6 283.6h1.8v1.8h-1.8zM251.6 284.6h1.8v1.8h-1.8zM251.6 285.6h1.8v1.8h-1.8zM251.6 287.6h1.8v1.8h-1.8zM252.6 230.6h1.8v1.8h-1.8zM252.6 235.6h1.8v1.8h-1.8zM252.6 239.6h1.8v1.8h-1.8zM252.6 240.6h1.8v1.8h-1.8zM252.6 242.6h1.8v1.8h-1.8zM252.6 243.6h1.8v1.8h-1.8zM252.6 245.6h1.8v1.8h-1.8zM252.6 249.6h1.8v1.8h-1.8zM252.6 251.6h1.8v1.8h-1.8zM252.6 252.6h1.8v1.8h-1.8zM252.6 255.6h1.8v1.8h-1.8zM252.6 257.6h1.8v1.8h-1.8zM252.6 260.6h1.8v1.8h-1.8zM252.6 264.6h1.8v1.8h-1.8zM252.6 265.6h1.8v1.8h-1.8zM252.6 267.6h1.8v1.8h-1.8zM252.6 278.6h1.8v1.8h-1.8zM252.6 279.6h1.8v1.8h-1.8zM252.6 280.6h1.8v1.8h-1.8zM252.6 283.6h1.8v1.8h-1.8zM252.6 284.6h1.8v1.8h-1.8zM253.6 241.6h1.8v1.8h-1.8zM253.6 244.6h1.8v1.8h-1.8zM253.6 246.6h1.8v1.8h-1.8zM253.6 248.6h1.8v1.8h-1.8zM253.6 259.6h1.8v1.8h-1.8zM253.6 260.6h1.8v1.8h-1.8zM253.6 262.6h1.8v1.8h-1.8zM253.6 263.6h1.8v1.8h-1.8zM253.6 264.6h1.8v1.8h-1.8zM253.6 269.6h1.8v1.8h-1.8zM253.6 274.6h1.8v1.8h-1.8zM253.6 277.6h1.8v1.8h-1.8zM253.6 279.6h1.8v1.8h-1.8zM254.6 254.6h1.8v1.8h-1.8zM254.6 256.6h1.8v1.8h-1.8zM254.6 257.6h1.8v1.8h-1.8zM254.6 261.6h1.8v1.8h-1.8zM254.6 262.6h1.8v1.8h-1.8zM254.6 266.6h1.8v1.8h-1.8zM254.6 269.6h1.8v1.8h-1.8zM254.6 272.6h1.8v1.8h-1.8zM254.6 273.6h1.8v1.8h-1.8zM254.6 277.6h1.8v1.8h-1.8zM254.6 282.6h1.8v1.8h-1.8zM255.6 235.6h1.8v1.8h-1.8zM255.6 237.6h1.8v1.8h-1.8zM255.6 242.6h1.8v1.8h-1.8zM255.6 256.6h1.8v1.8h-1.8zM255.6 265.6h1.8v1.8h-1.8zM255.6 267.6h1.8v1.8h-1.8zM255.6 274.6h1.8v1.8h-1.8zM255.6 275.6h1.8v1.8h-1.8zM255.6 278.6h1.8v1.8h-1.8zM256.6 251.6h1.8v1.8h-1.8zM256.6 256.6h1.8v1.8h-1.8zM256.6 261.6h1.8v1.8h-1.8zM256.6 264.6h1.8v1.8h-1.8zM256.6 265.6h1.8v1.8h-1.8zM256.6 266.6h1.8v1.8h-1.8zM256.6 267.6h1.8v1.8h-1.8zM257.6 245.6h1.8v1.8h-1.8zM257.6 253.6h1.8v1.8h-1.8zM257.6 266.6h1.8v1.8h-1.8zM257.6 268.6h1.8v1.8h-1.8zM257.6 271.6h1.8v1.8h-1.8zM257.6 287.6h1.8v1.8h-1.8zM258.6 256.6h1.8v1.8h-1.8zM258.6 259.6h1.8v1.8h-1.8zM258.6 267.6h1.8v1.8h-1.8zM258.6 273.6h1.8v1.8h-1.8zM259.6 248.6h1.8v1.8h-1.8zM259.6 252.6h1.8v1.8h-1.8zM259.6 258.6h1.8v1.8h-1.8zM259.6 259.6h1.8v1.8h-1.8zM259.6 261.6h1.8v1.8h-1.8zM259.6 263.6h1.8v1.8h-1.8zM259.6 277.6h1.8v1.8h-1.8zM260.6 240.6h1.8v1.8h-1.8zM260.6 246.6h1.8v1.8h-1.8zM260.6 248.6h1.8v1.8h-1.8zM260.6 249.6h1.8v1.8h-1.8zM260.6 256.6h1.8v1.8h-1.8zM260.6 260.6h1.8v1.8h-1.8zM260.6 262.6h1.8v1.8h-1.8zM260.6 272.6h1.8v1.8h-1.8zM260.6 280.6h1.8v1.8h-1.8zM261.6 249.6h1.8v1.8h-1.8zM261.6 256.6h1.8v1.8h-1.8zM261.6 257.6h1.8v1.8h-1.8zM261.6 259.6h1.8v1.8h-1.8zM261.6 260.6h1.8v1.8h-1.8zM261.6 271.6h1.8v1.8h-1.8zM261.6 272.6h1.8v1.8h-1.8zM262.6 234.6h1.8v1.8h-1.8zM262.6 247.6h1.8v1.8h-1.8zM262.6 248.6h1.8v1.8h-1.8zM262.6 249.6h1.8v1.8h-1.8zM262.6 252.6h1.8v1.8h-1.8zM262.6 254.6h1.8v1.8h-1.8zM262.6 261.6h1.8v1.8h-1.8zM262.6 263.6h1.8v1.8h-1.8zM262.6 264.6h1.8v1.8h-1.8zM262.6 265.6h1.8v1.8h-1.8zM262.6 266.6h1.8v1.8h-1.8zM262.6 269.6h1.8v1.8h-1.8zM262.6 283.6h1.8v1.8h-1.8zM263.6 248.6h1.8v1.8h-1.8zM263.6 255.6h1.8v1.8h-1.8zM263.6 257.6h1.8v1.8h-1.8zM263.6 259.6h1.8v1.8h-1.8zM263.6 263.6h1.8v1.8h-1.8zM263.6 269.6h1.8v1.8h-1.8zM263.6 271.6h1.8v1.8h-1.8zM263.6 272.6h1.8v1.8h-1.8zM263.6 273.6h1.8v1.8h-1.8zM263.6 281.6h1.8v1.8h-1.8zM264.6 242.6h1.8v1.8h-1.8zM264.6 247.6h1.8v1.8h-1.8zM264.6 252.6h1.8v1.8h-1.8zM264.6 258.6h1.8v1.8h-1.8zM264.6 259.6h1.8v1.8h-1.8zM264.6 260.6h1.8v1.8h-1.8zM264.6 261.6h1.8v1.8h-1.8zM264.6 262.6h1.8v1.8h-1.8zM264.6 267.6h1.8v1.8h-1.8zM264.6 273.6h1.8v1.8h-1.8zM264.6 274.6h1.8v1.8h-1.8zM264.6 278.6h1.8v1.8h-1.8zM264.6 280.6h1.8v1.8h-1.8zM265.6 240.6h1.8v1.8h-1.8zM265.6 245.6h1.8v1.8h-1.8zM265.6 248.6h1.8v1.8h-1.8zM265.6 256.6h1.8v1.8h-1.8zM265.6 258.6h1.8v1.8h-1.8zM265.6 259.6h1.8v1.8h-1.8zM266.6 242.6h1.8v1.8h-1.8zM266.6 252.6h1.8v1.8h-1.8zM266.6 255.6h1.8v1.8h-1.8zM266.6 258.6h1.8v1.8h-1.8zM266.6 259.6h1.8v1.8h-1.8zM266.6 267.6h1.8v1.8h-1.8zM266.6 275.6h1.8v1.8h-1.8zM266.6 278.6h1.8v1.8h-1.8zM266.6 283.6h1.8v1.8h-1.8zM266.6 286.6h1.8v1.8h-1.8zM267.6 244.6h1.8v1.8h-1.8zM267.6 251.6h1.8v1.8h-1.8zM267.6 252.6h1.8v1.8h-1.8zM267.6 253.6h1.8v1.8h-1.8zM267.6 261.6h1.8v1.8h-1.8zM267.6 264.6h1.8v1.8h-1.8zM267.6 283.6h1.8v1.8h-1.8zM268.6 239.6h1.8v1.8h-1.8zM268.6 241.6h1.8v1.8h-1.8zM268.6 244.6h1.8v1.8h-1.8zM268.6 245.6h1.8v1.8h-1.8zM268.6 249.6h1.8v1.8h-1.8zM268.6 259.6h1.8v1.8h-1.8zM268.6 260.6h1.8v1.8h-1.8zM268.6 262.6h1.8v1.8h-1.8zM268.6 263.6h1.8v1.8h-1.8zM268.6 267.6h1.8v1.8h-1.8zM268.6 282.6h1.8v1.8h-1.8zM268.6 283.6h1.8v1.8h-1.8zM269.6 248.6h1.8v1.8h-1.8zM269.6 249.6h1.8v1.8h-1.8zM269.6 251.6h1.8v1.8h-1.8zM269.6 255.6h1.8v1.8h-1.8zM269.6 256.6h1.8v1.8h-1.8zM269.6 258.6h1.8v1.8h-1.8zM269.6 259.6h1.8v1.8h-1.8zM269.6 260.6h1.8v1.8h-1.8zM269.6 262.6h1.8v1.8h-1.8zM269.6 263.6h1.8v1.8h-1.8zM269.6 264.6h1.8v1.8h-1.8zM269.6 270.6h1.8v1.8h-1.8zM269.6 271.6h1.8v1.8h-1.8zM269.6 274.6h1.8v1.8h-1.8zM269.6 275.6h1.8v1.8h-1.8zM269.6 276.6h1.8v1.8h-1.8zM269.6 281.6h1.8v1.8h-1.8zM269.6 285.6h1.8v1.8h-1.8zM270.6 247.6h1.8v1.8h-1.8zM270.6 250.6h1.8v1.8h-1.8zM270.6 251.6h1.8v1.8h-1.8zM270.6 254.6h1.8v1.8h-1.8zM270.6 256.6h1.8v1.8h-1.8zM270.6 259.6h1.8v1.8h-1.8zM270.6 262.6h1.8v1.8h-1.8zM270.6 263.6h1.8v1.8h-1.8zM270.6 264.6h1.8v1.8h-1.8zM270.6 265.6h1.8v1.8h-1.8zM270.6 266.6h1.8v1.8h-1.8zM270.6 281.6h1.8v1.8h-1.8zM271.6 238.6h1.8v1.8h-1.8zM271.6 242.6h1.8v1.8h-1.8zM271.6 244.6h1.8v1.8h-1.8zM271.6 247.6h1.8v1.8h-1.8zM271.6 253.6h1.8v1.8h-1.8zM271.6 255.6h1.8v1.8h-1.8zM271.6 258.6h1.8v1.8h-1.8zM271.6 261.6h1.8v1.8h-1.8zM271.6 266.6h1.8v1.8h-1.8zM271.6 267.6h1.8v1.8h-1.8zM271.6 275.6h1.8v1.8h-1.8zM272.6 238.6h1.8v1.8h-1.8zM272.6 242.6h1.8v1.8h-1.8zM272.6 247.6h1.8v1.8h-1.8zM272.6 252.6h1.8v1.8h-1.8zM272.6 253.6h1.8v1.8h-1.8zM272.6 255.6h1.8v1.8h-1.8zM272.6 258.6h1.8v1.8h-1.8zM272.6 261.6h1.8v1.8h-1.8zM272.6 269.6h1.8v1.8h-1.8zM272.6 271.6h1.8v1.8h-1.8zM272.6 274.6h1.8v1.8h-1.8zM272.6 275.6h1.8v1.8h-1.8zM272.6 277.6h1.8v1.8h-1.8zM272.6 281.6h1.8v1.8h-1.8zM273.6 247.6h1.8v1.8h-1.8zM273.6 250.6h1.8v1.8h-1.8zM273.6 251.6h1.8v1.8h-1.8zM273.6 254.6h1.8v1.8h-1.8zM273.6 256.6h1.8v1.8h-1.8zM273.6 258.6h1.8v1.8h-1.8zM273.6 260.6h1.8v1.8h-1.8zM273.6 261.6h1.8v1.8h-1.8zM273.6 265.6h1.8v1.8h-1.8zM273.6 269.6h1.8v1.8h-1.8zM273.6 276.6h1.8v1.8h-1.8zM273.6 278.6h1.8v1.8h-1.8zM273.6 282.6h1.8v1.8h-1.8zM274.6 241.6h1.8v1.8h-1.8zM274.6 246.6h1.8v1.8h-1.8zM274.6 247.6h1.8v1.8h-1.8zM274.6 250.6h1.8v1.8h-1.8zM274.6 251.6h1.8v1.8h-1.8zM274.6 253.6h1.8v1.8h-1.8zM274.6 255.6h1.8v1.8h-1.8zM274.6 256.6h1.8v1.8h-1.8zM274.6 257.6h1.8v1.8h-1.8zM274.6 259.6h1.8v1.8h-1.8zM274.6 260.6h1.8v1.8h-1.8zM274.6 263.6h1.8v1.8h-1.8zM274.6 264.6h1.8v1.8h-1.8zM274.6 267.6h1.8v1.8h-1.8zM274.6 270.6h1.8v1.8h-1.8zM274.6 273.6h1.8v1.8h-1.8zM274.6 290.6h1.8v1.8h-1.8zM275.6 248.6h1.8v1.8h-1.8zM275.6 250.6h1.8v1.8h-1.8zM275.6 253.6h1.8v1.8h-1.8zM275.6 255.6h1.8v1.8h-1.8zM275.6 260.6h1.8v1.8h-1.8zM275.6 261.6h1.8v1.8h-1.8zM275.6 263.6h1.8v1.8h-1.8zM275.6 267.6h1.8v1.8h-1.8zM275.6 268.6h1.8v1.8h-1.8zM275.6 269.6h1.8v1.8h-1.8zM275.6 272.6h1.8v1.8h-1.8zM275.6 277.6h1.8v1.8h-1.8zM275.6 278.6h1.8v1.8h-1.8zM275.6 280.6h1.8v1.8h-1.8zM276.6 247.6h1.8v1.8h-1.8zM276.6 252.6h1.8v1.8h-1.8zM276.6 253.6h1.8v1.8h-1.8zM276.6 254.6h1.8v1.8h-1.8zM276.6 255.6h1.8v1.8h-1.8zM276.6 256.6h1.8v1.8h-1.8zM276.6 259.6h1.8v1.8h-1.8zM276.6 260.6h1.8v1.8h-1.8zM276.6 261.6h1.8v1.8h-1.8zM276.6 262.6h1.8v1.8h-1.8zM276.6 264.6h1.8v1.8h-1.8zM276.6 266.6h1.8v1.8h-1.8zM276.6 268.6h1.8v1.8h-1.8zM276.6 271.6h1.8v1.8h-1.8zM276.6 275.6h1.8v1.8h-1.8zM276.6 277.6h1.8v1.8h-1.8zM276.6 280.6h1.8v1.8h-1.8zM277.6 245.6h1.8v1.8h-1.8zM277.6 251.6h1.8v1.8h-1.8zM277.6 252.6h1.8v1.8h-1.8zM277.6 256.6h1.8v1.8h-1.8zM277.6 258.6h1.8v1.8h-1.8zM277.6 260.6h1.8v1.8h-1.8zM277.6 264.6h1.8v1.8h-1.8zM277.6 265.6h1.8v1.8h-1.8zM277.6 267.6h1.8v1.8h-1.8zM277.6 269.6h1.8v1.8h-1.8zM277.6 271.6h1.8v1.8h-1.8zM277.6 277.6h1.8v1.8h-1.8zM277.6 278.6h1.8v1.8h-1.8zM277.6 279.6h1.8v1.8h-1.8zM278.6 242.6h1.8v1.8h-1.8zM278.6 244.6h1.8v1.8h-1.8zM278.6 245.6h1.8v1.8h-1.8zM278.6 249.6h1.8v1.8h-1.8zM278.6 251.6h1.8v1.8h-1.8zM278.6 254.6h1.8v1.8h-1.8zM278.6 255.6h1.8v1.8h-1.8zM278.6 256.6h1.8v1.8h-1.8zM278.6 257.6h1.8v1.8h-1.8zM278.6 270.6h1.8v1.8h-1.8zM278.6 273.6h1.8v1.8h-1.8zM278.6 274.6h1.8v1.8h-1.8zM278.6 277.6h1.8v1.8h-1.8zM278.6 279.6h1.8v1.8h-1.8zM278.6 280.6h1.8v1.8h-1.8zM278.6 281.6h1.8v1.8h-1.8zM278.6 288.6h1.8v1.8h-1.8zM279.6 244.6h1.8v1.8h-1.8zM279.6 252.6h1.8v1.8h-1.8zM279.6 258.6h1.8v1.8h-1.8zM279.6 259.6h1.8v1.8h-1.8zM279.6 260.6h1.8v1.8h-1.8zM279.6 261.6h1.8v1.8h-1.8zM279.6 262.6h1.8v1.8h-1.8zM279.6 267.6h1.8v1.8h-1.8zM279.6 273.6h1.8v1.8h-1.8zM279.6 275.6h1.8v1.8h-1.8zM279.6 279.6h1.8v1.8h-1.8zM279.6 280.6h1.8v1.8h-1.8zM279.6 282.6h1.8v1.8h-1.8zM280.6 246.6h1.8v1.8h-1.8zM280.6 250.6h1.8v1.8h-1.8zM280.6 251.6h1.8v1.8h-1.8zM280.6 253.6h1.8v1.8h-1.8zM280.6 254.6h1.8v1.8h-1.8zM280.6 257.6h1.8v1.8h-1.8zM280.6 259.6h1.8v1.8h-1.8zM280.6 266.6h1.8v1.8h-1.8zM280.6 270.6h1.8v1.8h-1.8zM280.6 271.6h1.8v1.8h-1.8zM280.6 272.6h1.8v1.8h-1.8zM280.6 274.6h1.8v1.8h-1.8zM280.6 280.6h1.8v1.8h-1.8zM281.6 248.6h1.8v1.8h-1.8zM281.6 249.6h1.8v1.8h-1.8zM281.6 250.6h1.8v1.8h-1.8zM281.6 255.6h1.8v1.8h-1.8zM281.6 256.6h1.8v1.8h-1.8zM281.6 258.6h1.8v1.8h-1.8zM281.6 259.6h1.8v1.8h-1.8zM281.6 261.6h1.8v1.8h-1.8zM281.6 262.6h1.8v1.8h-1.8zM281.6 266.6h1.8v1.8h-1.8zM281.6 268.6h1.8v1.8h-1.8zM281.6 271.6h1.8v1.8h-1.8zM281.6 272.6h1.8v1.8h-1.8zM281.6 279.6h1.8v1.8h-1.8zM281.6 281.6h1.8v1.8h-1.8zM281.6 282.6h1.8v1.8h-1.8zM282.6 245.6h1.8v1.8h-1.8zM282.6 246.6h1.8v1.8h-1.8zM282.6 247.6h1.8v1.8h-1.8zM282.6 254.6h1.8v1.8h-1.8zM282.6 255.6h1.8v1.8h-1.8zM282.6 259.6h1.8v1.8h-1.8zM282.6 261.6h1.8v1.8h-1.8zM282.6 263.6h1.8v1.8h-1.8zM282.6 265.6h1.8v1.8h-1.8zM282.6 268.6h1.8v1.8h-1.8zM282.6 274.6h1.8v1.8h-1.8zM282.6 278.6h1.8v1.8h-1.8zM282.6 281.6h1.8v1.8h-1.8zM283.6 251.6h1.8v1.8h-1.8zM283.6 252.6h1.8v1.8h-1.8zM283.6 254.6h1.8v1.8h-1.8zM283.6 255.6h1.8v1.8h-1.8zM283.6 261.6h1.8v1.8h-1.8zM283.6 264.6h1.8v1.8h-1.8zM283.6 265.6h1.8v1.8h-1.8zM283.6 269.6h1.8v1.8h-1.8zM283.6 273.6h1.8v1.8h-1.8zM283.6 274.6h1.8v1.8h-1.8zM283.6 275.6h1.8v1.8h-1.8zM283.6 294.6h1.8v1.8h-1.8zM284.6 250.6h1.8v1.8h-1.8zM284.6 253.6h1.8v1.8h-1.8zM284.6 256.6h1.8v1.8h-1.8zM284.6 258.6h1.8v1.8h-1.8zM284.6 263.6h1.8v1.8h-1.8zM284.6 265.6h1.8v1.8h-1.8zM284.6 266.6h1.8v1.8h-1.8zM284.6 280.6h1.8v1.8h-1.8zM285.6 241.6h1.8v1.8h-1.8zM285.6 243.6h1.8v1.8h-1.8zM285.6 246.6h1.8v1.8h-1.8zM285.6 249.6h1.8v1.8h-1.8zM285.6 257.6h1.8v1.8h-1.8zM285.6 265.6h1.8v1.8h-1.8zM285.6 272.6h1.8v1.8h-1.8zM285.6 273.6h1.8v1.8h-1.8zM285.6 274.6h1.8v1.8h-1.8zM285.6 278.6h1.8v1.8h-1.8zM286.6 240.6h1.8v1.8h-1.8zM286.6 246.6h1.8v1.8h-1.8zM286.6 247.6h1.8v1.8h-1.8zM286.6 248.6h1.8v1.8h-1.8zM286.6 262.6h1.8v1.8h-1.8zM286.6 265.6h1.8v1.8h-1.8zM286.6 268.6h1.8v1.8h-1.8zM286.6 269.6h1.8v1.8h-1.8zM286.6 273.6h1.8v1.8h-1.8zM286.6 274.6h1.8v1.8h-1.8zM286.6 275.6h1.8v1.8h-1.8zM286.6 277.6h1.8v1.8h-1.8zM287.6 249.6h1.8v1.8h-1.8zM287.6 252.6h1.8v1.8h-1.8zM287.6 255.6h1.8v1.8h-1.8zM287.6 259.6h1.8v1.8h-1.8zM287.6 261.6h1.8v1.8h-1.8zM287.6 264.6h1.8v1.8h-1.8zM287.6 265.6h1.8v1.8h-1.8zM287.6 274.6h1.8v1.8h-1.8zM287.6 278.6h1.8v1.8h-1.8zM287.6 291.6h1.8v1.8h-1.8zM288.6 247.6h1.8v1.8h-1.8zM288.6 249.6h1.8v1.8h-1.8zM288.6 253.6h1.8v1.8h-1.8zM288.6 254.6h1.8v1.8h-1.8zM288.6 264.6h1.8v1.8h-1.8zM288.6 267.6h1.8v1.8h-1.8zM288.6 268.6h1.8v1.8h-1.8zM288.6 269.6h1.8v1.8h-1.8zM288.6 272.6h1.8v1.8h-1.8zM288.6 275.6h1.8v1.8h-1.8zM288.6 279.6h1.8v1.8h-1.8zM289.6 248.6h1.8v1.8h-1.8zM289.6 261.6h1.8v1.8h-1.8zM289.6 264.6h1.8v1.8h-1.8zM289.6 266.6h1.8v1.8h-1.8zM289.6 267.6h1.8v1.8h-1.8zM289.6 270.6h1.8v1.8h-1.8zM289.6 271.6h1.8v1.8h-1.8zM290.6 241.6h1.8v1.8h-1.8zM290.6 256.6h1.8v1.8h-1.8zM290.6 258.6h1.8v1.8h-1.8zM290.6 261.6h1.8v1.8h-1.8zM290.6 265.6h1.8v1.8h-1.8zM290.6 270.6h1.8v1.8h-1.8zM290.6 274.6h1.8v1.8h-1.8zM290.6 275.6h1.8v1.8h-1.8zM290.6 276.6h1.8v1.8h-1.8zM291.6 241.6h1.8v1.8h-1.8zM291.6 253.6h1.8v1.8h-1.8zM291.6 265.6h1.8v1.8h-1.8zM291.6 268.6h1.8v1.8h-1.8zM291.6 269.6h1.8v1.8h-1.8zM291.6 278.6h1.8v1.8h-1.8zM292.6 247.6h1.8v1.8h-1.8zM292.6 252.6h1.8v1.8h-1.8zM292.6 262.6h1.8v1.8h-1.8zM292.6 263.6h1.8v1.8h-1.8zM292.6 264.6h1.8v1.8h-1.8zM292.6 267.6h1.8v1.8h-1.8zM292.6 269.6h1.8v1.8h-1.8zM292.6 272.6h1.8v1.8h-1.8zM292.6 278.6h1.8v1.8h-1.8zM293.6 246.6h1.8v1.8h-1.8zM293.6 248.6h1.8v1.8h-1.8zM293.6 249.6h1.8v1.8h-1.8zM293.6 255.6h1.8v1.8h-1.8zM293.6 260.6h1.8v1.8h-1.8zM293.6 264.6h1.8v1.8h-1.8zM293.6 267.6h1.8v1.8h-1.8zM293.6 278.6h1.8v1.8h-1.8zM294.6 258.6h1.8v1.8h-1.8zM294.6 272.6h1.8v1.8h-1.8zM294.6 274.6h1.8v1.8h-1.8zM294.6 283.6h1.8v1.8h-1.8zM295.6 242.6h1.8v1.8h-1.8zM295.6 246.6h1.8v1.8h-1.8zM295.6 254.6h1.8v1.8h-1.8zM295.6 257.6h1.8v1.8h-1.8zM295.6 267.6h1.8v1.8h-1.8zM296.6 259.6h1.8v1.8h-1.8zM296.6 265.6h1.8v1.8h-1.8zM296.6 269.6h1.8v1.8h-1.8zM296.6 271.6h1.8v1.8h-1.8z"/>
<path fill="#0050ff" d="M246.6 251.6h1.8v1.8h-1.8zM246.6 256.6h1.8v1.8h-1.8zM247.6 260.6h1.8v1.8h-1.8zM247.6 264.6h1.8v1.8h-1.8zM247.6 274.6h1.8v1.8h-1.8zM248.6 240.6h1.8v1.8h-1.8zM248.6 250.6h1.8v1.8h-1.8zM248.6 252.6h1.8v1.8h-1.8zM248.6 258.6h1.8v1.8h-1.8zM248.6 262.6h1.8v1.8h-1.8zM248.6 264.6h1.8v1.8h-1.8zM248.6 265.6h1.8v1.8h-1.8zM248.6 271.6h1.8v1.8h-1.8zM248.6 277.6h1.8v1.8h-1.8zM249.6 249.6h1.8v1.8h-1.8zM249.6 254.6h1.8v1.8h-1.8zM250.6 247.6h1.8v1.8h-1.8zM250.6 254.6h1.8v1.8h-1.8zM250.6 258.6h1.8v1.8h-1.8zM250.6 259.6h1.8v1.8h-1.8zM250.6 263.6h1.8v1.8h-1.8zM250.6 266.6h1.8v1.8h-1.8zM250.6 279.6h1.8v1.8h-1.8zM251.6 246.6h1.8v1.8h-1.8zM251.6 247.6h1.8v1.8h-1.8zM251.6 250.6h1.8v1.8h-1.8zM251.6 255.6h1.8v1.8h-1.8zM251.6 261.6h1.8v1.8h-1.8zM251.6 262.6h1.8v1.8h-1.8zM251.6 264.6h1.8v1.8h-1.8zM252.6 246.6h1.8v1.8h-1.8zM252.6 256.6h1.8v1.8h-1.8zM252.6 258.6h1.8v1.8h-1.8zM252.6 259.6h1.8v1.8h-1.8zM252.6 261.6h1.8v1.8h-1.8zM252.6 262.6h1.8v1.8h-1.8zM252.6 263.6h1.8v1.8h-1.8zM252.6 282.6h1.8v1.8h-1.8zM253.6 247.6h1.8v1.8h-1.8zM253.6 258.6h1.8v1.8h-1.8zM253.6 261.6h1.8v1.8h-1.8zM253.6 268.6h1.8v1.8h-1.8zM253.6 271.6h1.8v1.8h-1.8zM253.6 275.6h1.8v1.8h-1.8zM254.6 264.6h1.8v1.8h-1.8zM260.6 261.6h1.8v1.8h-1.8zM260.6 277.6h1.8v1.8h-1.8zM261.6 267.6h1.8v1.8h-1.8zM261.6 270.6h1.8v1.8h-1.8zM262.6 262.6h1.8v1.8h-1.8zM262.6 268.6h1.8v1.8h-1.8zM262.6 272.6h1.8v1.8h-1.8zM262.6 273.6h1.8v1.8h-1.8zM263.6 275.6h1.8v1.8h-1.8zM264.6 268.6h1.8v1.8h-1.8zM265.6 266.6h1.8v1.8h-1.8zM267.6 259.6h1.8v1.8h-1.8zM267.6 263.6h1.8v1.8h-1.8zM267.6 267.6h1.8v1.8h-1.8zM267.6 278.6h1.8v1.8h-1.8zM268.6 261.6h1.8v1.8h-1.8zM268.6 271.6h1.8v1.8h-1.8zM270.6 261.6h1.8v1.8h-1.8zM270.6 267.6h1.8v1.8h-1.8zM270.6 268.6h1.8v1.8h-1.8zM270.6 269.6h1.8v1.8h-1.8zM271.6 263.6h1.8v1.8h-1.8zM272.6 265.6h1.8v1.8h-1.8zM272.6 272.6h1.8v1.8h-1.8zM272.6 273.6h1.8v1.8h-1.8zM273.6 267.6h1.8v1.8h-1.8zM273.6 271.6h1.8v1.8h-1.8zM274.6 276.6h1.8v1.8h-1.8zM276.6 269.6h1.8v1.8h-1.8zM277.6 276.6h1.8v1.8h-1.8zM278.6 261.6h1.8v1.8h-1.8zM278.6 263.6h1.8v1.8h-1.8zM278.6 264.6h1.8v1.8h-1.8zM278.6 267.6h1.8v1.8h-1.8zM279.6 268.6h1.8v1.8h-1.8zM279.6 269.6h1.8v1.8h-1.8zM280.6 267.6h1.8v1.8h-1.8z"/>
<path fill="#00c8ff" d="M247.6 253.6h1.8v1.8h-1.8zM248.6 254.6h1.8v1.8h-1.8zM248.6 267.6h1.8v1.8h-1.8zM248.6 269.6h1.8v1.8h-1.8zM248.6 276.6h1.8v1.8h-1.8zM248.6 278.6h1.8v1.8h-1.8zM249.6 241.6h1.8v1.8h-1.8zM249.6 252.6h1.8v1.8h-1.8zM249.6 263.6h1.8v1.8h-1.8zM249.6 279.6h1.8v1.8h-1.8zM250.6 246.6h1.8v1.8h-1.8zM250.6 249.6h1.8v1.8h-1.8zM250.6 256.6h1.8v1.8h-1.8zM250.6 262.6h1.8v1.8h-1.8zM250.6 265.6h1.8v1.8h-1.8zM251.6 252.6h1.8v1.8h-1.8zM251.6 254.6h1.8v1.8h-1.8zM251.6 256.6h1.8v1.8h-1.8zM251.6 258.6h1.8v1.8h-1.8zM251.6 266.6h1.8v1.8h-1.8zM251.6 277.6h1.8v1.8h-1.8zM251.6 280.6h1.8v1.8h-1.8zM252.6 254.6h1.8v1.8h-1.8zM252.6 266.6h1.8v1.8h-1.8zM253.6 252.6h1.8v1.8h-1.8zM253.6 266.6h1.8v1.8h-1.8zM253.6 272.6h1.8v1.8h-1.8zM253.6 273.6h1.8v1.8h-1.8zM254.6 252.6h1.8v1.8h-1.8zM264.6 269.6h1.8v1.8h-1.8zM266.6 265.6h1.8v1.8h-1.8zM268.6 270.6h1.8v1.8h-1.8zM268.6 273.6h1.8v1.8h-1.8zM268.6 274.6h1.8v1.8h-1.8zM272.6 270.6h1.8v1.8h-1.8zM274.6 271.6h1.8v1.8h-1.8z"/>
<path fill="#00e070" d="M247.6 276.6h1.8v1.8h-1.8zM248.6 268.6h1.8v1.8h-1.8zM249.6 251.6h1.8v1.8h-1.8zM249.6 258.6h1.8v1.8h-1.8zM249.6 260.6h1.8v1.8h-1.8zM249.6 264.6h1.8v1.8h-1.8zM249.6 265.6h1.8v1.8h-1.8zM250.6 248.6h1.8v1.8h-1.8zM250.6 253.6h1.8v1.8h-1.8zM250.6 255.6h1.8v1.8h-1.8zM251.6 249.6h1.8v1.8h-1.8zM251.6 251.6h1.8v1.8h-1.8zM251.6 263.6h1.8v1.8h-1.8zM251.6 269.6h1.8v1.8h-1.8zM252.6 268.6h1.8v1.8h-1.8zM252.6 275.6h1.8v1.8h-1.8zM252.6 276.6h1.8v1.8h-1.8zM253.6 257.6h1.8v1.8h-1.8zM266.6 266.6h1.8v1.8h-1.8zM266.6 268.6h1.8v1.8h-1.8zM267.6 268.6h1.8v1.8h-1.8zM271.6 272.6h1.8v1.8h-1.8zM274.6 277.6h1.8v1.8h-1.8zM279.6 264.6h1.8v1.8h-1.8z"/>
<path fill="#30e000" d="M248.6 253.6h1.8v1.8h-1.8zM248.6 257.6h1.8v1.8h-1.8zM248.6 270.6h1.8v1.8h-1.8zM248.6 272.6h1.8v1.8h-1.8zM248.6 274.6h1.8v1.8h-1.8zM249.6 248.6h1.8v1.8h-1.8zM249.6 253.6h1.8v1.8h-1.8zM249.6 255.6h1.8v1.8h-1.8zM249.6 259.6h1.8v1.8h-1.8zM249.6 266.6h1.8v1.8h-1.8zM249.6 269.6h1.8v1.8h-1.8zM249.6 273.6h1.8v1.8h-1.8zM249.6 276.6h1.8v1.8h-1.8zM250.6 245.6h1.8v1.8h-1.8zM250.6 261.6h1.8v1.8h-1.8zM250.6 264.6h1.8v1.8h-1.8zM250.6 277.6h1.8v1.8h-1.8zM251.6 257.6h1.8v1.8h-1.8zM251.6 276.6h1.8v1.8h-1.8zM251.6 278.6h1.8v1.8h-1.8zM252.6 269.6h1.8v1.8h-1.8zM252.6 270.6h1.8v1.8h-1.8zM252.6 271.6h1.8v1.8h-1.8zM252.6 273.6h1.8v1.8h-1.8zM252.6 274.6h1.8v1.8h-1.8zM253.6 254.6h1.8v1.8h-1.8zM269.6 266.6h1.8v1.8h-1.8z"/>
<path fill="#b0f000" d="M249.6 268.6h1.8v1.8h-1.8zM249.6 274.6h1.8v1.8h-1.8zM250.6 275.6h1.8v1.8h-1.8zM250.6 276.6h1.8v1.8h-1.8zM250.6 278.6h1.8v1.8h-1.8zM251.6 253.6h1.8v1.8h-1.8zM251.6 267.6h1.8v1.8h-1.8zM251.6 268.6h1.8v1.8h-1.8zM251.6 273.6h1.8v1.8h-1.8zM252.6 272.6h1.8v1.8h-1.8zM252.6 277.6h1.8v1.8h-1.8z"/>
<path fill="#ffe000" d="M249.6 267.6h1.8v1.8h-1.8zM249.6 277.6h1.8v1.8h-1.8zM250.6 267.6h1.8v1.8h-1.8zM251.6 270.6h1.8v1.8h-1.8zM251.6 271.6h1.8v1.8h-1.8zM251.6 275.6h1.8v1.8h-1.8z"/>
<path fill="#ff9000" d="M250.6 268.6h1.8v1.8h-1.8zM250.6 269.6h1.8v1.8h-1.8zM251.6 274.6h1.8v1.8h-1.8z"/>
<path fill="#ff2a00" d="M248.6 273.6h1.8v1.8h-1.8zM249.6 270.6h1.8v1.8h-1.8zM249.6 271.6h1.8v1.8h-1.8zM249.6 272.6h1.8v1.8h-1.8zM249.6 275.6h1.8v1.8h-1.8zM250.6 270.6h1.8v1.8h-1.8zM250.6 271.6h1.8v1.8h-1.8zM250.6 272.6h1.8v1.8h-1.8zM250.6 273.6h1.8v1.8h-1.8zM250.6 274.6h1.8v1.8h-1.8zM251.6 272.6h1.8v1.8h-1.8z"/>
<path fill="#1010ff" d="M349.6 255.6h1.8v1.8h-1.8zM352.6 254.6h1.8v1.8h-1.8zM352.6 255.6h1.8v1.8h-1.8zM352.6 263.6h1.8v1.8h-1.8zM352.6 265.6h1.8v1.8h-1.8zM352.6 274.6h1.8v1.8h-1.8zM353.6 235.6h1.8v1.8h-1.8zM353.6 240.6h1.8v1.8h-1.8zM353.6 245.6h1.8v1.8h-1.8zM353.6 252.6h1.8v1.8h-1.8zM353.6 253.6h1.8v1.8h-1.8zM353.6 255.6h1.8v1.8h-1.8zM353.6 256.6h1.8v1.8h-1.8zM353.6 259.6h1.8v1.8h-1.8zM353.6 263.6h1.8v1.8h-1.8zM353.6 268.6h1.8v1.8h-1.8zM353.6 278.6h1.8v1.8h-1.8zM354.6 245.6h1.8v1.8h-1.8zM354.6 246.6h1.8v1.8h-1.8zM354.6 247.6h1.8v1.8h-1.8zM354.6 248.6h1.8v1.8h-1.8zM354.6 249.6h1.8v1.8h-1.8zM354.6 252.6h1.8v1.8h-1.8zM354.6 253.6h1.8v1.8h-1.8zM354.6 256.6h1.8v1.8h-1.8zM354.6 258.6h1.8v1.8h-1.8zM354.6 259.6h1.8v1.8h-1.8zM354.6 261.6h1.8v1.8h-1.8zM354.6 262.6h1.8v1.8h-1.8zM354.6 265.6h1.8v1.8h-1.8zM354.6 268.6h1.8v1.8h-1.8zM354.6 273.6h1.8v1.8h-1.8zM354.6 281.6h1.8v1.8h-1.8zM354.6 282.6h1.8v1.8h-1.8zM355.6 233.6h1.8v1.8h-1.8zM355.6 238.6h1.8v1.8h-1.8zM355.6 240.6h1.8v1.8h-1.8zM355.6 244.6h1.8v1.8h-1.8zM355.6 246.6h1.8v1.8h-1.8zM355.6 249.6h1.8v1.8h-1.8zM355.6 250.6h1.8v1.8h-1.8zM355.6 253.6h1.8v1.8h-1.8zM355.6 255.6h1.8v1.8h-1.8zM355.6 259.6h1.8v1.8h-1.8zM355.6 261.6h1.8v1.8h-1.8zM355.6 262.6h1.8v1.8h-1.8zM355.6 263.6h1.8v1.8h-1.8zM355.6 265.6h1.8v1.8h-1.8zM355.6 276.6h1.8v1.8h-1.8zM355.6 277.6h1.8v1.8h-1.8zM355.6 280.6h1.8v1.8h-1.8zM355.6 281.6h1.8v1.8h-1.8zM355.6 282.6h1.8v1.8h-1.8zM355.6 285.6h1.8v1.8h-1.8zM356.6 236.6h1.8v1.8h-1.8zM356.6 241.6h1.8v1.8h-1.8zM356.6 242.6h1.8v1.8h-1.8zM356.6 245.6h1.8v1.8h-1.8zM356.6 250.6h1.8v1.8h-1.8zM356.6 262.6h1.8v1.8h-1.8zM356.6 278.6h1.8v1.8h-1.8zM356.6 279.6h1.8v1.8h-1.8zM356.6 280.6h1.8v1.8h-1.8zM356.6 282.6h1.8v1.8h-1.8zM356.6 284.6h1.8v1.8h-1.8zM356.6 285.6h1.8v1.8h-1.8zM357.6 233.6h1.8v1.8h-1.8zM357.6 239.6h1.8v1.8h-1.8zM357.6 242.6h1.8v1.8h-1.8zM357.6 280.6h1.8v1.8h-1.8zM357.6 281.6h1.8v1.8h-1.8zM357.6 284.6h1.8v1.8h-1.8zM358.6 228.6h1.8v1.8h-1.8zM358.6 232.6h1.8v1.8h-1.8zM358.6 234.6h1.8v1.8h-1.8zM358.6 236.6h1.8v1.8h-1.8zM358.6 239.6h1.8v1.8h-1.8zM358.6 243.6h1.8v1.8h-1.8zM358.6 250.6h1.8v1.8h-1.8zM358.6 264.6h1.8v1.8h-1.8zM358.6 282.6h1.8v1.8h-1.8zM358.6 283.6h1.8v1.8h-1.8zM358.6 285.6h1.8v1.8h-1.8zM358.6 287.6h1.8v1.8h-1.8zM359.6 244.6h1.8v1.8h-1.8zM359.6 245.6h1.8v1.8h-1.8zM359.6 247.6h1.8v1.8h-1.8zM359.6 262.6h1.8v1.8h-1.8zM359.6 282.6h1.8v1.8h-1.8zM359.6 283.6h1.8v1.8h-1.8zM359.6 284.6h1.8v1.8h-1.8zM360.6 241.6h1.8v1.8h-1.8zM360.6 242.6h1.8v1.8h-1.8zM360.6 245.6h1.8v1.8h-1.8zM360.6 248.6h1.8v1.8h-1.8zM360.6 251.6h1.8v1.8h-1.8zM360.6 253.6h1.8v1.8h-1.8zM360.6 262.6h1.8v1.8h-1.8zM360.6 265.6h1.8v1.8h-1.8zM360.6 268.6h1.8v1.8h-1.8zM360.6 277.6h1.8v1.8h-1.8zM361.6 249.6h1.8v1.8h-1.8zM361.6 250.6h1.8v1.8h-1.8zM361.6 251.6h1.8v1.8h-1.8zM361.6 253.6h1.8v1.8h-1.8zM361.6 254.6h1.8v1.8h-1.8zM361.6 257.6h1.8v1.8h-1.8zM361.6 259.6h1.8v1.8h-1.8zM361.6 261.6h1.8v1.8h-1.8zM361.6 262.6h1.8v1.8h-1.8zM361.6 266.6h1.8v1.8h-1.8zM361.6 267.6h1.8v1.8h-1.8zM361.6 269.6h1.8v1.8h-1.8zM361.6 270.6h1.8v1.8h-1.8zM361.6 272.6h1.8v1.8h-1.8zM361.6 273.6h1.8v1.8h-1.8zM361.6 275.6h1.8v1.8h-1.8zM362.6 235.6h1.8v1.8h-1.8zM362.6 247.6h1.8v1.8h-1.8zM362.6 249.6h1.8v1.8h-1.8zM362.6 250.6h1.8v1.8h-1.8zM362.6 252.6h1.8v1.8h-1.8zM362.6 254.6h1.8v1.8h-1.8zM362.6 257.6h1.8v1.8h-1.8zM362.6 260.6h1.8v1.8h-1.8zM362.6 261.6h1.8v1.8h-1.8zM362.6 272.6h1.8v1.8h-1.8zM363.6 246.6h1.8v1.8h-1.8zM363.6 262.6h1.8v1.8h-1.8zM363.6 267.6h1.8v1.8h-1.8zM364.6 251.6h1.8v1.8h-1.8zM364.6 260.6h1.8v1.8h-1.8zM365.6 239.6h1.8v1.8h-1.8zM365.6 242.6h1.8v1.8h-1.8zM365.6 250.6h1.8v1.8h-1.8zM366.6 256.6h1.8v1.8h-1.8zM366.6 262.6h1.8v1.8h-1.8zM366.6 265.6h1.8v1.8h-1.8zM367.6 247.6h1.8v1.8h-1.8zM367.6 251.6h1.8v1.8h-1.8zM367.6 254.6h1.8v1.8h-1.8zM367.6 255.6h1.8v1.8h-1.8zM367.6 259.6h1.8v1.8h-1.8zM367.6 263.6h1.8v1.8h-1.8zM368.6 237.6h1.8v1.8h-1.8zM368.6 243.6h1.8v1.8h-1.8zM368.6 245.6h1.8v1.8h-1.8zM368.6 246.6h1.8v1.8h-1.8zM368.6 248.6h1.8v1.8h-1.8zM368.6 249.6h1.8v1.8h-1.8zM368.6 250.6h1.8v1.8h-1.8zM368.6 252.6h1.8v1.8h-1.8zM368.6 256.6h1.8v1.8h-1.8zM368.6 257.6h1.8v1.8h-1.8zM368.6 258.6h1.8v1.8h-1.8zM368.6 261.6h1.8v1.8h-1.8zM368.6 262.6h1.8v1.8h-1.8zM368.6 263.6h1.8v1.8h-1.8zM368.6 264.6h1.8v1.8h-1.8zM368.6 271.6h1.8v1.8h-1.8zM368.6 274.6h1.8v1.8h-1.8zM369.6 246.6h1.8v1.8h-1.8zM369.6 248.6h1.8v1.8h-1.8zM369.6 249.6h1.8v1.8h-1.8zM369.6 250.6h1.8v1.8h-1.8zM369.6 252.6h1.8v1.8h-1.8zM369.6 253.6h1.8v1.8h-1.8zM369.6 258.6h1.8v1.8h-1.8zM369.6 259.6h1.8v1.8h-1.8zM369.6 260.6h1.8v1.8h-1.8zM369.6 266.6h1.8v1.8h-1.8zM369.6 267.6h1.8v1.8h-1.8zM369.6 270.6h1.8v1.8h-1.8zM369.6 271.6h1.8v1.8h-1.8zM370.6 243.6h1.8v1.8h-1.8zM370.6 249.6h1.8v1.8h-1.8zM370.6 250.6h1.8v1.8h-1.8zM370.6 253.6h1.8v1.8h-1.8zM370.6 255.6h1.8v1.8h-1.8zM370.6 257.6h1.8v1.8h-1.8zM370.6 258.6h1.8v1.8h-1.8zM370.6 265.6h1.8v1.8h-1.8zM370.6 266.6h1.8v1.8h-1.8zM370.6 269.6h1.8v1.8h-1.8zM370.6 271.6h1.8v1.8h-1.8zM370.6 273.6h1.8v1.8h-1.8zM371.6 242.6h1.8v1.8h-1.8zM371.6 245.6h1.8v1.8h-1.8zM371.6 246.6h1.8v1.8h-1.8zM371.6 248.6h1.8v1.8h-1.8zM371.6 249.6h1.8v1.8h-1.8zM371.6 251.6h1.8v1.8h-1.8zM371.6 252.6h1.8v1.8h-1.8zM371.6 253.6h1.8v1.8h-1.8zM371.6 255.6h1.8v1.8h-1.8zM371.6 259.6h1.8v1.8h-1.8zM371.6 262.6h1.8v1.8h-1.8zM371.6 265.6h1.8v1.8h-1.8zM371.6 267.6h1.8v1.8h-1.8zM371.6 269.6h1.8v1.8h-1.8zM371.6 271.6h1.8v1.8h-1.8zM372.6 243.6h1.8v1.8h-1.8zM372.6 244.6h1.8v1.8h-1.8zM372.6 246.6h1.8v1.8h-1.8zM372.6 247.6h1.8v1.8h-1.8zM372.6 248.6h1.8v1.8h-1.8zM372.6 250.6h1.8v1.8h-1.8zM372.6 251.6h1.8v1.8h-1.8zM372.6 252.6h1.8v1.8h-1.8zM372.6 253.6h1.8v1.8h-1.8zM372.6 255.6h1.8v1.8h-1.8zM372.6 258.6h1.8v1.8h-1.8zM372.6 260.6h1.8v1.8h-1.8zM372.6 263.6h1.8v1.8h-1.8zM372.6 269.6h1.8v1.8h-1.8zM373.6 241.6h1.8v1.8h-1.8zM373.6 246.6h1.8v1.8h-1.8zM373.6 247.6h1.8v1.8h-1.8zM373.6 249.6h1.8v1.8h-1.8zM373.6 250.6h1.8v1.8h-1.8zM373.6 251.6h1.8v1.8h-1.8zM373.6 253.6h1.8v1.8h-1.8zM373.6 254.6h1.8v1.8h-1.8zM373.6 256.6h1.8v1.8h-1.8zM373.6 257.6h1.8v1.8h-1.8zM373.6 258.6h1.8v1.8h-1.8zM373.6 259.6h1.8v1.8h-1.8zM373.6 261.6h1.8v1.8h-1.8zM373.6 262.6h1.8v1.8h-1.8zM373.6 264.6h1.8v1.8h-1.8zM373.6 267.6h1.8v1.8h-1.8zM373.6 269.6h1.8v1.8h-1.8zM373.6 274.6h1.8v1.8h-1.8zM374.6 242.6h1.8v1.8h-1.8zM374.6 243.6h1.8v1.8h-1.8zM374.6 244.6h1.8v1.8h-1.8zM374.6 245.6h1.8v1.8h-1.8zM374.6 247.6h1.8v1.8h-1.8zM374.6 248.6h1.8v1.8h-1.8zM374.6 254.6h1.8v1.8h-1.8zM374.6 257.6h1.8v1.8h-1.8zM374.6 259.6h1.8v1.8h-1.8zM374.6 262.6h1.8v1.8h-1.8zM374.6 264.6h1.8v1.8h-1.8zM374.6 266.6h1.8v1.8h-1.8zM374.6 268.6h1.8v1.8h-1.8zM374.6 269.6h1.8v1.8h-1.8zM374.6 273.6h1.8v1.8h-1.8zM375.6 240.6h1.8v1.8h-1.8zM375.6 241.6h1.8v1.8h-1.8zM375.6 242.6h1.8v1.8h-1.8zM375.6 243.6h1.8v1.8h-1.8zM375.6 244.6h1.8v1.8h-1.8zM375.6 246.6h1.8v1.8h-1.8zM375.6 247.6h1.8v1.8h-1.8zM375.6 250.6h1.8v1.8h-1.8zM375.6 251.6h1.8v1.8h-1.8zM375.6 254.6h1.8v1.8h-1.8zM375.6 255.6h1.8v1.8h-1.8zM375.6 256.6h1.8v1.8h-1.8zM375.6 257.6h1.8v1.8h-1.8zM375.6 258.6h1.8v1.8h-1.8zM375.6 259.6h1.8v1.8h-1.8zM375.6 261.6h1.8v1.8h-1.8zM375.6 263.6h1.8v1.8h-1.8zM375.6 267.6h1.8v1.8h-1.8zM375.6 268.6h1.8v1.8h-1.8zM376.6 240.6h1.8v1.8h-1.8zM376.6 241.6h1.8v1.8h-1.8zM376.6 244.6h1.8v1.8h-1.8zM376.6 246.6h1.8v1.8h-1.8zM376.6 251.6h1.8v1.8h-1.8zM376.6 252.6h1.8v1.8h-1.8zM376.6 253.6h1.8v1.8h-1.8zM376.6 254.6h1.8v1.8h-1.8zM376.6 256.6h1.8v1.8h-1.8zM376.6 257.6h1.8v1.8h-1.8zM376.6 258.6h1.8v1.8h-1.8zM376.6 259.6h1.8v1.8h-1.8zM376.6 261.6h1.8v1.8h-1.8zM376.6 262.6h1.8v1.8h-1.8zM376.6 263.6h1.8v1.8h-1.8zM376.6 264.6h1.8v1.8h-1.8zM376.6 265.6h1.8v1.8h-1.8zM376.6 266.6h1.8v1.8h-1.8zM376.6 267.6h1.8v1.8h-1.8zM376.6 268.6h1.8v1.8h-1.8zM377.6 239.6h1.8v1.8h-1.8zM377.6 241.6h1.8v1.8h-1.8zM377.6 243.6h1.8v1.8h-1.8zM377.6 244.6h1.8v1.8h-1.8zM377.6 245.6h1.8v1.8h-1.8zM377.6 247.6h1.8v1.8h-1.8zM377.6 250.6h1.8v1.8h-1.8zM377.6 253.6h1.8v1.8h-1.8zM377.6 254.6h1.8v1.8h-1.8zM377.6 255.6h1.8v1.8h-1.8zM377.6 257.6h1.8v1.8h-1.8zM377.6 258.6h1.8v1.8h-1.8zM377.6 259.6h1.8v1.8h-1.8zM377.6 260.6h1.8v1.8h-1.8zM377.6 262.6h1.8v1.8h-1.8zM377.6 267.6h1.8v1.8h-1.8zM377.6 270.6h1.8v1.8h-1.8zM378.6 238.6h1.8v1.8h-1.8zM378.6 239.6h1.8v1.8h-1.8zM378.6 240.6h1.8v1.8h-1.8zM378.6 241.6h1.8v1.8h-1.8zM378.6 242.6h1.8v1.8h-1.8zM378.6 243.6h1.8v1.8h-1.8zM378.6 251.6h1.8v1.8h-1.8zM378.6 252.6h1.8v1.8h-1.8zM378.6 255.6h1.8v1.8h-1.8zM378.6 257.6h1.8v1.8h-1.8zM378.6 259.6h1.8v1.8h-1.8zM378.6 260.6h1.8v1.8h-1.8zM378.6 261.6h1.8v1.8h-1.8zM378.6 263.6h1.8v1.8h-1.8zM378.6 264.6h1.8v1.8h-1.8zM378.6 265.6h1.8v1.8h-1.8zM378.6 266.6h1.8v1.8h-1.8zM378.6 267.6h1.8v1.8h-1.8zM378.6 269.6h1.8v1.8h-1.8zM379.6 238.6h1.8v1.8h-1.8zM379.6 239.6h1.8v1.8h-1.8zM379.6 240.6h1.8v1.8h-1.8zM379.6 247.6h1.8v1.8h-1.8zM379.6 251.6h1.8v1.8h-1.8zM379.6 255.6h1.8v1.8h-1.8zM379.6 256.6h1.8v1.8h-1.8zM379.6 257.6h1.8v1.8h-1.8zM379.6 258.6h1.8v1.8h-1.8zM379.6 260.6h1.8v1.8h-1.8zM379.6 264.6h1.8v1.8h-1.8zM379.6 265.6h1.8v1.8h-1.8zM379.6 266.6h1.8v1.8h-1.8zM379.6 268.6h1.8v1.8h-1.8zM379.6 270.6h1.8v1.8h-1.8zM379.6 271.6h1.8v1.8h-1.8zM379.6 272.6h1.8v1.8h-1.8zM380.6 241.6h1.8v1.8h-1.8zM380.6 242.6h1.8v1.8h-1.8zM380.6 244.6h1.8v1.8h-1.8zM380.6 245.6h1.8v1.8h-1.8zM380.6 252.6h1.8v1.8h-1.8zM380.6 254.6h1.8v1.8h-1.8zM380.6 255.6h1.8v1.8h-1.8zM380.6 256.6h1.8v1.8h-1.8zM380.6 257.6h1.8v1.8h-1.8zM380.6 258.6h1.8v1.8h-1.8zM380.6 259.6h1.8v1.8h-1.8zM380.6 260.6h1.8v1.8h-1.8zM380.6 262.6h1.8v1.8h-1.8zM380.6 264.6h1.8v1.8h-1.8zM380.6 265.6h1.8v1.8h-1.8zM380.6 267.6h1.8v1.8h-1.8zM381.6 237.6h1.8v1.8h-1.8zM381.6 238.6h1.8v1.8h-1.8zM381.6 240.6h1.8v1.8h-1.8zM381.6 243.6h1.8v1.8h-1.8zM381.6 245.6h1.8v1.8h-1.8zM381.6 255.6h1.8v1.8h-1.8zM381.6 256.6h1.8v1.8h-1.8zM381.6 257.6h1.8v1.8h-1.8zM381.6 258.6h1.8v1.8h-1.8zM381.6 261.6h1.8v1.8h-1.8zM381.6 263.6h1.8v1.8h-1.8zM381.6 265.6h1.8v1.8h-1.8zM381.6 267.6h1.8v1.8h-1.8zM381.6 268.6h1.8v1.8h-1.8zM381.6 269.6h1.8v1.8h-1.8zM382.6 237.6h1.8v1.8h-1.8zM382.6 238.6h1.8v1.8h-1.8zM382.6 239.6h1.8v1.8h-1.8zM382.6 244.6h1.8v1.8h-1.8zM382.6 245.6h1.8v1.8h-1.8zM382.6 247.6h1.8v1.8h-1.8zM382.6 252.6h1.8v1.8h-1.8zM382.6 254.6h1.8v1.8h-1.8zM382.6 256.6h1.8v1.8h-1.8zM382.6 257.6h1.8v1.8h-1.8zM382.6 258.6h1.8v1.8h-1.8zM382.6 259.6h1.8v1.8h-1.8zM382.6 260.6h1.8v1.8h-1.8zM382.6 263.6h1.8v1.8h-1.8zM382.6 265.6h1.8v1.8h-1.8zM382.6 266.6h1.8v1.8h-1.8zM382.6 267.6h1.8v1.8h-1.8zM382.6 268.6h1.8v1.8h-1.8zM382.6 271.6h1.8v1.8h-1.8zM383.6 239.6h1.8v1.8h-1.8zM383.6 240.6h1.8v1.8h-1.8zM383.6 242.6h1.8v1.8h-1.8zM383.6 243.6h1.8v1.8h-1.8zM383.6 244.6h1.8v1.8h-1.8zM383.6 257.6h1.8v1.8h-1.8zM383.6 259.6h1.8v1.8h-1.8zM383.6 260.6h1.8v1.8h-1.8zM383.6 261.6h1.8v1.8h-1.8zM383.6 262.6h1.8v1.8h-1.8zM383.6 265.6h1.8v1.8h-1.8zM383.6 268.6h1.8v1.8h-1.8zM383.6 270.6h1.8v1.8h-1.8zM383.6 271.6h1.8v1.8h-1.8zM383.6 273.6h1.8v1.8h-1.8zM384.6 233.6h1.8v1.8h-1.8zM384.6 236.6h1.8v1.8h-1.8zM384.6 239.6h1.8v1.8h-1.8zM384.6 242.6h1.8v1.8h-1.8zM384.6 257.6h1.8v1.8h-1.8zM384.6 259.6h1.8v1.8h-1.8zM384.6 261.6h1.8v1.8h-1.8zM384.6 262.6h1.8v1.8h-1.8zM384.6 267.6h1.8v1.8h-1.8zM384.6 270.6h1.8v1.8h-1.8zM384.6 271.6h1.8v1.8h-1.8zM385.6 239.6h1.8v1.8h-1.8zM385.6 242.6h1.8v1.8h-1.8zM385.6 253.6h1.8v1.8h-1.8zM385.6 256.6h1.8v1.8h-1.8zM385.6 258.6h1.8v1.8h-1.8zM385.6 259.6h1.8v1.8h-1.8zM385.6 260.6h1.8v1.8h-1.8zM385.6 261.6h1.8v1.8h-1.8zM385.6 266.6h1.8v1.8h-1.8zM385.6 267.6h1.8v1.8h-1.8zM385.6 268.6h1.8v1.8h-1.8zM386.6 236.6h1.8v1.8h-1.8zM386.6 241.6h1.8v1.8h-1.8zM386.6 256.6h1.8v1.8h-1.8zM386.6 257.6h1.8v1.8h-1.8zM386.6 258.6h1.8v1.8h-1.8zM386.6 259.6h1.8v1.8h-1.8zM386.6 261.6h1.8v1.8h-1.8zM386.6 262.6h1.8v1.8h-1.8zM386.6 263.6h1.8v1.8h-1.8zM386.6 265.6h1.8v1.8h-1.8zM386.6 270.6h1.8v1.8h-1.8zM386.6 272.6h1.8v1.8h-1.8zM386.6 273.6h1.8v1.8h-1.8zM386.6 274.6h1.8v1.8h-1.8zM387.6 239.6h1.8v1.8h-1.8zM387.6 240.6h1.8v1.8h-1.8zM387.6 242.6h1.8v1.8h-1.8zM387.6 256.6h1.8v1.8h-1.8zM387.6 258.6h1.8v1.8h-1.8zM387.6 259.6h1.8v1.8h-1.8zM387.6 260.6h1.8v1.8h-1.8zM387.6 262.6h1.8v1.8h-1.8zM387.6 265.6h1.8v1.8h-1.8zM387.6 269.6h1.8v1.8h-1.8zM388.6 238.6h1.8v1.8h-1.8zM388.6 240.6h1.8v1.8h-1.8zM388.6 241.6h1.8v1.8h-1.8zM388.6 242.6h1.8v1.8h-1.8zM388.6 253.6h1.8v1.8h-1.8zM388.6 255.6h1.8v1.8h-1.8zM388.6 258.6h1.8v1.8h-1.8zM388.6 259.6h1.8v1.8h-1.8zM388.6 260.6h1.8v1.8h-1.8zM388.6 262.6h1.8v1.8h-1.8zM388.6 263.6h1.8v1.8h-1.8zM388.6 268.6h1.8v1.8h-1.8zM388.6 270.6h1.8v1.8h-1.8zM389.6 239.6h1.8v1.8h-1.8zM389.6 240.6h1.8v1.8h-1.8zM389.6 244.6h1.8v1.8h-1.8zM389.6 250.6h1.8v1.8h-1.8zM389.6 253.6h1.8v1.8h-1.8zM389.6 254.6h1.8v1.8h-1.8zM389.6 256.6h1.8v1.8h-1.8zM389.6 257.6h1.8v1.8h-1.8zM389.6 260.6h1.8v1.8h-1.8zM389.6 262.6h1.8v1.8h-1.8zM390.6 232.6h1.8v1.8h-1.8zM390.6 235.6h1.8v1.8h-1.8zM390.6 236.6h1.8v1.8h-1.8zM390.6 238.6h1.8v1.8h-1.8zM390.6 241.6h1.8v1.8h-1.8zM390.6 243.6h1.8v1.8h-1.8zM390.6 254.6h1.8v1.8h-1.8zM390.6 255.6h1.8v1.8h-1.8zM390.6 258.6h1.8v1.8h-1.8zM390.6 259.6h1.8v1.8h-1.8zM390.6 260.6h1.8v1.8h-1.8zM390.6 264.6h1.8v1.8h-1.8zM390.6 266.6h1.8v1.8h-1.8zM390.6 270.6h1.8v1.8h-1.8zM390.6 271.6h1.8v1.8h-1.8zM391.6 234.6h1.8v1.8h-1.8zM391.6 236.6h1.8v1.8h-1.8zM391.6 238.6h1.8v1.8h-1.8zM391.6 241.6h1.8v1.8h-1.8zM391.6 244.6h1.8v1.8h-1.8zM391.6 254.6h1.8v1.8h-1.8zM391.6 256.6h1.8v1.8h-1.8zM391.6 258.6h1.8v1.8h-1.8zM391.6 259.6h1.8v1.8h-1.8zM391.6 261.6h1.8v1.8h-1.8zM391.6 262.6h1.8v1.8h-1.8zM391.6 263.6h1.8v1.8h-1.8zM391.6 264.6h1.8v1.8h-1.8zM392.6 234.6h1.8v1.8h-1.8zM392.6 239.6h1.8v1.8h-1.8zM392.6 240.6h1.8v1.8h-1.8zM392.6 245.6h1.8v1.8h-1.8zM392.6 250.6h1.8v1.8h-1.8zM392.6 255.6h1.8v1.8h-1.8zM392.6 256.6h1.8v1.8h-1.8zM392.6 258.6h1.8v1.8h-1.8zM392.6 263.6h1.8v1.8h-1.8zM392.6 265.6h1.8v1.8h-1.8zM392.6 266.6h1.8v1.8h-1.8zM392.6 268.6h1.8v1.8h-1.8zM392.6 269.6h1.8v1.8h-1.8zM392.6 271.6h1.8v1.8h-1.8zM393.6 241.6h1.8v1.8h-1.8zM393.6 242.6h1.8v1.8h-1.8zM393.6 243.6h1.8v1.8h-1.8zM393.6 244.6h1.8v1.8h-1.8zM393.6 246.6h1.8v1.8h-1.8zM393.6 248.6h1.8v1.8h-1.8zM393.6 249.6h1.8v1.8h-1.8zM393.6 252.6h1.8v1.8h-1.8zM393.6 254.6h1.8v1.8h-1.8zM393.6 255.6h1.8v1.8h-1.8zM393.6 258.6h1.8v1.8h-1.8zM393.6 262.6h1.8v1.8h-1.8zM393.6 270.6h1.8v1.8h-1.8zM393.6 271.6h1.8v1.8h-1.8zM394.6 239.6h1.8v1.8h-1.8zM394.6 241.6h1.8v1.8h-1.8zM394.6 242.6h1.8v1.8h-1.8zM394.6 243.6h1.8v1.8h-1.8zM394.6 245.6h1.8v1.8h-1.8zM394.6 257.6h1.8v1.8h-1.8zM394.6 258.6h1.8v1.8h-1.8zM394.6 259.6h1.8v1.8h-1.8zM394.6 260.6h1.8v1.8h-1.8zM394.6 262.6h1.8v1.8h-1.8zM394.6 263.6h1.8v1.8h-1.8zM394.6 264.6h1.8v1.8h-1.8zM394.6 266.6h1.8v1.8h-1.8zM394.6 269.6h1.8v1.8h-1.8zM395.6 240.6h1.8v1.8h-1.8zM395.6 241.6h1.8v1.8h-1.8zM395.6 242.6h1.8v1.8h-1.8zM395.6 246.6h1.8v1.8h-1.8zM395.6 250.6h1.8v1.8h-1.8zM395.6 251.6h1.8v1.8h-1.8zM395.6 252.6h1.8v1.8h-1.8zM395.6 253.6h1.8v1.8h-1.8zM395.6 254.6h1.8v1.8h-1.8zM395.6 255.6h1.8v1.8h-1.8zM395.6 258.6h1.8v1.8h-1.8zM395.6 262.6h1.8v1.8h-1.8zM395.6 265.6h1.8v1.8h-1.8zM395.6 266.6h1.8v1.8h-1.8zM396.6 239.6h1.8v1.8h-1.8zM396.6 243.6h1.8v1.8h-1.8zM396.6 244.6h1.8v1.8h-1.8zM396.6 245.6h1.8v1.8h-1.8zM396.6 247.6h1.8v1.8h-1.8zM396.6 248.6h1.8v1.8h-1.8zM396.6 249.6h1.8v1.8h-1.8zM396.6 250.6h1.8v1.8h-1.8zM396.6 253.6h1.8v1.8h-1.8zM396.6 254.6h1.8v1.8h-1.8zM396.6 257.6h1.8v1.8h-1.8zM396.6 259.6h1.8v1.8h-1.8zM396.6 260.6h1.8v1.8h-1.8zM396.6 262.6h1.8v1.8h-1.8zM396.6 264.6h1.8v1.8h-1.8zM396.6 266.6h1.8v1.8h-1.8zM396.6 270.6h1.8v1.8h-1.8zM397.6 239.6h1.8v1.8h-1.8zM397.6 240.6h1.8v1.8h-1.8zM397.6 242.6h1.8v1.8h-1.8zM397.6 244.6h1.8v1.8h-1.8zM397.6 248.6h1.8v1.8h-1.8zM397.6 250.6h1.8v1.8h-1.8zM397.6 251.6h1.8v1.8h-1.8zM397.6 253.6h1.8v1.8h-1.8zM397.6 254.6h1.8v1.8h-1.8zM397.6 256.6h1.8v1.8h-1.8zM397.6 257.6h1.8v1.8h-1.8zM397.6 258.6h1.8v1.8h-1.8zM397.6 259.6h1.8v1.8h-1.8zM397.6 260.6h1.8v1.8h-1.8zM397.6 268.6h1.8v1.8h-1.8zM397.6 271.6h1.8v1.8h-1.8zM398.6 246.6h1.8v1.8h-1.8zM398.6 247.6h1.8v1.8h-1.8zM398.6 248.6h1.8v1.8h-1.8zM398.6 249.6h1.8v1.8h-1.8zM398.6 252.6h1.8v1.8h-1.8zM398.6 253.6h1.8v1.8h-1.8zM398.6 255.6h1.8v1.8h-1.8zM398.6 256.6h1.8v1.8h-1.8zM398.6 257.6h1.8v1.8h-1.8zM398.6 258.6h1.8v1.8h-1.8zM398.6 262.6h1.8v1.8h-1.8zM398.6 263.6h1.8v1.8h-1.8zM398.6 268.6h1.8v1.8h-1.8zM399.6 244.6h1.8v1.8h-1.8zM399.6 247.6h1.8v1.8h-1.8zM399.6 248.6h1.8v1.8h-1.8zM399.6 250.6h1.8v1.8h-1.8zM399.6 253.6h1.8v1.8h-1.8zM399.6 254.6h1.8v1.8h-1.8zM399.6 255.6h1.8v1.8h-1.8zM399.6 260.6h1.8v1.8h-1.8zM399.6 261.6h1.8v1.8h-1.8zM399.6 269.6h1.8v1.8h-1.8zM400.6 239.6h1.8v1.8h-1.8zM400.6 241.6h1.8v1.8h-1.8zM400.6 244.6h1.8v1.8h-1.8zM400.6 247.6h1.8v1.8h-1.8zM400.6 251.6h1.8v1.8h-1.8zM400.6 255.6h1.8v1.8h-1.8zM400.6 258.6h1.8v1.8h-1.8zM400.6 267.6h1.8v1.8h-1.8zM401.6 258.6h1.8v1.8h-1.8zM402.6 248.6h1.8v1.8h-1.8zM403.6 239.6h1.8v1.8h-1.8zM403.6 254.6h1.8v1.8h-1.8zM403.6 258.6h1.8v1.8h-1.8zM404.6 242.6h1.8v1.8h-1.8zM405.6 253.6h1.8v1.8h-1.8zM405.6 256.6h1.8v1.8h-1.8zM406.6 236.6h1.8v1.8h-1.8zM409.6 249.6h1.8v1.8h-1.8zM410.6 241.6h1.8v1.8h-1.8zM413.6 246.6h1.8v1.8h-1.8z"/>
<path fill="#0050ff" d="M354.6 269.6h1.8v1.8h-1.8zM354.6 270.6h1.8v1.8h-1.8zM354.6 271.6h1.8v1.8h-1.8zM355.6 251.6h1.8v1.8h-1.8zM355.6 254.6h1.8v1.8h-1.8zM355.6 256.6h1.8v1.8h-1.8zM356.6 248.6h1.8v1.8h-1.8zM356.6 254.6h1.8v1.8h-1.8zM356.6 257.6h1.8v1.8h-1.8zM356.6 260.6h1.8v1.8h-1.8zM356.6 261.6h1.8v1.8h-1.8zM356.6 263.6h1.8v1.8h-1.8zM356.6 264.6h1.8v1.8h-1.8zM357.6 243.6h1.8v1.8h-1.8zM357.6 244.6h1.8v1.8h-1.8zM357.6 245.6h1.8v1.8h-1.8zM357.6 252.6h1.8v1.8h-1.8zM357.6 258.6h1.8v1.8h-1.8zM357.6 260.6h1.8v1.8h-1.8zM357.6 264.6h1.8v1.8h-1.8zM357.6 278.6h1.8v1.8h-1.8zM357.6 279.6h1.8v1.8h-1.8zM358.6 245.6h1.8v1.8h-1.8zM358.6 248.6h1.8v1.8h-1.8zM358.6 251.6h1.8v1.8h-1.8zM358.6 254.6h1.8v1.8h-1.8zM358.6 279.6h1.8v1.8h-1.8zM358.6 280.6h1.8v1.8h-1.8zM359.6 248.6h1.8v1.8h-1.8zM359.6 250.6h1.8v1.8h-1.8zM359.6 252.6h1.8v1.8h-1.8zM359.6 264.6h1.8v1.8h-1.8zM359.6 265.6h1.8v1.8h-1.8zM359.6 277.6h1.8v1.8h-1.8zM359.6 278.6h1.8v1.8h-1.8zM360.6 257.6h1.8v1.8h-1.8zM360.6 261.6h1.8v1.8h-1.8zM360.6 264.6h1.8v1.8h-1.8zM360.6 266.6h1.8v1.8h-1.8zM360.6 267.6h1.8v1.8h-1.8zM360.6 269.6h1.8v1.8h-1.8zM360.6 272.6h1.8v1.8h-1.8zM375.6 252.6h1.8v1.8h-1.8zM377.6 248.6h1.8v1.8h-1.8zM377.6 251.6h1.8v1.8h-1.8zM377.6 252.6h1.8v1.8h-1.8zM378.6 245.6h1.8v1.8h-1.8zM378.6 247.6h1.8v1.8h-1.8zM378.6 248.6h1.8v1.8h-1.8zM378.6 249.6h1.8v1.8h-1.8zM379.6 244.6h1.8v1.8h-1.8zM379.6 248.6h1.8v1.8h-1.8zM379.6 249.6h1.8v1.8h-1.8zM379.6 250.6h1.8v1.8h-1.8zM380.6 248.6h1.8v1.8h-1.8zM380.6 249.6h1.8v1.8h-1.8zM380.6 250.6h1.8v1.8h-1.8zM381.6 246.6h1.8v1.8h-1.8zM381.6 249.6h1.8v1.8h-1.8zM381.6 251.6h1.8v1.8h-1.8zM381.6 253.6h1.8v1.8h-1.8zM381.6 254.6h1.8v1.8h-1.8zM382.6 246.6h1.8v1.8h-1.8zM382.6 248.6h1.8v1.8h-1.8zM382.6 251.6h1.8v1.8h-1.8zM382.6 255.6h1.8v1.8h-1.8zM383.6 251.6h1.8v1.8h-1.8zM383.6 252.6h1.8v1.8h-1.8zM383.6 254.6h1.8v1.8h-1.8zM383.6 255.6h1.8v1.8h-1.8zM384.6 247.6h1.8v1.8h-1.8zM384.6 248.6h1.8v1.8h-1.8zM384.6 250.6h1.8v1.8h-1.8zM384.6 254.6h1.8v1.8h-1.8zM384.6 255.6h1.8v1.8h-1.8zM385.6 243.6h1.8v1.8h-1.8zM385.6 249.6h1.8v1.8h-1.8zM385.6 252.6h1.8v1.8h-1.8zM385.6 255.6h1.8v1.8h-1.8zM386.6 242.6h1.8v1.8h-1.8zM386.6 243.6h1.8v1.8h-1.8zM386.6 244.6h1.8v1.8h-1.8zM386.6 247.6h1.8v1.8h-1.8zM386.6 251.6h1.8v1.8h-1.8zM386.6 254.6h1.8v1.8h-1.8zM387.6 244.6h1.8v1.8h-1.8zM387.6 247.6h1.8v1.8h-1.8zM387.6 253.6h1.8v1.8h-1.8zM387.6 254.6h1.8v1.8h-1.8zM388.6 245.6h1.8v1.8h-1.8zM388.6 256.6h1.8v1.8h-1.8zM389.6 249.6h1.8v1.8h-1.8zM389.6 252.6h1.8v1.8h-1.8zM389.6 255.6h1.8v1.8h-1.8zM390.6 249.6h1.8v1.8h-1.8zM390.6 252.6h1.8v1.8h-1.8zM390.6 253.6h1.8v1.8h-1.8zM391.6 246.6h1.8v1.8h-1.8zM391.6 250.6h1.8v1.8h-1.8zM391.6 251.6h1.8v1.8h-1.8zM391.6 252.6h1.8v1.8h-1.8zM391.6 253.6h1.8v1.8h-1.8zM392.6 247.6h1.8v1.8h-1.8zM392.6 251.6h1.8v1.8h-1.8zM392.6 252.6h1.8v1.8h-1.8zM392.6 253.6h1.8v1.8h-1.8zM392.6 254.6h1.8v1.8h-1.8zM394.6 247.6h1.8v1.8h-1.8zM394.6 251.6h1.8v1.8h-1.8zM394.6 252.6h1.8v1.8h-1.8zM394.6 253.6h1.8v1.8h-1.8zM395.6 247.6h1.8v1.8h-1.8z"/>
<path fill="#00c8ff" d="M355.6 266.6h1.8v1.8h-1.8zM355.6 267.6h1.8v1.8h-1.8zM355.6 270.6h1.8v1.8h-1.8zM355.6 274.6h1.8v1.8h-1.8zM356.6 252.6h1.8v1.8h-1.8zM356.6 255.6h1.8v1.8h-1.8zM356.6 256.6h1.8v1.8h-1.8zM356.6 258.6h1.8v1.8h-1.8zM356.6 266.6h1.8v1.8h-1.8zM356.6 277.6h1.8v1.8h-1.8zM357.6 246.6h1.8v1.8h-1.8zM357.6 249.6h1.8v1.8h-1.8zM357.6 251.6h1.8v1.8h-1.8zM357.6 255.6h1.8v1.8h-1.8zM357.6 256.6h1.8v1.8h-1.8zM357.6 261.6h1.8v1.8h-1.8zM357.6 263.6h1.8v1.8h-1.8zM358.6 246.6h1.8v1.8h-1.8zM358.6 255.6h1.8v1.8h-1.8zM358.6 262.6h1.8v1.8h-1.8zM358.6 263.6h1.8v1.8h-1.8zM358.6 265.6h1.8v1.8h-1.8zM358.6 278.6h1.8v1.8h-1.8zM359.6 253.6h1.8v1.8h-1.8zM359.6 260.6h1.8v1.8h-1.8zM359.6 266.6h1.8v1.8h-1.8zM359.6 276.6h1.8v1.8h-1.8zM360.6 254.6h1.8v1.8h-1.8zM360.6 260.6h1.8v1.8h-1.8zM360.6 271.6h1.8v1.8h-1.8zM360.6 274.6h1.8v1.8h-1.8zM374.6 250.6h1.8v1.8h-1.8zM377.6 249.6h1.8v1.8h-1.8zM378.6 250.6h1.8v1.8h-1.8zM380.6 247.6h1.8v1.8h-1.8zM382.6 250.6h1.8v1.8h-1.8zM383.6 245.6h1.8v1.8h-1.8zM383.6 247.6h1.8v1.8h-1.8zM383.6 250.6h1.8v1.8h-1.8zM383.6 253.6h1.8v1.8h-1.8zM384.6 244.6h1.8v1.8h-1.8zM384.6 246.6h1.8v1.8h-1.8zM384.6 249.6h1.8v1.8h-1.8zM384.6 251.6h1.8v1.8h-1.8zM384.6 252.6h1.8v1.8h-1.8zM385.6 246.6h1.8v1.8h-1.8zM385.6 248.6h1.8v1.8h-1.8zM385.6 251.6h1.8v1.8h-1.8zM386.6 246.6h1.8v1.8h-1.8zM387.6 245.6h1.8v1.8h-1.8zM387.6 249.6h1.8v1.8h-1.8zM388.6 250.6h1.8v1.8h-1.8zM388.6 252.6h1.8v1.8h-1.8zM388.6 254.6h1.8v1.8h-1.8zM389.6 245.6h1.8v1.8h-1.8zM389.6 247.6h1.8v1.8h-1.8zM389.6 248.6h1.8v1.8h-1.8zM389.6 251.6h1.8v1.8h-1.8zM390.6 244.6h1.8v1.8h-1.8zM390.6 245.6h1.8v1.8h-1.8zM390.6 246.6h1.8v1.8h-1.8zM390.6 250.6h1.8v1.8h-1.8zM390.6 251.6h1.8v1.8h-1.8zM391.6 245.6h1.8v1.8h-1.8zM391.6 257.6h1.8v1.8h-1.8zM392.6 243.6h1.8v1.8h-1.8zM393.6 247.6h1.8v1.8h-1.8zM393.6 250.6h1.8v1.8h-1.8zM394.6 250.6h1.8v1.8h-1.8z"/>
<path fill="#00e070" d="M355.6 268.6h1.8v1.8h-1.8zM355.6 269.6h1.8v1.8h-1.8zM356.6 265.6h1.8v1.8h-1.8zM357.6 265.6h1.8v1.8h-1.8zM357.6 277.6h1.8v1.8h-1.8zM358.6 256.6h1.8v1.8h-1.8zM358.6 258.6h1.8v1.8h-1.8zM359.6 256.6h1.8v1.8h-1.8zM359.6 274.6h1.8v1.8h-1.8zM359.6 275.6h1.8v1.8h-1.8zM380.6 251.6h1.8v1.8h-1.8zM381.6 247.6h1.8v1.8h-1.8zM381.6 252.6h1.8v1.8h-1.8zM382.6 253.6h1.8v1.8h-1.8zM383.6 248.6h1.8v1.8h-1.8zM384.6 245.6h1.8v1.8h-1.8zM384.6 253.6h1.8v1.8h-1.8zM385.6 245.6h1.8v1.8h-1.8zM385.6 247.6h1.8v1.8h-1.8zM385.6 250.6h1.8v1.8h-1.8zM386.6 248.6h1.8v1.8h-1.8zM386.6 250.6h1.8v1.8h-1.8zM386.6 252.6h1.8v1.8h-1.8zM387.6 251.6h1.8v1.8h-1.8zM387.6 252.6h1.8v1.8h-1.8zM388.6 248.6h1.8v1.8h-1.8zM388.6 249.6h1.8v1.8h-1.8zM391.6 249.6h1.8v1.8h-1.8zM392.6 248.6h1.8v1.8h-1.8zM395.6 248.6h1.8v1.8h-1.8z"/>
<path fill="#30e000" d="M355.6 271.6h1.8v1.8h-1.8zM355.6 272.6h1.8v1.8h-1.8zM356.6 249.6h1.8v1.8h-1.8zM356.6 251.6h1.8v1.8h-1.8zM356.6 268.6h1.8v1.8h-1.8zM356.6 274.6h1.8v1.8h-1.8zM356.6 276.6h1.8v1.8h-1.8zM357.6 250.6h1.8v1.8h-1.8zM357.6 254.6h1.8v1.8h-1.8zM357.6 257.6h1.8v1.8h-1.8zM357.6 259.6h1.8v1.8h-1.8zM357.6 276.6h1.8v1.8h-1.8zM358.6 253.6h1.8v1.8h-1.8zM358.6 257.6h1.8v1.8h-1.8zM358.6 259.6h1.8v1.8h-1.8zM358.6 261.6h1.8v1.8h-1.8zM358.6 266.6h1.8v1.8h-1.8zM359.6 255.6h1.8v1.8h-1.8zM359.6 267.6h1.8v1.8h-1.8zM359.6 273.6h1.8v1.8h-1.8zM360.6 270.6h1.8v1.8h-1.8zM360.6 273.6h1.8v1.8h-1.8zM382.6 249.6h1.8v1.8h-1.8zM386.6 249.6h1.8v1.8h-1.8zM387.6 248.6h1.8v1.8h-1.8zM387.6 250.6h1.8v1.8h-1.8zM388.6 251.6h1.8v1.8h-1.8zM390.6 248.6h1.8v1.8h-1.8zM391.6 247.6h1.8v1.8h-1.8z"/>
<path fill="#b0f000" d="M355.6 273.6h1.8v1.8h-1.8zM356.6 267.6h1.8v1.8h-1.8zM356.6 269.6h1.8v1.8h-1.8zM356.6 272.6h1.8v1.8h-1.8zM357.6 266.6h1.8v1.8h-1.8zM357.6 275.6h1.8v1.8h-1.8zM358.6 267.6h1.8v1.8h-1.8zM358.6 275.6h1.8v1.8h-1.8zM358.6 276.6h1.8v1.8h-1.8zM359.6 268.6h1.8v1.8h-1.8z"/>
<path fill="#ffe000" d="M356.6 270.6h1.8v1.8h-1.8zM356.6 273.6h1.8v1.8h-1.8zM356.6 275.6h1.8v1.8h-1.8zM357.6 267.6h1.8v1.8h-1.8zM357.6 274.6h1.8v1.8h-1.8zM358.6 274.6h1.8v1.8h-1.8zM359.6 269.6h1.8v1.8h-1.8zM359.6 270.6h1.8v1.8h-1.8zM359.6 271.6h1.8v1.8h-1.8zM359.6 272.6h1.8v1.8h-1.8z"/>
<path fill="#ff9000" d="M357.6 268.6h1.8v1.8h-1.8zM357.6 269.6h1.8v1.8h-1.8zM358.6 270.6h1.8v1.8h-1.8zM358.6 271.6h1.8v1.8h-1.8zM358.6 272.6h1.8v1.8h-1.8z"/>
<path fill="#ff2a00" d="M356.6 271.6h1.8v1.8h-1.8zM357.6 270.6h1.8v1.8h-1.8zM357.6 271.6h1.8v1.8h-1.8zM357.6 272.6h1.8v1.8h-1.8zM357.6 273.6h1.8v1.8h-1.8zM358.6 269.6h1.8v1.8h-1.8zM358.6 273.6h1.8v1.8h-1.8z"/></g>
<rect x="22.80" y="203.40" width="86.40" height="60.60" fill="none" stroke="#4a4a4a" stroke-width="0.85"/>
<rect x="45.50" y="220.70" width="56.60" height="43.30" fill="none" stroke="#4a4a4a" stroke-width="0.85"/>
<text x="28.00" y="212.60" font-size="7.4" text-anchor="start" font-weight="normal" fill="#151515" stroke="#151515" stroke-width="0.05" textLength="16.40" lengthAdjust="spacingAndGlyphs">44.0</text>
<text x="81.30" y="228.90" font-size="7.4" text-anchor="start" font-weight="normal" fill="#f0304a" stroke="#f0304a" stroke-width="0.05" textLength="16.00" lengthAdjust="spacingAndGlyphs">70.0</text>
<rect x="128.60" y="203.40" width="86.90" height="60.60" fill="none" stroke="#4a4a4a" stroke-width="0.85"/>
<rect x="151.50" y="220.90" width="56.80" height="43.10" fill="none" stroke="#4a4a4a" stroke-width="0.85"/>
<text x="133.45" y="212.60" font-size="7.4" text-anchor="start" font-weight="normal" fill="#151515" stroke="#151515" stroke-width="0.05" textLength="15.10" lengthAdjust="spacingAndGlyphs">32.8</text>
<text x="186.80" y="228.90" font-size="7.4" text-anchor="start" font-weight="normal" fill="#f0304a" stroke="#f0304a" stroke-width="0.05" textLength="14.90" lengthAdjust="spacingAndGlyphs">74.4</text>
<rect x="235.80" y="203.20" width="86.60" height="60.80" fill="none" stroke="#4a4a4a" stroke-width="0.85"/>
<rect x="258.10" y="220.70" width="57.40" height="43.30" fill="none" stroke="#4a4a4a" stroke-width="0.85"/>
<text x="241.00" y="212.60" font-size="7.4" text-anchor="start" font-weight="normal" fill="#151515" stroke="#151515" stroke-width="0.05" textLength="14.30" lengthAdjust="spacingAndGlyphs">19.6</text>
<text x="295.80" y="228.90" font-size="7.4" text-anchor="start" font-weight="normal" fill="#f0304a" stroke="#f0304a" stroke-width="0.05" textLength="13.90" lengthAdjust="spacingAndGlyphs">42.1</text>
<rect x="342.50" y="203.00" width="87.60" height="61.00" fill="none" stroke="#4a4a4a" stroke-width="0.85"/>
<rect x="364.90" y="220.50" width="57.20" height="43.50" fill="none" stroke="#4a4a4a" stroke-width="0.85"/>
<text x="346.10" y="212.60" font-size="7.4" text-anchor="start" font-weight="normal" fill="#151515" stroke="#151515" stroke-width="0.05" textLength="15.30" lengthAdjust="spacingAndGlyphs">28.9</text>
<text x="401.50" y="228.90" font-size="7.4" text-anchor="start" font-weight="normal" fill="#f0304a" stroke="#f0304a" stroke-width="0.05" textLength="16.00" lengthAdjust="spacingAndGlyphs">69.0</text>
<line x1="3.80" y1="200.00" x2="3.80" y2="270.00" stroke="#4a5670" stroke-width="1.2"/>
<path d="M3.8 196.2 L1.6 201 L6 201 Z" fill="#4a5670"/>
<text x="6.60" y="299.30" font-size="8.2" text-anchor="start" font-weight="normal" fill="#151515" stroke="#151515" stroke-width="0.1" transform="rotate(-90 6.60 299.30)" textLength="25.60" lengthAdjust="spacing">Foxp3</text>
<text x="12.50" y="312.10" font-size="8.5" text-anchor="start" font-weight="normal" fill="#151515" stroke="#151515" stroke-width="0.1" textLength="14.90" lengthAdjust="spacing">ST2</text>
<line x1="32.80" y1="309.00" x2="432.00" y2="309.00" stroke="#4a5670" stroke-width="1.3"/>
<path d="M436.3 309 L431.5 306.7 L431.5 311.3 Z" fill="#4a5670"/>
<text x="436.60" y="323.50" font-size="8.5" text-anchor="end" font-weight="normal" fill="#151515" stroke="#151515" stroke-width="0.1" textLength="106.90" lengthAdjust="spacing"><tspan>Gated on CD4</tspan><tspan dy="-3.23" font-size="5.61">+</tspan><tspan dy="3.23">TCRβ</tspan><tspan dy="-3.23" font-size="5.61">+</tspan><tspan dy="3.23"> cells</tspan></text>
</svg>
</body></html>
